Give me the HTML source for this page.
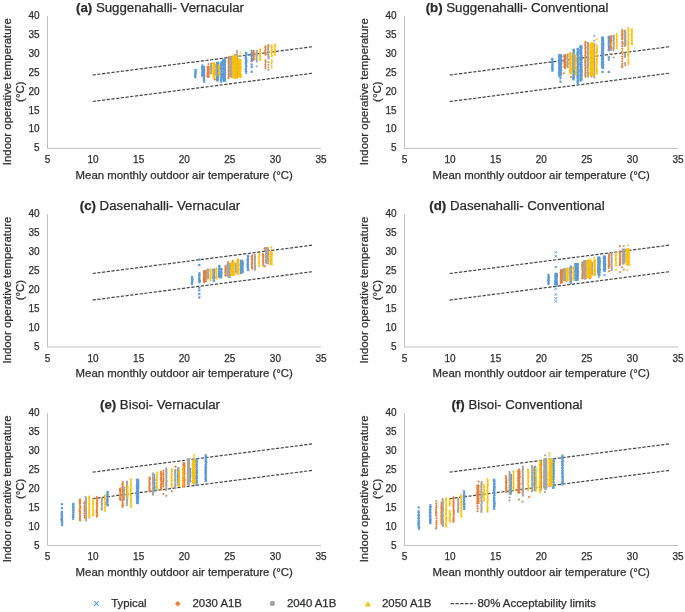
<!DOCTYPE html><html><head><meta charset="utf-8"><style>html,body{margin:0;padding:0;background:#fff;width:685px;height:612px;overflow:hidden}svg{display:block;will-change:transform}text{font-family:"Liberation Sans", sans-serif;stroke:#2e2e2e;stroke-width:0.25px}</style></head><body>
<svg width="685" height="612" viewBox="0 0 685 612">
<g>
<rect width="685" height="612" fill="#fff"/>
<text x="160" y="11.80" font-size="13.25" fill="#2a2a2a" text-anchor="middle"><tspan font-weight="bold">(a)</tspan> Suggenahalli- Vernacular</text>
<text x="39.50" y="151.40" font-size="10" fill="#2e2e2e" text-anchor="end">5</text>
<text x="39.50" y="132.47" font-size="10" fill="#2e2e2e" text-anchor="end">10</text>
<text x="39.50" y="113.54" font-size="10" fill="#2e2e2e" text-anchor="end">15</text>
<text x="39.50" y="94.61" font-size="10" fill="#2e2e2e" text-anchor="end">20</text>
<text x="39.50" y="75.69" font-size="10" fill="#2e2e2e" text-anchor="end">25</text>
<text x="39.50" y="56.76" font-size="10" fill="#2e2e2e" text-anchor="end">30</text>
<text x="39.50" y="37.83" font-size="10" fill="#2e2e2e" text-anchor="end">35</text>
<text x="39.50" y="18.90" font-size="10" fill="#2e2e2e" text-anchor="end">40</text>
<text x="47.50" y="162.90" font-size="10" fill="#2e2e2e" text-anchor="middle">5</text>
<text x="93.08" y="162.90" font-size="10" fill="#2e2e2e" text-anchor="middle">10</text>
<text x="138.67" y="162.90" font-size="10" fill="#2e2e2e" text-anchor="middle">15</text>
<text x="184.25" y="162.90" font-size="10" fill="#2e2e2e" text-anchor="middle">20</text>
<text x="229.83" y="162.90" font-size="10" fill="#2e2e2e" text-anchor="middle">25</text>
<text x="275.42" y="162.90" font-size="10" fill="#2e2e2e" text-anchor="middle">30</text>
<text x="321.00" y="162.90" font-size="10" fill="#2e2e2e" text-anchor="middle">35</text>
<path d="M47.50 15.90V148.40H321.00" fill="none" stroke="#bfbfbf" stroke-width="1"/>
<line x1="92.63" y1="75.02" x2="312.61" y2="46.70" stroke="#444" stroke-width="1.2" stroke-dasharray="3.2 1.54"/>
<line x1="92.63" y1="101.52" x2="312.61" y2="73.20" stroke="#444" stroke-width="1.2" stroke-dasharray="3.2 1.54"/>
<defs>
<path id="mb" d="M-1 -1.05L1 1.05M1 -1.05L-1 1.05" stroke="#5b9bd5" stroke-width="1.25" fill="none"/>
<path id="mo" d="M0 -1.3L1.3 0L0 1.3L-1.3 0Z" fill="#ed7d31"/>
<circle id="mg" r="1.12" fill="#a5a5a5"/>
<path id="my" d="M0 -1.3L1.25 1L-1.25 1Z" fill="#ffc000"/>
<rect id="sb" x="-1.1" y="-1.1" width="2.2" height="2.2" fill="#5b9bd5"/>
<path id="sx" d="M-1.15 -1.15L1.15 1.15M1.15 -1.15L-1.15 1.15" stroke="#5b9bd5" stroke-width="1" fill="none"/>
</defs>
<use href="#mb" x="195.5" y="70.3"/>
<use href="#mb" x="195.6" y="71.5"/>
<use href="#mb" x="195.6" y="72.6"/>
<use href="#mb" x="195.3" y="74.0"/>
<use href="#mb" x="195.3" y="75.5"/>
<use href="#mb" x="195.3" y="76.9"/>
<use href="#mb" x="202.4" y="65.7"/>
<use href="#mb" x="202.3" y="67.5"/>
<use href="#mb" x="202.5" y="68.7"/>
<use href="#mb" x="202.5" y="70.6"/>
<use href="#mb" x="202.7" y="72.1"/>
<use href="#mb" x="202.6" y="73.1"/>
<use href="#mb" x="202.3" y="74.5"/>
<use href="#mb" x="202.4" y="75.6"/>
<use href="#mb" x="203.8" y="66.9"/>
<use href="#mb" x="204.1" y="68.5"/>
<use href="#mb" x="204.0" y="69.9"/>
<use href="#mb" x="203.8" y="71.0"/>
<use href="#mb" x="204.1" y="72.2"/>
<use href="#mb" x="203.9" y="73.6"/>
<use href="#mb" x="204.0" y="75.2"/>
<use href="#mb" x="204.1" y="76.5"/>
<use href="#mb" x="203.9" y="78.2"/>
<use href="#mb" x="204.0" y="79.8"/>
<use href="#mb" x="204.1" y="81.6"/>
<use href="#mb" x="217.3" y="63.0"/>
<use href="#mb" x="217.1" y="64.2"/>
<use href="#mb" x="216.9" y="65.9"/>
<use href="#mb" x="216.9" y="67.4"/>
<use href="#mb" x="217.2" y="69.0"/>
<use href="#mb" x="217.3" y="70.6"/>
<use href="#mb" x="217.2" y="71.9"/>
<use href="#mb" x="217.1" y="73.5"/>
<use href="#mb" x="217.3" y="75.0"/>
<use href="#mb" x="217.1" y="76.9"/>
<use href="#mb" x="216.9" y="78.5"/>
<use href="#mb" x="217.2" y="80.2"/>
<use href="#mb" x="218.1" y="63.0"/>
<use href="#mb" x="217.8" y="64.3"/>
<use href="#mb" x="217.7" y="66.0"/>
<use href="#mb" x="217.7" y="67.4"/>
<use href="#mb" x="217.7" y="68.6"/>
<use href="#mb" x="217.7" y="70.3"/>
<use href="#mb" x="217.8" y="71.6"/>
<use href="#mb" x="217.7" y="73.4"/>
<use href="#mb" x="217.9" y="74.9"/>
<use href="#mb" x="218.1" y="76.7"/>
<use href="#mb" x="217.8" y="78.6"/>
<use href="#mb" x="217.8" y="80.0"/>
<use href="#mb" x="221.5" y="62.5"/>
<use href="#mb" x="221.1" y="63.7"/>
<use href="#mb" x="221.2" y="64.9"/>
<use href="#mb" x="221.3" y="66.4"/>
<use href="#mb" x="221.1" y="67.7"/>
<use href="#mb" x="221.2" y="69.1"/>
<use href="#mb" x="221.5" y="70.7"/>
<use href="#mb" x="221.3" y="72.4"/>
<use href="#mb" x="221.4" y="74.0"/>
<use href="#mb" x="221.5" y="75.1"/>
<use href="#mb" x="221.5" y="76.8"/>
<use href="#mb" x="221.2" y="78.6"/>
<use href="#mb" x="221.1" y="80.0"/>
<use href="#mb" x="221.1" y="81.6"/>
<use href="#mb" x="223.5" y="59.9"/>
<use href="#mb" x="223.5" y="61.1"/>
<use href="#mb" x="223.4" y="62.2"/>
<use href="#mb" x="223.4" y="63.4"/>
<use href="#mb" x="223.4" y="64.8"/>
<use href="#mb" x="223.7" y="66.6"/>
<use href="#mb" x="223.5" y="67.8"/>
<use href="#mb" x="223.5" y="69.1"/>
<use href="#mb" x="223.8" y="70.3"/>
<use href="#mb" x="223.6" y="72.2"/>
<use href="#mb" x="223.4" y="73.7"/>
<use href="#mb" x="223.5" y="74.9"/>
<use href="#mb" x="223.8" y="76.2"/>
<use href="#mb" x="223.4" y="77.4"/>
<use href="#mb" x="223.6" y="79.3"/>
<use href="#mb" x="223.6" y="80.4"/>
<use href="#mb" x="224.8" y="59.9"/>
<use href="#mb" x="225.0" y="61.8"/>
<use href="#mb" x="224.7" y="63.5"/>
<use href="#mb" x="224.6" y="64.9"/>
<use href="#mb" x="224.8" y="66.6"/>
<use href="#mb" x="224.7" y="68.4"/>
<use href="#mb" x="225.0" y="69.6"/>
<use href="#mb" x="225.0" y="71.6"/>
<use href="#mb" x="225.0" y="73.3"/>
<use href="#mb" x="224.7" y="75.1"/>
<use href="#mb" x="224.7" y="76.6"/>
<use href="#mb" x="224.6" y="77.7"/>
<use href="#mb" x="224.7" y="79.0"/>
<use href="#mb" x="225.0" y="80.6"/>
<use href="#mb" x="246.2" y="53.1"/>
<use href="#mb" x="246.2" y="55.0"/>
<use href="#mb" x="245.9" y="56.4"/>
<use href="#mb" x="245.8" y="57.7"/>
<use href="#mb" x="246.1" y="58.9"/>
<use href="#mb" x="246.2" y="60.8"/>
<use href="#mb" x="246.1" y="62.2"/>
<use href="#mb" x="245.8" y="64.0"/>
<use href="#mb" x="246.2" y="65.7"/>
<use href="#mb" x="246.1" y="67.4"/>
<use href="#mb" x="245.8" y="68.9"/>
<use href="#mb" x="245.9" y="70.7"/>
<use href="#mb" x="246.2" y="72.4"/>
<use href="#mb" x="251.7" y="51.3"/>
<use href="#mb" x="251.9" y="53.2"/>
<use href="#mb" x="251.6" y="54.4"/>
<use href="#mb" x="252.0" y="55.6"/>
<use href="#mb" x="251.6" y="57.4"/>
<use href="#mb" x="252.0" y="59.2"/>
<use href="#mb" x="251.7" y="60.8"/>
<use href="#sb" x="251.7" y="64.5"/>
<use href="#sb" x="251.7" y="67.0"/>
<use href="#sb" x="251.7" y="71.8"/>
<use href="#mo" x="207.4" y="66.7"/>
<use href="#mo" x="207.8" y="67.6"/>
<use href="#mo" x="207.6" y="68.9"/>
<use href="#mo" x="207.6" y="70.5"/>
<use href="#mo" x="207.8" y="72.1"/>
<use href="#mo" x="207.5" y="73.1"/>
<use href="#mo" x="207.5" y="74.2"/>
<use href="#mo" x="207.5" y="75.5"/>
<use href="#mo" x="207.4" y="76.7"/>
<use href="#mo" x="208.7" y="66.7"/>
<use href="#mo" x="208.8" y="67.9"/>
<use href="#mo" x="208.8" y="69.5"/>
<use href="#mo" x="208.8" y="71.0"/>
<use href="#mo" x="208.8" y="72.3"/>
<use href="#mo" x="208.8" y="73.2"/>
<use href="#mo" x="208.6" y="74.2"/>
<use href="#mo" x="208.6" y="75.7"/>
<use href="#mo" x="208.9" y="76.9"/>
<use href="#mo" x="228.6" y="57.3"/>
<use href="#mo" x="228.7" y="58.6"/>
<use href="#mo" x="228.5" y="60.0"/>
<use href="#mo" x="228.6" y="61.3"/>
<use href="#mo" x="228.8" y="62.4"/>
<use href="#mo" x="228.7" y="63.7"/>
<use href="#mo" x="228.9" y="65.1"/>
<use href="#mo" x="228.8" y="66.3"/>
<use href="#mo" x="228.7" y="67.6"/>
<use href="#mo" x="228.7" y="69.0"/>
<use href="#mo" x="228.7" y="70.2"/>
<use href="#mo" x="228.8" y="71.8"/>
<use href="#mo" x="228.9" y="73.4"/>
<use href="#mo" x="228.7" y="74.4"/>
<use href="#mo" x="228.9" y="76.0"/>
<use href="#mo" x="228.5" y="77.0"/>
<use href="#mo" x="228.5" y="78.2"/>
<use href="#mo" x="234.9" y="55.0"/>
<use href="#mo" x="235.2" y="56.4"/>
<use href="#mo" x="234.9" y="57.9"/>
<use href="#mo" x="235.2" y="59.3"/>
<use href="#mo" x="235.3" y="60.3"/>
<use href="#mo" x="235.0" y="61.9"/>
<use href="#mo" x="235.0" y="63.5"/>
<use href="#mo" x="235.3" y="64.7"/>
<use href="#mo" x="234.9" y="66.2"/>
<use href="#mo" x="235.1" y="67.4"/>
<use href="#mo" x="234.9" y="68.6"/>
<use href="#mo" x="235.2" y="69.7"/>
<use href="#mo" x="235.1" y="70.6"/>
<use href="#mo" x="234.9" y="71.8"/>
<use href="#mo" x="235.2" y="72.9"/>
<use href="#mo" x="234.9" y="74.2"/>
<use href="#mo" x="235.2" y="75.8"/>
<use href="#mo" x="253.7" y="50.9"/>
<use href="#mo" x="253.7" y="52.0"/>
<use href="#mo" x="253.8" y="53.4"/>
<use href="#mo" x="253.9" y="54.4"/>
<use href="#mo" x="254.1" y="56.0"/>
<use href="#mo" x="253.7" y="57.0"/>
<use href="#mo" x="253.9" y="58.6"/>
<use href="#mo" x="253.7" y="60.0"/>
<use href="#mo" x="265.6" y="46.2"/>
<use href="#mo" x="265.3" y="47.4"/>
<use href="#mo" x="265.6" y="49.0"/>
<use href="#mo" x="265.3" y="50.4"/>
<use href="#mo" x="265.3" y="52.0"/>
<use href="#mo" x="265.5" y="53.5"/>
<use href="#mo" x="265.6" y="54.6"/>
<use href="#mo" x="265.4" y="60.2"/>
<use href="#mo" x="265.6" y="62.1"/>
<use href="#mo" x="265.4" y="64.3"/>
<use href="#mo" x="265.3" y="66.2"/>
<use href="#mo" x="265.5" y="68.3"/>
<use href="#mo" x="208.5" y="64.0"/>
<use href="#mo" x="214.8" y="79.5"/>
<use href="#mo" x="268.3" y="45.1"/>
<use href="#mg" x="211.2" y="63.5"/>
<use href="#mg" x="211.1" y="64.6"/>
<use href="#mg" x="211.0" y="65.6"/>
<use href="#mg" x="211.0" y="66.5"/>
<use href="#mg" x="211.2" y="67.4"/>
<use href="#mg" x="210.9" y="68.7"/>
<use href="#mg" x="211.3" y="69.9"/>
<use href="#mg" x="211.3" y="70.9"/>
<use href="#mg" x="211.1" y="72.0"/>
<use href="#mg" x="211.0" y="73.6"/>
<use href="#mg" x="216.2" y="64.9"/>
<use href="#mg" x="216.1" y="66.5"/>
<use href="#mg" x="216.3" y="68.0"/>
<use href="#mg" x="216.1" y="69.4"/>
<use href="#mg" x="215.9" y="70.5"/>
<use href="#mg" x="215.9" y="71.5"/>
<use href="#mg" x="216.0" y="72.9"/>
<use href="#mg" x="215.9" y="73.9"/>
<use href="#mg" x="216.3" y="75.4"/>
<use href="#mg" x="230.3" y="56.9"/>
<use href="#mg" x="230.3" y="58.0"/>
<use href="#mg" x="230.2" y="59.2"/>
<use href="#mg" x="230.3" y="60.4"/>
<use href="#mg" x="230.6" y="62.0"/>
<use href="#mg" x="230.3" y="63.3"/>
<use href="#mg" x="230.3" y="64.9"/>
<use href="#mg" x="230.2" y="66.0"/>
<use href="#mg" x="230.4" y="67.2"/>
<use href="#mg" x="230.3" y="68.4"/>
<use href="#mg" x="230.2" y="69.7"/>
<use href="#mg" x="230.2" y="70.7"/>
<use href="#mg" x="230.2" y="71.9"/>
<use href="#mg" x="230.3" y="72.8"/>
<use href="#mg" x="230.4" y="73.9"/>
<use href="#mg" x="230.5" y="75.1"/>
<use href="#mg" x="230.5" y="76.5"/>
<use href="#mg" x="231.8" y="56.9"/>
<use href="#mg" x="232.1" y="58.0"/>
<use href="#mg" x="232.0" y="59.0"/>
<use href="#mg" x="231.7" y="60.4"/>
<use href="#mg" x="232.1" y="61.9"/>
<use href="#mg" x="232.0" y="63.2"/>
<use href="#mg" x="231.7" y="64.7"/>
<use href="#mg" x="231.9" y="66.0"/>
<use href="#mg" x="232.1" y="67.5"/>
<use href="#mg" x="231.9" y="69.0"/>
<use href="#mg" x="232.0" y="70.5"/>
<use href="#mg" x="231.8" y="71.9"/>
<use href="#mg" x="231.7" y="72.8"/>
<use href="#mg" x="231.7" y="73.9"/>
<use href="#mg" x="231.9" y="75.4"/>
<use href="#mg" x="232.0" y="76.8"/>
<use href="#mg" x="237.0" y="54.6"/>
<use href="#mg" x="237.1" y="55.5"/>
<use href="#mg" x="237.0" y="56.9"/>
<use href="#mg" x="237.1" y="58.2"/>
<use href="#mg" x="237.1" y="59.1"/>
<use href="#mg" x="236.8" y="60.2"/>
<use href="#mg" x="237.1" y="61.3"/>
<use href="#mg" x="237.1" y="62.3"/>
<use href="#mg" x="237.0" y="63.9"/>
<use href="#mg" x="237.0" y="65.1"/>
<use href="#mg" x="237.1" y="66.4"/>
<use href="#mg" x="237.1" y="67.8"/>
<use href="#mg" x="236.8" y="68.7"/>
<use href="#mg" x="237.1" y="69.8"/>
<use href="#mg" x="237.0" y="70.9"/>
<use href="#mg" x="236.8" y="71.8"/>
<use href="#mg" x="237.1" y="72.8"/>
<use href="#mg" x="237.1" y="74.2"/>
<use href="#mg" x="237.0" y="75.3"/>
<use href="#mg" x="237.0" y="76.5"/>
<use href="#mg" x="237.2" y="77.5"/>
<use href="#mg" x="256.9" y="50.9"/>
<use href="#mg" x="256.5" y="52.5"/>
<use href="#mg" x="256.9" y="53.7"/>
<use href="#mg" x="256.7" y="55.3"/>
<use href="#mg" x="256.6" y="56.4"/>
<use href="#mg" x="256.6" y="58.0"/>
<use href="#mg" x="256.5" y="59.3"/>
<use href="#mg" x="256.9" y="60.5"/>
<use href="#mg" x="256.9" y="61.5"/>
<use href="#mg" x="268.5" y="45.9"/>
<use href="#mg" x="268.2" y="47.3"/>
<use href="#mg" x="268.3" y="48.9"/>
<use href="#mg" x="268.1" y="49.7"/>
<use href="#mg" x="268.3" y="51.0"/>
<use href="#mg" x="268.2" y="52.1"/>
<use href="#mg" x="268.3" y="53.2"/>
<use href="#mg" x="268.1" y="54.7"/>
<use href="#mg" x="268.5" y="56.2"/>
<use href="#mg" x="268.6" y="57.1"/>
<use href="#mg" x="268.6" y="58.5"/>
<use href="#mg" x="237.0" y="51.0"/>
<use href="#mg" x="237.0" y="52.3"/>
<use href="#mg" x="256.7" y="66.3"/>
<use href="#mg" x="268.4" y="62.0"/>
<use href="#mg" x="268.4" y="64.8"/>
<use href="#mg" x="268.4" y="67.5"/>
<use href="#mg" x="268.4" y="70.0"/>
<use href="#my" x="213.1" y="63.0"/>
<use href="#my" x="213.4" y="64.2"/>
<use href="#my" x="213.1" y="65.5"/>
<use href="#my" x="213.1" y="66.7"/>
<use href="#my" x="213.0" y="67.6"/>
<use href="#my" x="213.1" y="69.1"/>
<use href="#my" x="213.1" y="70.7"/>
<use href="#my" x="213.2" y="71.7"/>
<use href="#my" x="213.1" y="72.8"/>
<use href="#my" x="213.4" y="74.4"/>
<use href="#my" x="213.3" y="75.8"/>
<use href="#my" x="213.4" y="77.4"/>
<use href="#my" x="214.5" y="63.0"/>
<use href="#my" x="214.5" y="63.9"/>
<use href="#my" x="214.5" y="65.1"/>
<use href="#my" x="214.3" y="66.5"/>
<use href="#my" x="214.6" y="67.4"/>
<use href="#my" x="214.4" y="68.4"/>
<use href="#my" x="214.3" y="69.5"/>
<use href="#my" x="214.6" y="70.9"/>
<use href="#my" x="214.5" y="72.0"/>
<use href="#my" x="214.4" y="73.1"/>
<use href="#my" x="214.2" y="74.3"/>
<use href="#my" x="214.3" y="75.3"/>
<use href="#my" x="214.4" y="76.8"/>
<use href="#my" x="214.6" y="77.9"/>
<use href="#my" x="219.2" y="65.2"/>
<use href="#my" x="219.0" y="66.2"/>
<use href="#my" x="219.1" y="67.1"/>
<use href="#my" x="219.1" y="68.1"/>
<use href="#my" x="219.2" y="69.1"/>
<use href="#my" x="219.3" y="70.7"/>
<use href="#my" x="219.2" y="71.9"/>
<use href="#my" x="219.1" y="73.1"/>
<use href="#my" x="219.0" y="74.3"/>
<use href="#my" x="219.4" y="75.3"/>
<use href="#my" x="233.0" y="56.1"/>
<use href="#my" x="233.2" y="57.4"/>
<use href="#my" x="232.9" y="58.5"/>
<use href="#my" x="232.9" y="59.5"/>
<use href="#my" x="233.2" y="60.8"/>
<use href="#my" x="233.2" y="62.3"/>
<use href="#my" x="232.8" y="63.2"/>
<use href="#my" x="233.2" y="64.6"/>
<use href="#my" x="233.0" y="65.8"/>
<use href="#my" x="232.9" y="66.7"/>
<use href="#my" x="233.2" y="68.2"/>
<use href="#my" x="233.2" y="69.8"/>
<use href="#my" x="232.8" y="70.8"/>
<use href="#my" x="233.0" y="71.8"/>
<use href="#my" x="233.2" y="73.2"/>
<use href="#my" x="233.1" y="74.6"/>
<use href="#my" x="233.0" y="76.1"/>
<use href="#my" x="232.8" y="77.3"/>
<use href="#my" x="233.9" y="56.1"/>
<use href="#my" x="234.1" y="57.7"/>
<use href="#my" x="233.8" y="58.8"/>
<use href="#my" x="234.1" y="59.8"/>
<use href="#my" x="233.8" y="61.2"/>
<use href="#my" x="234.0" y="62.2"/>
<use href="#my" x="234.0" y="63.5"/>
<use href="#my" x="234.1" y="64.5"/>
<use href="#my" x="233.9" y="65.4"/>
<use href="#my" x="234.3" y="66.6"/>
<use href="#my" x="234.2" y="68.0"/>
<use href="#my" x="233.9" y="69.2"/>
<use href="#my" x="234.3" y="70.3"/>
<use href="#my" x="233.9" y="71.7"/>
<use href="#my" x="234.0" y="72.6"/>
<use href="#my" x="234.0" y="73.9"/>
<use href="#my" x="234.1" y="75.0"/>
<use href="#my" x="233.9" y="76.6"/>
<use href="#my" x="234.0" y="77.5"/>
<use href="#my" x="235.2" y="56.1"/>
<use href="#my" x="235.2" y="57.1"/>
<use href="#my" x="235.1" y="58.6"/>
<use href="#my" x="235.3" y="59.6"/>
<use href="#my" x="235.2" y="60.7"/>
<use href="#my" x="234.9" y="61.7"/>
<use href="#my" x="235.0" y="63.2"/>
<use href="#my" x="235.1" y="64.8"/>
<use href="#my" x="234.9" y="65.8"/>
<use href="#my" x="235.1" y="67.0"/>
<use href="#my" x="234.9" y="68.6"/>
<use href="#my" x="234.9" y="69.7"/>
<use href="#my" x="234.9" y="71.3"/>
<use href="#my" x="234.8" y="72.3"/>
<use href="#my" x="235.3" y="73.4"/>
<use href="#my" x="235.2" y="75.0"/>
<use href="#my" x="235.3" y="76.6"/>
<use href="#my" x="234.9" y="77.7"/>
<use href="#my" x="236.2" y="56.1"/>
<use href="#my" x="236.2" y="57.0"/>
<use href="#my" x="236.0" y="58.2"/>
<use href="#my" x="235.9" y="59.3"/>
<use href="#my" x="236.0" y="60.2"/>
<use href="#my" x="236.3" y="61.3"/>
<use href="#my" x="236.3" y="62.3"/>
<use href="#my" x="236.0" y="63.3"/>
<use href="#my" x="236.3" y="64.8"/>
<use href="#my" x="235.9" y="66.0"/>
<use href="#my" x="236.0" y="67.2"/>
<use href="#my" x="235.9" y="68.8"/>
<use href="#my" x="236.3" y="69.9"/>
<use href="#my" x="236.1" y="70.8"/>
<use href="#my" x="236.2" y="72.3"/>
<use href="#my" x="235.9" y="73.2"/>
<use href="#my" x="236.3" y="74.1"/>
<use href="#my" x="236.2" y="75.2"/>
<use href="#my" x="236.0" y="76.8"/>
<use href="#my" x="236.3" y="77.8"/>
<use href="#my" x="238.2" y="59.5"/>
<use href="#my" x="238.2" y="60.9"/>
<use href="#my" x="238.1" y="62.0"/>
<use href="#my" x="238.5" y="63.4"/>
<use href="#my" x="238.5" y="64.8"/>
<use href="#my" x="238.2" y="65.7"/>
<use href="#my" x="238.5" y="66.9"/>
<use href="#my" x="238.2" y="68.5"/>
<use href="#my" x="238.3" y="69.6"/>
<use href="#my" x="238.5" y="70.8"/>
<use href="#my" x="238.5" y="71.8"/>
<use href="#my" x="238.5" y="73.3"/>
<use href="#my" x="238.4" y="74.7"/>
<use href="#my" x="238.2" y="75.8"/>
<use href="#my" x="239.6" y="59.5"/>
<use href="#my" x="239.3" y="60.4"/>
<use href="#my" x="239.3" y="61.9"/>
<use href="#my" x="239.2" y="62.8"/>
<use href="#my" x="239.4" y="64.1"/>
<use href="#my" x="239.6" y="65.7"/>
<use href="#my" x="239.3" y="67.3"/>
<use href="#my" x="239.2" y="68.3"/>
<use href="#my" x="239.6" y="69.5"/>
<use href="#my" x="239.3" y="70.7"/>
<use href="#my" x="239.5" y="71.9"/>
<use href="#my" x="239.6" y="73.3"/>
<use href="#my" x="239.5" y="74.8"/>
<use href="#my" x="239.6" y="75.8"/>
<use href="#my" x="239.5" y="76.8"/>
<use href="#my" x="240.7" y="59.5"/>
<use href="#my" x="240.5" y="60.5"/>
<use href="#my" x="240.4" y="61.6"/>
<use href="#my" x="240.6" y="63.1"/>
<use href="#my" x="240.5" y="64.2"/>
<use href="#my" x="240.6" y="65.9"/>
<use href="#my" x="240.8" y="66.9"/>
<use href="#my" x="240.8" y="68.3"/>
<use href="#my" x="240.6" y="69.2"/>
<use href="#my" x="240.8" y="70.7"/>
<use href="#my" x="240.4" y="72.3"/>
<use href="#my" x="240.4" y="73.4"/>
<use href="#my" x="240.8" y="74.4"/>
<use href="#my" x="240.8" y="75.7"/>
<use href="#my" x="240.8" y="76.9"/>
<use href="#my" x="260.0" y="49.3"/>
<use href="#my" x="260.3" y="50.8"/>
<use href="#my" x="260.1" y="51.7"/>
<use href="#my" x="260.0" y="53.1"/>
<use href="#my" x="259.9" y="54.2"/>
<use href="#my" x="260.0" y="55.2"/>
<use href="#my" x="260.2" y="56.6"/>
<use href="#my" x="259.9" y="57.6"/>
<use href="#my" x="260.2" y="58.7"/>
<use href="#my" x="260.0" y="59.7"/>
<use href="#my" x="271.9" y="45.0"/>
<use href="#my" x="271.5" y="46.3"/>
<use href="#my" x="271.7" y="47.2"/>
<use href="#my" x="271.8" y="48.5"/>
<use href="#my" x="271.6" y="49.5"/>
<use href="#my" x="271.7" y="50.9"/>
<use href="#my" x="271.7" y="52.0"/>
<use href="#my" x="271.7" y="53.5"/>
<use href="#my" x="271.7" y="54.8"/>
<use href="#my" x="271.9" y="56.0"/>
<use href="#my" x="271.7" y="59.6"/>
<use href="#my" x="271.9" y="61.2"/>
<use href="#my" x="271.5" y="62.9"/>
<use href="#my" x="271.7" y="65.4"/>
<use href="#my" x="271.7" y="67.7"/>
<use href="#my" x="275.0" y="44.4"/>
<use href="#my" x="274.8" y="45.4"/>
<use href="#my" x="275.1" y="46.7"/>
<use href="#my" x="274.8" y="48.2"/>
<use href="#my" x="275.0" y="49.6"/>
<use href="#my" x="274.9" y="50.8"/>
<use href="#my" x="275.1" y="51.9"/>
<use href="#my" x="274.9" y="53.5"/>
<use href="#my" x="275.2" y="54.7"/>
<use href="#my" x="240.2" y="52.6"/>
<use href="#my" x="240.2" y="55.6"/>
<text x="184.25" y="178.60" font-size="11.4" fill="#2e2e2e" text-anchor="middle">Mean monthly outdoor air temperature (°C)</text>
<text transform="translate(11.00,91.70) rotate(-90)" font-size="11.4" fill="#2e2e2e" text-anchor="middle">Indoor operative temperature</text>
<text transform="translate(23.50,91.70) rotate(-90)" font-size="11.4" fill="#2e2e2e" text-anchor="middle">(°C)</text>
<text x="517" y="11.80" font-size="13.25" fill="#2a2a2a" text-anchor="middle"><tspan font-weight="bold">(b)</tspan> Suggenahalli- Conventional</text>
<text x="396.50" y="151.40" font-size="10" fill="#2e2e2e" text-anchor="end">5</text>
<text x="396.50" y="132.47" font-size="10" fill="#2e2e2e" text-anchor="end">10</text>
<text x="396.50" y="113.54" font-size="10" fill="#2e2e2e" text-anchor="end">15</text>
<text x="396.50" y="94.61" font-size="10" fill="#2e2e2e" text-anchor="end">20</text>
<text x="396.50" y="75.69" font-size="10" fill="#2e2e2e" text-anchor="end">25</text>
<text x="396.50" y="56.76" font-size="10" fill="#2e2e2e" text-anchor="end">30</text>
<text x="396.50" y="37.83" font-size="10" fill="#2e2e2e" text-anchor="end">35</text>
<text x="396.50" y="18.90" font-size="10" fill="#2e2e2e" text-anchor="end">40</text>
<text x="404.50" y="162.90" font-size="10" fill="#2e2e2e" text-anchor="middle">5</text>
<text x="450.08" y="162.90" font-size="10" fill="#2e2e2e" text-anchor="middle">10</text>
<text x="495.67" y="162.90" font-size="10" fill="#2e2e2e" text-anchor="middle">15</text>
<text x="541.25" y="162.90" font-size="10" fill="#2e2e2e" text-anchor="middle">20</text>
<text x="586.83" y="162.90" font-size="10" fill="#2e2e2e" text-anchor="middle">25</text>
<text x="632.42" y="162.90" font-size="10" fill="#2e2e2e" text-anchor="middle">30</text>
<text x="678.00" y="162.90" font-size="10" fill="#2e2e2e" text-anchor="middle">35</text>
<path d="M404.50 15.90V148.40H678.00" fill="none" stroke="#bfbfbf" stroke-width="1"/>
<line x1="449.63" y1="75.02" x2="669.61" y2="46.70" stroke="#444" stroke-width="1.2" stroke-dasharray="3.2 1.54"/>
<line x1="449.63" y1="101.52" x2="669.61" y2="73.20" stroke="#444" stroke-width="1.2" stroke-dasharray="3.2 1.54"/>
<use href="#mb" x="552.1" y="59.1"/>
<use href="#mb" x="552.5" y="60.3"/>
<use href="#mb" x="552.3" y="62.2"/>
<use href="#mb" x="552.5" y="63.3"/>
<use href="#mb" x="552.5" y="64.7"/>
<use href="#mb" x="552.5" y="66.3"/>
<use href="#mb" x="552.4" y="67.5"/>
<use href="#mb" x="552.3" y="68.7"/>
<use href="#mb" x="552.5" y="70.6"/>
<use href="#mb" x="559.2" y="55.6"/>
<use href="#mb" x="559.3" y="57.0"/>
<use href="#mb" x="559.1" y="58.4"/>
<use href="#mb" x="559.4" y="59.7"/>
<use href="#mb" x="559.1" y="61.5"/>
<use href="#mb" x="559.4" y="63.1"/>
<use href="#mb" x="559.5" y="64.2"/>
<use href="#mb" x="559.3" y="65.3"/>
<use href="#mb" x="559.4" y="66.9"/>
<use href="#mb" x="559.3" y="68.2"/>
<use href="#mb" x="559.3" y="69.8"/>
<use href="#mb" x="559.3" y="71.4"/>
<use href="#mb" x="559.1" y="72.9"/>
<use href="#mb" x="559.3" y="74.5"/>
<use href="#mb" x="559.4" y="75.7"/>
<use href="#mb" x="560.1" y="55.6"/>
<use href="#mb" x="560.1" y="56.8"/>
<use href="#mb" x="560.0" y="58.0"/>
<use href="#mb" x="559.9" y="59.4"/>
<use href="#mb" x="560.2" y="60.8"/>
<use href="#mb" x="560.2" y="61.9"/>
<use href="#mb" x="560.3" y="63.1"/>
<use href="#mb" x="560.2" y="64.8"/>
<use href="#mb" x="560.2" y="65.9"/>
<use href="#mb" x="560.4" y="67.3"/>
<use href="#mb" x="560.3" y="68.5"/>
<use href="#mb" x="560.3" y="70.4"/>
<use href="#mb" x="560.0" y="72.2"/>
<use href="#mb" x="560.1" y="74.1"/>
<use href="#mb" x="561.2" y="55.6"/>
<use href="#mb" x="561.1" y="56.8"/>
<use href="#mb" x="560.8" y="58.7"/>
<use href="#mb" x="561.1" y="60.1"/>
<use href="#mb" x="561.2" y="61.2"/>
<use href="#mb" x="561.2" y="62.5"/>
<use href="#mb" x="561.0" y="63.7"/>
<use href="#mb" x="560.9" y="65.6"/>
<use href="#mb" x="561.0" y="66.9"/>
<use href="#mb" x="560.8" y="68.2"/>
<use href="#mb" x="560.8" y="69.4"/>
<use href="#mb" x="561.1" y="71.3"/>
<use href="#mb" x="560.8" y="73.2"/>
<use href="#mb" x="560.8" y="74.9"/>
<use href="#mb" x="573.7" y="50.1"/>
<use href="#mb" x="573.8" y="51.5"/>
<use href="#mb" x="573.7" y="53.0"/>
<use href="#mb" x="573.5" y="54.9"/>
<use href="#mb" x="573.7" y="56.8"/>
<use href="#mb" x="573.8" y="58.2"/>
<use href="#mb" x="573.9" y="59.5"/>
<use href="#mb" x="573.6" y="61.1"/>
<use href="#mb" x="573.6" y="62.8"/>
<use href="#mb" x="573.8" y="64.0"/>
<use href="#mb" x="573.8" y="65.1"/>
<use href="#mb" x="573.7" y="66.4"/>
<use href="#mb" x="573.7" y="68.3"/>
<use href="#mb" x="573.6" y="70.0"/>
<use href="#mb" x="573.4" y="71.0"/>
<use href="#mb" x="573.7" y="72.2"/>
<use href="#mb" x="573.7" y="73.7"/>
<use href="#mb" x="573.5" y="75.5"/>
<use href="#mb" x="573.7" y="76.8"/>
<use href="#mb" x="573.4" y="77.8"/>
<use href="#mb" x="573.5" y="79.2"/>
<use href="#mb" x="577.7" y="48.9"/>
<use href="#mb" x="577.8" y="50.5"/>
<use href="#mb" x="577.9" y="51.7"/>
<use href="#mb" x="577.6" y="53.2"/>
<use href="#mb" x="577.7" y="55.1"/>
<use href="#mb" x="577.6" y="56.3"/>
<use href="#mb" x="578.0" y="57.9"/>
<use href="#mb" x="577.8" y="59.6"/>
<use href="#mb" x="577.6" y="60.9"/>
<use href="#mb" x="577.8" y="62.6"/>
<use href="#mb" x="577.9" y="63.9"/>
<use href="#mb" x="578.0" y="65.4"/>
<use href="#mb" x="577.7" y="67.1"/>
<use href="#mb" x="577.6" y="68.9"/>
<use href="#mb" x="577.8" y="70.5"/>
<use href="#mb" x="577.6" y="71.7"/>
<use href="#mb" x="577.6" y="73.5"/>
<use href="#mb" x="578.0" y="75.0"/>
<use href="#mb" x="577.6" y="76.2"/>
<use href="#mb" x="577.8" y="77.8"/>
<use href="#mb" x="578.0" y="79.4"/>
<use href="#mb" x="577.7" y="80.6"/>
<use href="#mb" x="577.6" y="82.0"/>
<use href="#mb" x="577.9" y="83.8"/>
<use href="#mb" x="580.3" y="46.6"/>
<use href="#mb" x="580.6" y="48.4"/>
<use href="#mb" x="580.6" y="49.9"/>
<use href="#mb" x="580.4" y="51.3"/>
<use href="#mb" x="580.4" y="52.5"/>
<use href="#mb" x="580.4" y="53.6"/>
<use href="#mb" x="580.6" y="55.3"/>
<use href="#mb" x="580.6" y="57.1"/>
<use href="#mb" x="580.5" y="58.4"/>
<use href="#mb" x="580.6" y="59.8"/>
<use href="#mb" x="580.4" y="61.4"/>
<use href="#mb" x="580.7" y="63.0"/>
<use href="#mb" x="580.7" y="64.2"/>
<use href="#mb" x="580.4" y="65.3"/>
<use href="#mb" x="580.6" y="66.6"/>
<use href="#mb" x="580.6" y="68.5"/>
<use href="#mb" x="580.7" y="69.8"/>
<use href="#mb" x="580.4" y="71.1"/>
<use href="#mb" x="580.6" y="73.0"/>
<use href="#mb" x="580.6" y="74.7"/>
<use href="#mb" x="580.5" y="76.6"/>
<use href="#mb" x="580.6" y="78.4"/>
<use href="#mb" x="580.5" y="80.2"/>
<use href="#mb" x="581.4" y="46.6"/>
<use href="#mb" x="581.3" y="47.9"/>
<use href="#mb" x="581.2" y="49.5"/>
<use href="#mb" x="581.2" y="51.4"/>
<use href="#mb" x="581.2" y="52.5"/>
<use href="#mb" x="581.3" y="54.4"/>
<use href="#mb" x="581.2" y="55.5"/>
<use href="#mb" x="581.5" y="56.6"/>
<use href="#mb" x="581.5" y="58.3"/>
<use href="#mb" x="581.2" y="60.0"/>
<use href="#mb" x="581.3" y="61.5"/>
<use href="#mb" x="581.6" y="63.3"/>
<use href="#mb" x="581.2" y="65.2"/>
<use href="#mb" x="581.6" y="67.0"/>
<use href="#mb" x="581.2" y="68.9"/>
<use href="#mb" x="581.2" y="70.2"/>
<use href="#mb" x="581.6" y="71.2"/>
<use href="#mb" x="581.5" y="73.0"/>
<use href="#mb" x="581.5" y="74.8"/>
<use href="#mb" x="581.2" y="76.1"/>
<use href="#mb" x="581.5" y="77.3"/>
<use href="#mb" x="581.3" y="78.5"/>
<use href="#mb" x="581.2" y="79.9"/>
<use href="#mb" x="602.2" y="37.8"/>
<use href="#mb" x="602.2" y="39.5"/>
<use href="#mb" x="602.5" y="40.8"/>
<use href="#mb" x="602.5" y="42.3"/>
<use href="#mb" x="602.1" y="43.9"/>
<use href="#mb" x="602.3" y="45.4"/>
<use href="#mb" x="602.2" y="47.1"/>
<use href="#mb" x="602.3" y="48.8"/>
<use href="#mb" x="602.5" y="50.0"/>
<use href="#mb" x="602.5" y="51.2"/>
<use href="#mb" x="602.1" y="52.4"/>
<use href="#mb" x="602.4" y="53.6"/>
<use href="#mb" x="602.1" y="55.5"/>
<use href="#mb" x="602.3" y="57.0"/>
<use href="#mb" x="602.1" y="58.8"/>
<use href="#mb" x="602.2" y="60.3"/>
<use href="#mb" x="602.2" y="62.1"/>
<use href="#mb" x="602.2" y="64.0"/>
<use href="#mb" x="602.4" y="65.2"/>
<use href="#mb" x="602.1" y="66.7"/>
<use href="#mb" x="602.7" y="37.8"/>
<use href="#mb" x="603.0" y="39.6"/>
<use href="#mb" x="603.0" y="41.3"/>
<use href="#mb" x="602.9" y="42.7"/>
<use href="#mb" x="603.1" y="44.1"/>
<use href="#mb" x="603.1" y="45.2"/>
<use href="#mb" x="602.8" y="46.3"/>
<use href="#mb" x="603.1" y="47.6"/>
<use href="#mb" x="602.8" y="49.1"/>
<use href="#mb" x="602.8" y="50.9"/>
<use href="#mb" x="602.9" y="52.4"/>
<use href="#mb" x="603.0" y="54.1"/>
<use href="#mb" x="602.8" y="55.8"/>
<use href="#mb" x="602.7" y="57.1"/>
<use href="#mb" x="603.0" y="58.9"/>
<use href="#mb" x="602.7" y="60.6"/>
<use href="#mb" x="603.0" y="62.1"/>
<use href="#mb" x="602.7" y="63.6"/>
<use href="#mb" x="603.1" y="65.1"/>
<use href="#mb" x="602.7" y="66.4"/>
<use href="#mb" x="603.0" y="67.7"/>
<use href="#mb" x="608.8" y="36.9"/>
<use href="#mb" x="608.9" y="38.1"/>
<use href="#mb" x="609.0" y="39.4"/>
<use href="#mb" x="608.9" y="40.6"/>
<use href="#mb" x="609.2" y="41.8"/>
<use href="#mb" x="608.8" y="43.6"/>
<use href="#mb" x="608.8" y="45.5"/>
<use href="#mb" x="609.2" y="46.9"/>
<use href="#mb" x="609.1" y="48.6"/>
<use href="#mb" x="608.8" y="50.1"/>
<use href="#sb" x="560.5" y="78.2"/>
<use href="#sb" x="560.5" y="81.6"/>
<use href="#sb" x="602.6" y="71.9"/>
<use href="#sb" x="608.8" y="57.3"/>
<use href="#sb" x="608.8" y="59.6"/>
<use href="#sb" x="608.8" y="71.9"/>
<use href="#mo" x="564.2" y="55.2"/>
<use href="#mo" x="564.3" y="56.2"/>
<use href="#mo" x="564.3" y="57.1"/>
<use href="#mo" x="564.5" y="58.6"/>
<use href="#mo" x="564.5" y="59.8"/>
<use href="#mo" x="564.2" y="61.1"/>
<use href="#mo" x="564.4" y="62.4"/>
<use href="#mo" x="564.6" y="63.8"/>
<use href="#mo" x="564.4" y="65.0"/>
<use href="#mo" x="564.4" y="66.5"/>
<use href="#mo" x="564.5" y="67.5"/>
<use href="#mo" x="565.4" y="55.2"/>
<use href="#mo" x="565.5" y="56.6"/>
<use href="#mo" x="565.4" y="58.0"/>
<use href="#mo" x="565.2" y="59.2"/>
<use href="#mo" x="565.1" y="60.5"/>
<use href="#mo" x="565.4" y="61.7"/>
<use href="#mo" x="565.4" y="63.1"/>
<use href="#mo" x="565.3" y="64.2"/>
<use href="#mo" x="565.4" y="65.4"/>
<use href="#mo" x="565.4" y="66.6"/>
<use href="#mo" x="565.1" y="68.2"/>
<use href="#mo" x="585.6" y="41.9"/>
<use href="#mo" x="585.4" y="43.1"/>
<use href="#mo" x="585.2" y="44.7"/>
<use href="#mo" x="585.3" y="46.0"/>
<use href="#mo" x="585.7" y="47.4"/>
<use href="#mo" x="585.3" y="48.7"/>
<use href="#mo" x="585.5" y="50.0"/>
<use href="#mo" x="585.5" y="51.4"/>
<use href="#mo" x="585.6" y="52.8"/>
<use href="#mo" x="585.4" y="54.0"/>
<use href="#mo" x="585.3" y="55.6"/>
<use href="#mo" x="585.4" y="57.0"/>
<use href="#mo" x="585.3" y="58.4"/>
<use href="#mo" x="585.4" y="60.1"/>
<use href="#mo" x="585.3" y="61.0"/>
<use href="#mo" x="585.2" y="62.1"/>
<use href="#mo" x="585.4" y="63.3"/>
<use href="#mo" x="585.4" y="64.7"/>
<use href="#mo" x="585.3" y="65.8"/>
<use href="#mo" x="585.7" y="67.2"/>
<use href="#mo" x="585.3" y="68.5"/>
<use href="#mo" x="585.4" y="70.0"/>
<use href="#mo" x="585.3" y="71.0"/>
<use href="#mo" x="585.6" y="72.5"/>
<use href="#mo" x="585.4" y="73.8"/>
<use href="#mo" x="585.3" y="75.1"/>
<use href="#mo" x="585.4" y="76.7"/>
<use href="#mo" x="611.1" y="35.9"/>
<use href="#mo" x="610.9" y="37.4"/>
<use href="#mo" x="610.9" y="38.5"/>
<use href="#mo" x="611.1" y="39.5"/>
<use href="#mo" x="611.1" y="40.6"/>
<use href="#mo" x="610.8" y="41.7"/>
<use href="#mo" x="610.9" y="42.7"/>
<use href="#mo" x="610.7" y="43.7"/>
<use href="#mo" x="610.8" y="45.2"/>
<use href="#mo" x="610.8" y="46.2"/>
<use href="#mo" x="610.9" y="47.5"/>
<use href="#mo" x="611.0" y="48.8"/>
<use href="#mo" x="611.1" y="50.0"/>
<use href="#mo" x="622.0" y="30.1"/>
<use href="#mo" x="622.5" y="31.6"/>
<use href="#mo" x="622.1" y="33.1"/>
<use href="#mo" x="622.3" y="34.6"/>
<use href="#mo" x="622.0" y="35.4"/>
<use href="#mo" x="622.3" y="37.0"/>
<use href="#mo" x="622.1" y="38.1"/>
<use href="#mo" x="622.1" y="39.1"/>
<use href="#mo" x="622.2" y="41.9"/>
<use href="#mo" x="622.5" y="43.6"/>
<use href="#mo" x="622.1" y="46.1"/>
<use href="#mo" x="622.3" y="48.7"/>
<use href="#mo" x="622.3" y="51.2"/>
<use href="#mo" x="622.4" y="53.8"/>
<use href="#mo" x="622.1" y="56.4"/>
<use href="#mo" x="622.3" y="58.7"/>
<use href="#mo" x="622.2" y="61.2"/>
<use href="#mo" x="622.3" y="63.8"/>
<use href="#mo" x="622.1" y="65.6"/>
<use href="#mo" x="622.2" y="67.3"/>
<use href="#mo" x="564.0" y="73.3"/>
<use href="#mo" x="571.0" y="76.9"/>
<use href="#mo" x="591.5" y="76.5"/>
<use href="#mg" x="567.6" y="54.4"/>
<use href="#mg" x="567.6" y="55.4"/>
<use href="#mg" x="567.6" y="56.6"/>
<use href="#mg" x="567.4" y="58.2"/>
<use href="#mg" x="567.6" y="59.7"/>
<use href="#mg" x="567.7" y="61.0"/>
<use href="#mg" x="567.5" y="62.5"/>
<use href="#mg" x="567.8" y="63.7"/>
<use href="#mg" x="567.7" y="64.6"/>
<use href="#mg" x="567.4" y="65.9"/>
<use href="#mg" x="567.7" y="67.3"/>
<use href="#mg" x="572.9" y="54.0"/>
<use href="#mg" x="573.0" y="55.6"/>
<use href="#mg" x="573.2" y="56.8"/>
<use href="#mg" x="573.1" y="57.8"/>
<use href="#mg" x="572.9" y="59.1"/>
<use href="#mg" x="572.9" y="60.6"/>
<use href="#mg" x="573.0" y="61.8"/>
<use href="#mg" x="572.9" y="63.3"/>
<use href="#mg" x="573.0" y="64.5"/>
<use href="#mg" x="573.2" y="65.8"/>
<use href="#mg" x="573.2" y="66.9"/>
<use href="#mg" x="573.0" y="68.1"/>
<use href="#mg" x="573.0" y="69.1"/>
<use href="#mg" x="573.7" y="54.0"/>
<use href="#mg" x="573.5" y="55.5"/>
<use href="#mg" x="573.5" y="56.6"/>
<use href="#mg" x="573.7" y="57.9"/>
<use href="#mg" x="573.4" y="59.4"/>
<use href="#mg" x="573.8" y="60.8"/>
<use href="#mg" x="573.4" y="62.1"/>
<use href="#mg" x="573.4" y="63.2"/>
<use href="#mg" x="573.8" y="64.2"/>
<use href="#mg" x="573.7" y="65.5"/>
<use href="#mg" x="573.8" y="67.0"/>
<use href="#mg" x="573.7" y="68.3"/>
<use href="#mg" x="573.7" y="69.7"/>
<use href="#mg" x="588.0" y="42.8"/>
<use href="#mg" x="588.0" y="43.8"/>
<use href="#mg" x="588.1" y="45.1"/>
<use href="#mg" x="587.8" y="46.0"/>
<use href="#mg" x="588.1" y="46.9"/>
<use href="#mg" x="588.0" y="48.5"/>
<use href="#mg" x="588.1" y="49.6"/>
<use href="#mg" x="588.0" y="51.1"/>
<use href="#mg" x="587.9" y="52.2"/>
<use href="#mg" x="587.9" y="53.3"/>
<use href="#mg" x="588.0" y="54.5"/>
<use href="#mg" x="587.7" y="56.1"/>
<use href="#mg" x="587.7" y="57.4"/>
<use href="#mg" x="588.1" y="58.4"/>
<use href="#mg" x="588.2" y="59.7"/>
<use href="#mg" x="587.7" y="60.9"/>
<use href="#mg" x="588.0" y="62.1"/>
<use href="#mg" x="588.2" y="63.6"/>
<use href="#mg" x="587.9" y="64.9"/>
<use href="#mg" x="588.0" y="65.8"/>
<use href="#mg" x="587.8" y="66.9"/>
<use href="#mg" x="587.7" y="67.7"/>
<use href="#mg" x="587.8" y="69.1"/>
<use href="#mg" x="587.7" y="70.7"/>
<use href="#mg" x="587.8" y="72.3"/>
<use href="#mg" x="588.1" y="73.1"/>
<use href="#mg" x="588.1" y="74.2"/>
<use href="#mg" x="587.7" y="75.2"/>
<use href="#mg" x="588.1" y="76.7"/>
<use href="#mg" x="594.4" y="44.1"/>
<use href="#mg" x="594.3" y="45.0"/>
<use href="#mg" x="594.2" y="46.4"/>
<use href="#mg" x="594.1" y="48.0"/>
<use href="#mg" x="594.4" y="49.6"/>
<use href="#mg" x="594.0" y="50.5"/>
<use href="#mg" x="594.4" y="51.9"/>
<use href="#mg" x="594.2" y="52.8"/>
<use href="#mg" x="594.1" y="54.2"/>
<use href="#mg" x="594.2" y="55.7"/>
<use href="#mg" x="594.2" y="56.7"/>
<use href="#mg" x="594.2" y="58.0"/>
<use href="#mg" x="594.1" y="59.4"/>
<use href="#mg" x="594.2" y="60.8"/>
<use href="#mg" x="594.3" y="62.2"/>
<use href="#mg" x="594.2" y="63.4"/>
<use href="#mg" x="594.5" y="64.8"/>
<use href="#mg" x="594.3" y="66.3"/>
<use href="#mg" x="594.0" y="67.4"/>
<use href="#mg" x="594.4" y="69.0"/>
<use href="#mg" x="594.2" y="70.5"/>
<use href="#mg" x="594.5" y="71.8"/>
<use href="#mg" x="594.3" y="73.3"/>
<use href="#mg" x="594.2" y="74.4"/>
<use href="#mg" x="594.2" y="76.0"/>
<use href="#mg" x="594.3" y="77.4"/>
<use href="#mg" x="613.8" y="35.7"/>
<use href="#mg" x="613.4" y="36.8"/>
<use href="#mg" x="613.6" y="37.9"/>
<use href="#mg" x="613.8" y="39.2"/>
<use href="#mg" x="613.4" y="40.7"/>
<use href="#mg" x="613.8" y="42.2"/>
<use href="#mg" x="613.6" y="43.7"/>
<use href="#mg" x="613.8" y="44.8"/>
<use href="#mg" x="613.7" y="46.3"/>
<use href="#mg" x="613.5" y="47.9"/>
<use href="#mg" x="613.6" y="48.8"/>
<use href="#mg" x="613.5" y="50.3"/>
<use href="#mg" x="624.9" y="30.9"/>
<use href="#mg" x="624.8" y="32.0"/>
<use href="#mg" x="624.7" y="33.3"/>
<use href="#mg" x="624.6" y="34.4"/>
<use href="#mg" x="624.8" y="35.8"/>
<use href="#mg" x="624.5" y="37.0"/>
<use href="#mg" x="624.8" y="38.5"/>
<use href="#mg" x="624.7" y="39.6"/>
<use href="#mg" x="624.9" y="41.1"/>
<use href="#mg" x="624.7" y="42.4"/>
<use href="#mg" x="624.5" y="43.7"/>
<use href="#mg" x="624.5" y="44.7"/>
<use href="#mg" x="624.6" y="46.1"/>
<use href="#mg" x="625.3" y="30.9"/>
<use href="#mg" x="625.1" y="32.2"/>
<use href="#mg" x="625.5" y="33.1"/>
<use href="#mg" x="625.1" y="34.2"/>
<use href="#mg" x="625.4" y="35.6"/>
<use href="#mg" x="625.3" y="36.6"/>
<use href="#mg" x="625.3" y="37.7"/>
<use href="#mg" x="625.1" y="38.6"/>
<use href="#mg" x="625.5" y="40.2"/>
<use href="#mg" x="625.3" y="41.5"/>
<use href="#mg" x="625.4" y="42.5"/>
<use href="#mg" x="625.5" y="43.7"/>
<use href="#mg" x="625.5" y="45.2"/>
<use href="#mg" x="624.9" y="53.4"/>
<use href="#mg" x="624.9" y="54.6"/>
<use href="#mg" x="624.8" y="55.9"/>
<use href="#mg" x="625.0" y="57.1"/>
<use href="#mg" x="625.0" y="63.1"/>
<use href="#mg" x="625.2" y="65.2"/>
<use href="#mg" x="594.3" y="35.8"/>
<use href="#mg" x="594.3" y="40.8"/>
<use href="#mg" x="613.6" y="57.5"/>
<use href="#my" x="569.9" y="52.9"/>
<use href="#my" x="569.7" y="54.1"/>
<use href="#my" x="569.8" y="55.7"/>
<use href="#my" x="570.0" y="57.0"/>
<use href="#my" x="570.0" y="58.6"/>
<use href="#my" x="569.9" y="59.7"/>
<use href="#my" x="570.1" y="60.7"/>
<use href="#my" x="569.8" y="62.3"/>
<use href="#my" x="569.8" y="63.2"/>
<use href="#my" x="570.1" y="64.4"/>
<use href="#my" x="570.1" y="65.9"/>
<use href="#my" x="570.0" y="66.8"/>
<use href="#my" x="570.0" y="68.3"/>
<use href="#my" x="569.7" y="69.9"/>
<use href="#my" x="570.0" y="70.9"/>
<use href="#my" x="570.0" y="72.4"/>
<use href="#my" x="570.8" y="52.9"/>
<use href="#my" x="570.6" y="54.3"/>
<use href="#my" x="570.7" y="55.5"/>
<use href="#my" x="570.8" y="56.4"/>
<use href="#my" x="570.7" y="57.4"/>
<use href="#my" x="570.9" y="58.4"/>
<use href="#my" x="570.9" y="59.3"/>
<use href="#my" x="570.6" y="60.3"/>
<use href="#my" x="570.7" y="61.9"/>
<use href="#my" x="571.0" y="63.5"/>
<use href="#my" x="570.6" y="65.0"/>
<use href="#my" x="570.6" y="66.2"/>
<use href="#my" x="571.0" y="67.8"/>
<use href="#my" x="570.8" y="69.1"/>
<use href="#my" x="571.0" y="70.3"/>
<use href="#my" x="570.9" y="71.5"/>
<use href="#my" x="570.7" y="72.5"/>
<use href="#my" x="570.9" y="73.4"/>
<use href="#my" x="575.7" y="55.2"/>
<use href="#my" x="575.7" y="56.7"/>
<use href="#my" x="575.7" y="57.9"/>
<use href="#my" x="576.0" y="59.0"/>
<use href="#my" x="575.7" y="60.1"/>
<use href="#my" x="575.8" y="61.4"/>
<use href="#my" x="575.7" y="62.9"/>
<use href="#my" x="575.6" y="64.5"/>
<use href="#my" x="575.9" y="66.1"/>
<use href="#my" x="575.8" y="67.1"/>
<use href="#my" x="575.7" y="68.2"/>
<use href="#my" x="575.8" y="69.2"/>
<use href="#my" x="576.1" y="70.8"/>
<use href="#my" x="575.6" y="72.4"/>
<use href="#my" x="576.0" y="73.5"/>
<use href="#my" x="576.0" y="74.4"/>
<use href="#my" x="590.6" y="43.3"/>
<use href="#my" x="590.6" y="44.2"/>
<use href="#my" x="590.2" y="45.3"/>
<use href="#my" x="590.6" y="46.2"/>
<use href="#my" x="590.2" y="47.5"/>
<use href="#my" x="590.6" y="48.7"/>
<use href="#my" x="590.4" y="49.7"/>
<use href="#my" x="590.2" y="50.7"/>
<use href="#my" x="590.5" y="52.1"/>
<use href="#my" x="590.2" y="53.2"/>
<use href="#my" x="590.5" y="54.1"/>
<use href="#my" x="590.3" y="55.3"/>
<use href="#my" x="590.5" y="56.4"/>
<use href="#my" x="590.6" y="57.8"/>
<use href="#my" x="590.3" y="59.1"/>
<use href="#my" x="590.5" y="60.0"/>
<use href="#my" x="590.5" y="61.2"/>
<use href="#my" x="590.6" y="62.1"/>
<use href="#my" x="590.6" y="63.2"/>
<use href="#my" x="590.4" y="64.8"/>
<use href="#my" x="590.6" y="65.7"/>
<use href="#my" x="590.6" y="66.9"/>
<use href="#my" x="590.2" y="68.0"/>
<use href="#my" x="590.3" y="69.5"/>
<use href="#my" x="590.3" y="70.5"/>
<use href="#my" x="590.2" y="71.8"/>
<use href="#my" x="590.4" y="73.0"/>
<use href="#my" x="590.2" y="74.3"/>
<use href="#my" x="591.5" y="43.3"/>
<use href="#my" x="591.3" y="44.8"/>
<use href="#my" x="591.3" y="46.2"/>
<use href="#my" x="591.1" y="47.7"/>
<use href="#my" x="591.6" y="49.2"/>
<use href="#my" x="591.4" y="50.4"/>
<use href="#my" x="591.4" y="51.7"/>
<use href="#my" x="591.6" y="52.6"/>
<use href="#my" x="591.2" y="53.7"/>
<use href="#my" x="591.2" y="54.6"/>
<use href="#my" x="591.1" y="56.1"/>
<use href="#my" x="591.5" y="57.0"/>
<use href="#my" x="591.1" y="58.1"/>
<use href="#my" x="591.4" y="59.4"/>
<use href="#my" x="591.5" y="60.7"/>
<use href="#my" x="591.6" y="61.6"/>
<use href="#my" x="591.1" y="63.0"/>
<use href="#my" x="591.4" y="64.0"/>
<use href="#my" x="591.3" y="65.2"/>
<use href="#my" x="591.3" y="66.2"/>
<use href="#my" x="591.4" y="67.2"/>
<use href="#my" x="591.2" y="68.7"/>
<use href="#my" x="591.5" y="70.0"/>
<use href="#my" x="591.5" y="71.0"/>
<use href="#my" x="591.3" y="72.6"/>
<use href="#my" x="591.5" y="73.8"/>
<use href="#my" x="591.3" y="75.0"/>
<use href="#my" x="592.5" y="43.3"/>
<use href="#my" x="592.2" y="44.4"/>
<use href="#my" x="592.3" y="45.6"/>
<use href="#my" x="592.5" y="47.2"/>
<use href="#my" x="592.5" y="48.7"/>
<use href="#my" x="592.1" y="50.2"/>
<use href="#my" x="592.6" y="51.5"/>
<use href="#my" x="592.2" y="53.1"/>
<use href="#my" x="592.4" y="54.3"/>
<use href="#my" x="592.3" y="55.4"/>
<use href="#my" x="592.3" y="56.3"/>
<use href="#my" x="592.1" y="57.6"/>
<use href="#my" x="592.6" y="58.6"/>
<use href="#my" x="592.6" y="60.0"/>
<use href="#my" x="592.5" y="61.4"/>
<use href="#my" x="592.5" y="62.9"/>
<use href="#my" x="592.4" y="63.8"/>
<use href="#my" x="592.4" y="64.9"/>
<use href="#my" x="592.4" y="66.0"/>
<use href="#my" x="592.4" y="67.5"/>
<use href="#my" x="592.3" y="68.6"/>
<use href="#my" x="592.6" y="69.8"/>
<use href="#my" x="592.2" y="70.9"/>
<use href="#my" x="592.1" y="72.3"/>
<use href="#my" x="592.6" y="73.6"/>
<use href="#my" x="592.2" y="74.8"/>
<use href="#my" x="593.3" y="43.3"/>
<use href="#my" x="593.1" y="44.3"/>
<use href="#my" x="593.2" y="45.3"/>
<use href="#my" x="593.2" y="46.4"/>
<use href="#my" x="593.1" y="47.5"/>
<use href="#my" x="593.5" y="48.8"/>
<use href="#my" x="593.3" y="50.1"/>
<use href="#my" x="593.2" y="51.5"/>
<use href="#my" x="593.3" y="52.9"/>
<use href="#my" x="593.4" y="54.2"/>
<use href="#my" x="593.2" y="55.4"/>
<use href="#my" x="593.2" y="56.5"/>
<use href="#my" x="593.2" y="57.7"/>
<use href="#my" x="593.1" y="59.0"/>
<use href="#my" x="593.5" y="60.2"/>
<use href="#my" x="593.3" y="61.2"/>
<use href="#my" x="593.2" y="62.5"/>
<use href="#my" x="593.2" y="64.1"/>
<use href="#my" x="593.1" y="65.5"/>
<use href="#my" x="593.5" y="66.5"/>
<use href="#my" x="593.1" y="67.7"/>
<use href="#my" x="593.3" y="68.8"/>
<use href="#my" x="593.1" y="70.3"/>
<use href="#my" x="593.5" y="71.3"/>
<use href="#my" x="593.1" y="72.7"/>
<use href="#my" x="593.2" y="73.9"/>
<use href="#my" x="593.4" y="75.2"/>
<use href="#my" x="596.9" y="45.1"/>
<use href="#my" x="596.9" y="46.4"/>
<use href="#my" x="596.9" y="47.8"/>
<use href="#my" x="596.9" y="49.0"/>
<use href="#my" x="597.0" y="50.4"/>
<use href="#my" x="596.9" y="51.4"/>
<use href="#my" x="596.9" y="52.3"/>
<use href="#my" x="596.7" y="53.6"/>
<use href="#my" x="596.8" y="55.2"/>
<use href="#my" x="596.9" y="56.4"/>
<use href="#my" x="596.8" y="57.9"/>
<use href="#my" x="596.7" y="59.1"/>
<use href="#my" x="596.9" y="60.3"/>
<use href="#my" x="596.7" y="61.4"/>
<use href="#my" x="596.7" y="62.7"/>
<use href="#my" x="596.9" y="63.8"/>
<use href="#my" x="596.7" y="65.3"/>
<use href="#my" x="596.6" y="66.5"/>
<use href="#my" x="596.6" y="67.6"/>
<use href="#my" x="596.8" y="68.9"/>
<use href="#my" x="597.0" y="69.9"/>
<use href="#my" x="596.9" y="71.0"/>
<use href="#my" x="597.0" y="72.5"/>
<use href="#my" x="596.7" y="73.5"/>
<use href="#my" x="616.6" y="33.8"/>
<use href="#my" x="616.8" y="34.7"/>
<use href="#my" x="617.0" y="36.0"/>
<use href="#my" x="616.8" y="37.4"/>
<use href="#my" x="616.8" y="39.0"/>
<use href="#my" x="616.9" y="40.3"/>
<use href="#my" x="616.7" y="41.5"/>
<use href="#my" x="616.7" y="42.8"/>
<use href="#my" x="616.9" y="44.4"/>
<use href="#my" x="616.6" y="45.6"/>
<use href="#my" x="616.8" y="46.8"/>
<use href="#my" x="616.8" y="48.1"/>
<use href="#my" x="628.6" y="27.5"/>
<use href="#my" x="628.3" y="28.7"/>
<use href="#my" x="628.6" y="30.1"/>
<use href="#my" x="628.4" y="31.2"/>
<use href="#my" x="628.2" y="32.7"/>
<use href="#my" x="628.6" y="33.8"/>
<use href="#my" x="628.4" y="35.3"/>
<use href="#my" x="628.5" y="36.3"/>
<use href="#my" x="628.5" y="37.7"/>
<use href="#my" x="628.5" y="39.3"/>
<use href="#my" x="628.2" y="40.5"/>
<use href="#my" x="628.4" y="41.6"/>
<use href="#my" x="628.2" y="42.8"/>
<use href="#my" x="628.4" y="43.8"/>
<use href="#my" x="628.3" y="45.2"/>
<use href="#my" x="628.4" y="46.8"/>
<use href="#my" x="628.3" y="47.7"/>
<use href="#my" x="628.3" y="49.1"/>
<use href="#my" x="628.1" y="50.5"/>
<use href="#my" x="628.5" y="51.6"/>
<use href="#my" x="628.4" y="53.0"/>
<use href="#my" x="628.3" y="54.0"/>
<use href="#my" x="628.2" y="55.3"/>
<use href="#my" x="628.4" y="56.6"/>
<use href="#my" x="628.4" y="59.1"/>
<use href="#my" x="628.2" y="60.6"/>
<use href="#my" x="628.5" y="61.9"/>
<use href="#my" x="628.2" y="63.2"/>
<use href="#my" x="628.4" y="64.5"/>
<use href="#my" x="632.0" y="29.0"/>
<use href="#my" x="631.7" y="30.5"/>
<use href="#my" x="632.0" y="31.4"/>
<use href="#my" x="632.0" y="32.5"/>
<use href="#my" x="631.7" y="33.6"/>
<use href="#my" x="631.7" y="34.7"/>
<use href="#my" x="631.9" y="36.2"/>
<use href="#my" x="631.9" y="37.4"/>
<use href="#my" x="631.7" y="38.6"/>
<use href="#my" x="631.9" y="40.1"/>
<use href="#my" x="631.9" y="41.7"/>
<use href="#my" x="631.8" y="43.0"/>
<use href="#my" x="632.1" y="43.9"/>
<use href="#my" x="596.8" y="39.3"/>
<text x="541.25" y="178.60" font-size="11.4" fill="#2e2e2e" text-anchor="middle">Mean monthly outdoor air temperature (°C)</text>
<text transform="translate(368.00,91.70) rotate(-90)" font-size="11.4" fill="#2e2e2e" text-anchor="middle">Indoor operative temperature</text>
<text transform="translate(380.50,91.70) rotate(-90)" font-size="11.4" fill="#2e2e2e" text-anchor="middle">(°C)</text>
<text x="160" y="210.20" font-size="13.25" fill="#2a2a2a" text-anchor="middle"><tspan font-weight="bold">(c)</tspan> Dasenahalli- Vernacular</text>
<text x="39.50" y="350.00" font-size="10" fill="#2e2e2e" text-anchor="end">5</text>
<text x="39.50" y="331.04" font-size="10" fill="#2e2e2e" text-anchor="end">10</text>
<text x="39.50" y="312.09" font-size="10" fill="#2e2e2e" text-anchor="end">15</text>
<text x="39.50" y="293.13" font-size="10" fill="#2e2e2e" text-anchor="end">20</text>
<text x="39.50" y="274.17" font-size="10" fill="#2e2e2e" text-anchor="end">25</text>
<text x="39.50" y="255.21" font-size="10" fill="#2e2e2e" text-anchor="end">30</text>
<text x="39.50" y="236.26" font-size="10" fill="#2e2e2e" text-anchor="end">35</text>
<text x="39.50" y="217.30" font-size="10" fill="#2e2e2e" text-anchor="end">40</text>
<text x="47.50" y="361.50" font-size="10" fill="#2e2e2e" text-anchor="middle">5</text>
<text x="93.08" y="361.50" font-size="10" fill="#2e2e2e" text-anchor="middle">10</text>
<text x="138.67" y="361.50" font-size="10" fill="#2e2e2e" text-anchor="middle">15</text>
<text x="184.25" y="361.50" font-size="10" fill="#2e2e2e" text-anchor="middle">20</text>
<text x="229.83" y="361.50" font-size="10" fill="#2e2e2e" text-anchor="middle">25</text>
<text x="275.42" y="361.50" font-size="10" fill="#2e2e2e" text-anchor="middle">30</text>
<text x="321.00" y="361.50" font-size="10" fill="#2e2e2e" text-anchor="middle">35</text>
<path d="M47.50 214.30V347.00H321.00" fill="none" stroke="#bfbfbf" stroke-width="1"/>
<line x1="92.63" y1="273.51" x2="312.61" y2="245.14" stroke="#444" stroke-width="1.2" stroke-dasharray="3.2 1.54"/>
<line x1="92.63" y1="300.05" x2="312.61" y2="271.68" stroke="#444" stroke-width="1.2" stroke-dasharray="3.2 1.54"/>
<use href="#mb" x="192.0" y="277.0"/>
<use href="#mb" x="192.3" y="278.9"/>
<use href="#mb" x="192.2" y="280.2"/>
<use href="#mb" x="192.1" y="282.1"/>
<use href="#mb" x="192.0" y="284.0"/>
<use href="#mb" x="199.5" y="273.5"/>
<use href="#mb" x="199.3" y="274.7"/>
<use href="#mb" x="199.3" y="276.6"/>
<use href="#mb" x="199.2" y="278.4"/>
<use href="#mb" x="199.3" y="279.6"/>
<use href="#mb" x="199.6" y="280.8"/>
<use href="#mb" x="199.4" y="282.1"/>
<use href="#mb" x="214.1" y="270.0"/>
<use href="#mb" x="214.1" y="271.4"/>
<use href="#mb" x="213.9" y="272.5"/>
<use href="#mb" x="214.0" y="274.3"/>
<use href="#mb" x="213.9" y="275.6"/>
<use href="#mb" x="214.0" y="276.9"/>
<use href="#mb" x="214.2" y="278.0"/>
<use href="#mb" x="213.9" y="279.3"/>
<use href="#mb" x="213.9" y="281.0"/>
<use href="#mb" x="219.4" y="266.1"/>
<use href="#mb" x="219.2" y="267.3"/>
<use href="#mb" x="219.4" y="269.1"/>
<use href="#mb" x="219.1" y="270.3"/>
<use href="#mb" x="219.1" y="272.0"/>
<use href="#mb" x="219.1" y="273.9"/>
<use href="#mb" x="219.2" y="275.8"/>
<use href="#mb" x="219.2" y="277.0"/>
<use href="#mb" x="221.3" y="269.1"/>
<use href="#mb" x="221.3" y="270.4"/>
<use href="#mb" x="221.1" y="272.0"/>
<use href="#mb" x="221.2" y="273.2"/>
<use href="#mb" x="221.3" y="274.5"/>
<use href="#mb" x="221.2" y="275.6"/>
<use href="#mb" x="221.0" y="277.2"/>
<use href="#mb" x="241.0" y="261.1"/>
<use href="#mb" x="241.1" y="262.7"/>
<use href="#mb" x="241.0" y="264.1"/>
<use href="#mb" x="240.9" y="265.2"/>
<use href="#mb" x="241.0" y="267.0"/>
<use href="#mb" x="240.9" y="268.7"/>
<use href="#mb" x="241.0" y="270.2"/>
<use href="#mb" x="241.0" y="271.7"/>
<use href="#mb" x="241.0" y="272.8"/>
<use href="#mb" x="242.3" y="261.1"/>
<use href="#mb" x="242.4" y="262.8"/>
<use href="#mb" x="242.7" y="264.2"/>
<use href="#mb" x="242.7" y="266.0"/>
<use href="#mb" x="242.3" y="267.8"/>
<use href="#mb" x="242.3" y="269.1"/>
<use href="#mb" x="242.6" y="270.7"/>
<use href="#mb" x="242.5" y="272.1"/>
<use href="#mb" x="248.0" y="256.0"/>
<use href="#mb" x="248.1" y="257.3"/>
<use href="#mb" x="248.0" y="258.6"/>
<use href="#mb" x="247.7" y="259.9"/>
<use href="#mb" x="248.0" y="261.7"/>
<use href="#mb" x="247.7" y="263.4"/>
<use href="#mb" x="247.7" y="264.5"/>
<use href="#mb" x="247.8" y="265.7"/>
<use href="#mb" x="247.7" y="267.1"/>
<use href="#mb" x="248.0" y="268.5"/>
<use href="#mb" x="248.1" y="269.7"/>
<use href="#sb" x="199.3" y="259.5"/>
<use href="#sb" x="199.3" y="265.0"/>
<use href="#sb" x="199.3" y="287.7"/>
<use href="#sb" x="199.3" y="290.4"/>
<use href="#sb" x="199.3" y="294.0"/>
<use href="#sb" x="199.3" y="297.5"/>
<use href="#mo" x="204.1" y="271.1"/>
<use href="#mo" x="204.0" y="272.2"/>
<use href="#mo" x="203.9" y="273.6"/>
<use href="#mo" x="204.2" y="274.4"/>
<use href="#mo" x="203.9" y="275.9"/>
<use href="#mo" x="204.2" y="276.8"/>
<use href="#mo" x="203.8" y="278.1"/>
<use href="#mo" x="203.8" y="279.2"/>
<use href="#mo" x="203.9" y="280.7"/>
<use href="#mo" x="204.1" y="282.2"/>
<use href="#mo" x="204.9" y="271.1"/>
<use href="#mo" x="205.0" y="272.3"/>
<use href="#mo" x="204.7" y="273.8"/>
<use href="#mo" x="205.1" y="274.7"/>
<use href="#mo" x="205.1" y="275.9"/>
<use href="#mo" x="205.0" y="277.3"/>
<use href="#mo" x="204.9" y="278.8"/>
<use href="#mo" x="204.6" y="280.0"/>
<use href="#mo" x="204.8" y="281.4"/>
<use href="#mo" x="205.9" y="271.1"/>
<use href="#mo" x="205.8" y="272.1"/>
<use href="#mo" x="205.8" y="273.0"/>
<use href="#mo" x="205.6" y="274.5"/>
<use href="#mo" x="205.9" y="275.7"/>
<use href="#mo" x="205.7" y="277.1"/>
<use href="#mo" x="205.5" y="278.2"/>
<use href="#mo" x="205.7" y="279.3"/>
<use href="#mo" x="205.6" y="280.3"/>
<use href="#mo" x="205.8" y="281.3"/>
<use href="#mo" x="225.4" y="266.2"/>
<use href="#mo" x="225.5" y="267.3"/>
<use href="#mo" x="225.7" y="268.5"/>
<use href="#mo" x="225.4" y="269.6"/>
<use href="#mo" x="225.3" y="271.1"/>
<use href="#mo" x="225.4" y="272.4"/>
<use href="#mo" x="225.5" y="273.9"/>
<use href="#mo" x="225.3" y="275.4"/>
<use href="#mo" x="232.6" y="260.9"/>
<use href="#mo" x="232.7" y="262.1"/>
<use href="#mo" x="232.4" y="263.6"/>
<use href="#mo" x="232.5" y="264.7"/>
<use href="#mo" x="232.4" y="265.7"/>
<use href="#mo" x="232.4" y="266.8"/>
<use href="#mo" x="232.6" y="268.2"/>
<use href="#mo" x="232.5" y="269.2"/>
<use href="#mo" x="232.5" y="270.4"/>
<use href="#mo" x="232.4" y="271.4"/>
<use href="#mo" x="232.8" y="272.3"/>
<use href="#mo" x="232.4" y="273.7"/>
<use href="#mo" x="252.2" y="255.3"/>
<use href="#mo" x="251.8" y="256.6"/>
<use href="#mo" x="252.0" y="257.8"/>
<use href="#mo" x="252.0" y="258.9"/>
<use href="#mo" x="252.2" y="259.7"/>
<use href="#mo" x="252.1" y="261.1"/>
<use href="#mo" x="252.1" y="262.7"/>
<use href="#mo" x="251.9" y="263.7"/>
<use href="#mo" x="251.8" y="264.7"/>
<use href="#mo" x="252.2" y="266.2"/>
<use href="#mo" x="251.8" y="267.3"/>
<use href="#mo" x="252.2" y="268.6"/>
<use href="#mo" x="263.0" y="253.9"/>
<use href="#mo" x="263.4" y="255.4"/>
<use href="#mo" x="263.1" y="256.8"/>
<use href="#mo" x="263.4" y="257.8"/>
<use href="#mo" x="263.1" y="258.9"/>
<use href="#mo" x="263.1" y="260.2"/>
<use href="#mo" x="263.1" y="261.7"/>
<use href="#mo" x="263.2" y="262.6"/>
<use href="#mo" x="263.4" y="264.0"/>
<use href="#mo" x="263.4" y="265.4"/>
<use href="#mo" x="228.0" y="262.0"/>
<use href="#mo" x="264.5" y="248.4"/>
<use href="#mo" x="264.8" y="250.3"/>
<use href="#mo" x="265.0" y="266.3"/>
<use href="#mg" x="207.5" y="269.6"/>
<use href="#mg" x="207.3" y="270.8"/>
<use href="#mg" x="207.5" y="271.9"/>
<use href="#mg" x="207.6" y="272.9"/>
<use href="#mg" x="207.5" y="273.9"/>
<use href="#mg" x="207.3" y="275.5"/>
<use href="#mg" x="207.5" y="276.4"/>
<use href="#mg" x="207.6" y="277.4"/>
<use href="#mg" x="207.7" y="278.3"/>
<use href="#mg" x="208.2" y="269.6"/>
<use href="#mg" x="208.0" y="270.8"/>
<use href="#mg" x="208.1" y="272.2"/>
<use href="#mg" x="208.0" y="273.4"/>
<use href="#mg" x="208.2" y="274.6"/>
<use href="#mg" x="208.3" y="276.1"/>
<use href="#mg" x="208.0" y="277.1"/>
<use href="#mg" x="208.1" y="278.3"/>
<use href="#mg" x="212.8" y="269.6"/>
<use href="#mg" x="212.9" y="270.5"/>
<use href="#mg" x="213.2" y="271.8"/>
<use href="#mg" x="213.1" y="273.3"/>
<use href="#mg" x="213.2" y="274.9"/>
<use href="#mg" x="213.1" y="276.3"/>
<use href="#mg" x="213.0" y="277.2"/>
<use href="#mg" x="212.8" y="278.5"/>
<use href="#mg" x="227.6" y="263.9"/>
<use href="#mg" x="227.5" y="265.1"/>
<use href="#mg" x="227.3" y="266.2"/>
<use href="#mg" x="227.2" y="267.8"/>
<use href="#mg" x="227.5" y="268.8"/>
<use href="#mg" x="227.2" y="270.0"/>
<use href="#mg" x="227.3" y="271.4"/>
<use href="#mg" x="227.4" y="272.7"/>
<use href="#mg" x="227.4" y="274.0"/>
<use href="#mg" x="227.2" y="275.1"/>
<use href="#mg" x="227.6" y="276.1"/>
<use href="#mg" x="228.5" y="263.9"/>
<use href="#mg" x="228.5" y="265.4"/>
<use href="#mg" x="228.7" y="266.4"/>
<use href="#mg" x="228.6" y="267.4"/>
<use href="#mg" x="228.5" y="268.7"/>
<use href="#mg" x="228.5" y="270.0"/>
<use href="#mg" x="228.7" y="271.3"/>
<use href="#mg" x="228.6" y="272.2"/>
<use href="#mg" x="228.6" y="273.2"/>
<use href="#mg" x="228.7" y="274.7"/>
<use href="#mg" x="228.8" y="276.1"/>
<use href="#mg" x="228.9" y="277.0"/>
<use href="#mg" x="229.7" y="263.9"/>
<use href="#mg" x="229.8" y="265.4"/>
<use href="#mg" x="230.1" y="266.4"/>
<use href="#mg" x="230.0" y="267.7"/>
<use href="#mg" x="230.0" y="268.7"/>
<use href="#mg" x="229.8" y="269.6"/>
<use href="#mg" x="229.7" y="270.7"/>
<use href="#mg" x="229.8" y="272.1"/>
<use href="#mg" x="230.0" y="273.2"/>
<use href="#mg" x="230.1" y="274.4"/>
<use href="#mg" x="230.1" y="275.7"/>
<use href="#mg" x="230.1" y="277.0"/>
<use href="#mg" x="235.5" y="263.5"/>
<use href="#mg" x="235.6" y="264.9"/>
<use href="#mg" x="235.8" y="266.4"/>
<use href="#mg" x="235.5" y="267.9"/>
<use href="#mg" x="235.8" y="269.0"/>
<use href="#mg" x="235.8" y="270.6"/>
<use href="#mg" x="235.8" y="271.5"/>
<use href="#mg" x="235.7" y="272.5"/>
<use href="#mg" x="254.8" y="254.9"/>
<use href="#mg" x="255.0" y="256.5"/>
<use href="#mg" x="254.8" y="257.5"/>
<use href="#mg" x="255.1" y="258.7"/>
<use href="#mg" x="254.8" y="260.1"/>
<use href="#mg" x="254.8" y="260.9"/>
<use href="#mg" x="254.8" y="262.4"/>
<use href="#mg" x="254.8" y="263.7"/>
<use href="#mg" x="254.9" y="265.1"/>
<use href="#mg" x="255.1" y="266.1"/>
<use href="#mg" x="255.0" y="267.4"/>
<use href="#mg" x="255.2" y="268.8"/>
<use href="#mg" x="254.9" y="269.7"/>
<use href="#mg" x="266.0" y="248.0"/>
<use href="#mg" x="266.2" y="249.5"/>
<use href="#mg" x="265.8" y="250.4"/>
<use href="#mg" x="266.1" y="251.9"/>
<use href="#mg" x="266.0" y="253.1"/>
<use href="#mg" x="266.2" y="254.1"/>
<use href="#mg" x="266.2" y="255.3"/>
<use href="#mg" x="265.8" y="256.6"/>
<use href="#mg" x="265.9" y="257.7"/>
<use href="#mg" x="266.0" y="259.3"/>
<use href="#mg" x="265.8" y="260.2"/>
<use href="#mg" x="266.0" y="261.3"/>
<use href="#mg" x="265.9" y="262.6"/>
<use href="#mg" x="266.7" y="248.0"/>
<use href="#mg" x="266.9" y="249.3"/>
<use href="#mg" x="266.9" y="250.2"/>
<use href="#mg" x="266.7" y="251.8"/>
<use href="#mg" x="267.0" y="252.8"/>
<use href="#mg" x="266.8" y="253.9"/>
<use href="#mg" x="266.8" y="255.1"/>
<use href="#mg" x="267.0" y="256.4"/>
<use href="#mg" x="267.2" y="258.0"/>
<use href="#mg" x="267.0" y="258.9"/>
<use href="#mg" x="267.1" y="260.4"/>
<use href="#mg" x="267.0" y="261.8"/>
<use href="#mg" x="266.9" y="263.2"/>
<use href="#mg" x="268.0" y="248.0"/>
<use href="#mg" x="268.1" y="249.5"/>
<use href="#mg" x="267.8" y="250.9"/>
<use href="#mg" x="268.0" y="252.4"/>
<use href="#mg" x="268.0" y="253.6"/>
<use href="#mg" x="267.9" y="254.8"/>
<use href="#mg" x="267.7" y="255.9"/>
<use href="#mg" x="267.8" y="257.1"/>
<use href="#mg" x="267.9" y="258.7"/>
<use href="#mg" x="267.8" y="259.8"/>
<use href="#mg" x="267.8" y="260.9"/>
<use href="#mg" x="267.7" y="261.9"/>
<use href="#mg" x="267.9" y="263.4"/>
<use href="#my" x="210.6" y="269.1"/>
<use href="#my" x="210.4" y="270.2"/>
<use href="#my" x="210.5" y="271.1"/>
<use href="#my" x="210.7" y="272.2"/>
<use href="#my" x="210.8" y="273.5"/>
<use href="#my" x="210.8" y="274.7"/>
<use href="#my" x="210.3" y="276.0"/>
<use href="#my" x="210.6" y="277.0"/>
<use href="#my" x="210.5" y="278.6"/>
<use href="#my" x="210.5" y="280.0"/>
<use href="#my" x="216.2" y="268.0"/>
<use href="#my" x="216.6" y="269.2"/>
<use href="#my" x="216.3" y="270.3"/>
<use href="#my" x="216.3" y="271.2"/>
<use href="#my" x="216.6" y="272.3"/>
<use href="#my" x="216.4" y="273.3"/>
<use href="#my" x="216.5" y="274.4"/>
<use href="#my" x="216.5" y="275.9"/>
<use href="#my" x="216.6" y="276.9"/>
<use href="#my" x="216.5" y="278.5"/>
<use href="#my" x="231.5" y="262.6"/>
<use href="#my" x="231.2" y="264.1"/>
<use href="#my" x="231.1" y="265.1"/>
<use href="#my" x="231.5" y="266.4"/>
<use href="#my" x="231.5" y="267.7"/>
<use href="#my" x="231.2" y="268.8"/>
<use href="#my" x="231.4" y="270.2"/>
<use href="#my" x="231.4" y="271.4"/>
<use href="#my" x="231.1" y="272.5"/>
<use href="#my" x="231.1" y="273.7"/>
<use href="#my" x="231.2" y="275.1"/>
<use href="#my" x="232.6" y="262.6"/>
<use href="#my" x="232.5" y="263.7"/>
<use href="#my" x="232.8" y="264.6"/>
<use href="#my" x="232.8" y="265.9"/>
<use href="#my" x="232.6" y="266.8"/>
<use href="#my" x="232.5" y="268.2"/>
<use href="#my" x="232.4" y="269.1"/>
<use href="#my" x="232.7" y="270.1"/>
<use href="#my" x="232.7" y="271.1"/>
<use href="#my" x="232.6" y="272.2"/>
<use href="#my" x="232.6" y="273.6"/>
<use href="#my" x="232.6" y="274.9"/>
<use href="#my" x="233.9" y="262.6"/>
<use href="#my" x="233.9" y="263.7"/>
<use href="#my" x="233.9" y="265.1"/>
<use href="#my" x="233.9" y="266.2"/>
<use href="#my" x="233.8" y="267.8"/>
<use href="#my" x="233.8" y="268.9"/>
<use href="#my" x="233.6" y="270.5"/>
<use href="#my" x="233.8" y="271.4"/>
<use href="#my" x="233.9" y="272.7"/>
<use href="#my" x="234.0" y="273.9"/>
<use href="#my" x="233.9" y="274.9"/>
<use href="#my" x="237.4" y="259.2"/>
<use href="#my" x="237.4" y="260.2"/>
<use href="#my" x="237.6" y="261.4"/>
<use href="#my" x="237.8" y="262.4"/>
<use href="#my" x="237.4" y="263.6"/>
<use href="#my" x="237.7" y="264.6"/>
<use href="#my" x="237.4" y="266.2"/>
<use href="#my" x="237.7" y="267.1"/>
<use href="#my" x="237.8" y="268.1"/>
<use href="#my" x="237.7" y="269.4"/>
<use href="#my" x="237.8" y="270.5"/>
<use href="#my" x="237.5" y="271.7"/>
<use href="#my" x="237.4" y="273.3"/>
<use href="#my" x="238.3" y="259.2"/>
<use href="#my" x="238.5" y="260.6"/>
<use href="#my" x="238.3" y="262.1"/>
<use href="#my" x="238.5" y="263.4"/>
<use href="#my" x="238.7" y="264.9"/>
<use href="#my" x="238.4" y="266.3"/>
<use href="#my" x="238.4" y="267.4"/>
<use href="#my" x="238.4" y="268.6"/>
<use href="#my" x="238.6" y="269.6"/>
<use href="#my" x="238.4" y="270.9"/>
<use href="#my" x="238.4" y="272.6"/>
<use href="#my" x="238.3" y="273.9"/>
<use href="#my" x="259.2" y="253.6"/>
<use href="#my" x="259.2" y="254.7"/>
<use href="#my" x="258.9" y="256.2"/>
<use href="#my" x="259.0" y="257.3"/>
<use href="#my" x="258.9" y="258.8"/>
<use href="#my" x="259.1" y="260.2"/>
<use href="#my" x="259.1" y="261.4"/>
<use href="#my" x="258.9" y="263.0"/>
<use href="#my" x="259.0" y="264.5"/>
<use href="#my" x="259.2" y="266.0"/>
<use href="#my" x="270.6" y="251.8"/>
<use href="#my" x="270.3" y="253.4"/>
<use href="#my" x="270.2" y="254.3"/>
<use href="#my" x="270.2" y="255.9"/>
<use href="#my" x="270.2" y="257.5"/>
<use href="#my" x="270.2" y="258.9"/>
<use href="#my" x="270.5" y="259.9"/>
<use href="#my" x="270.3" y="260.9"/>
<use href="#my" x="270.5" y="262.4"/>
<use href="#my" x="270.6" y="264.0"/>
<use href="#my" x="271.8" y="251.8"/>
<use href="#my" x="272.0" y="253.3"/>
<use href="#my" x="271.9" y="254.2"/>
<use href="#my" x="271.9" y="255.2"/>
<use href="#my" x="271.7" y="256.2"/>
<use href="#my" x="271.8" y="257.8"/>
<use href="#my" x="271.7" y="259.3"/>
<use href="#my" x="271.7" y="260.6"/>
<use href="#my" x="271.7" y="261.8"/>
<use href="#my" x="271.7" y="263.2"/>
<use href="#my" x="271.9" y="264.6"/>
<use href="#my" x="271.4" y="247.1"/>
<use href="#my" x="271.7" y="249.0"/>
<text x="184.25" y="377.20" font-size="11.4" fill="#2e2e2e" text-anchor="middle">Mean monthly outdoor air temperature (°C)</text>
<text transform="translate(11.00,290.10) rotate(-90)" font-size="11.4" fill="#2e2e2e" text-anchor="middle">Indoor operative temperature</text>
<text transform="translate(23.50,290.10) rotate(-90)" font-size="11.4" fill="#2e2e2e" text-anchor="middle">(°C)</text>
<text x="517" y="210.20" font-size="13.25" fill="#2a2a2a" text-anchor="middle"><tspan font-weight="bold">(d)</tspan> Dasenahalli- Conventional</text>
<text x="396.50" y="350.00" font-size="10" fill="#2e2e2e" text-anchor="end">5</text>
<text x="396.50" y="331.04" font-size="10" fill="#2e2e2e" text-anchor="end">10</text>
<text x="396.50" y="312.09" font-size="10" fill="#2e2e2e" text-anchor="end">15</text>
<text x="396.50" y="293.13" font-size="10" fill="#2e2e2e" text-anchor="end">20</text>
<text x="396.50" y="274.17" font-size="10" fill="#2e2e2e" text-anchor="end">25</text>
<text x="396.50" y="255.21" font-size="10" fill="#2e2e2e" text-anchor="end">30</text>
<text x="396.50" y="236.26" font-size="10" fill="#2e2e2e" text-anchor="end">35</text>
<text x="396.50" y="217.30" font-size="10" fill="#2e2e2e" text-anchor="end">40</text>
<text x="404.50" y="361.50" font-size="10" fill="#2e2e2e" text-anchor="middle">5</text>
<text x="450.08" y="361.50" font-size="10" fill="#2e2e2e" text-anchor="middle">10</text>
<text x="495.67" y="361.50" font-size="10" fill="#2e2e2e" text-anchor="middle">15</text>
<text x="541.25" y="361.50" font-size="10" fill="#2e2e2e" text-anchor="middle">20</text>
<text x="586.83" y="361.50" font-size="10" fill="#2e2e2e" text-anchor="middle">25</text>
<text x="632.42" y="361.50" font-size="10" fill="#2e2e2e" text-anchor="middle">30</text>
<text x="678.00" y="361.50" font-size="10" fill="#2e2e2e" text-anchor="middle">35</text>
<path d="M404.50 214.30V347.00H678.00" fill="none" stroke="#bfbfbf" stroke-width="1"/>
<line x1="449.63" y1="273.51" x2="669.61" y2="245.14" stroke="#444" stroke-width="1.2" stroke-dasharray="3.2 1.54"/>
<line x1="449.63" y1="300.05" x2="669.61" y2="271.68" stroke="#444" stroke-width="1.2" stroke-dasharray="3.2 1.54"/>
<use href="#mb" x="548.5" y="275.0"/>
<use href="#mb" x="548.8" y="276.9"/>
<use href="#mb" x="548.5" y="278.6"/>
<use href="#mb" x="548.5" y="279.8"/>
<use href="#mb" x="548.4" y="281.0"/>
<use href="#mb" x="548.6" y="282.5"/>
<use href="#mb" x="548.5" y="284.0"/>
<use href="#mb" x="555.5" y="274.0"/>
<use href="#mb" x="555.4" y="275.6"/>
<use href="#mb" x="555.5" y="277.2"/>
<use href="#mb" x="555.6" y="279.1"/>
<use href="#mb" x="555.3" y="280.8"/>
<use href="#mb" x="555.4" y="282.1"/>
<use href="#mb" x="555.3" y="284.1"/>
<use href="#mb" x="556.6" y="274.0"/>
<use href="#mb" x="556.8" y="275.2"/>
<use href="#mb" x="556.7" y="276.2"/>
<use href="#mb" x="556.5" y="278.1"/>
<use href="#mb" x="556.5" y="279.7"/>
<use href="#mb" x="556.4" y="281.0"/>
<use href="#mb" x="556.8" y="282.1"/>
<use href="#mb" x="556.8" y="283.9"/>
<use href="#mb" x="556.7" y="285.0"/>
<use href="#mb" x="570.8" y="266.7"/>
<use href="#mb" x="570.7" y="268.2"/>
<use href="#mb" x="570.5" y="270.2"/>
<use href="#mb" x="570.9" y="271.9"/>
<use href="#mb" x="570.8" y="273.4"/>
<use href="#mb" x="570.6" y="275.3"/>
<use href="#mb" x="570.9" y="277.0"/>
<use href="#mb" x="570.9" y="278.4"/>
<use href="#mb" x="570.8" y="279.8"/>
<use href="#mb" x="570.8" y="281.4"/>
<use href="#mb" x="570.8" y="282.7"/>
<use href="#mb" x="575.4" y="264.2"/>
<use href="#mb" x="575.4" y="265.8"/>
<use href="#mb" x="575.5" y="267.7"/>
<use href="#mb" x="575.5" y="269.4"/>
<use href="#mb" x="575.4" y="270.8"/>
<use href="#mb" x="575.7" y="272.0"/>
<use href="#mb" x="575.5" y="273.6"/>
<use href="#mb" x="575.7" y="275.1"/>
<use href="#mb" x="575.3" y="276.3"/>
<use href="#mb" x="575.5" y="278.1"/>
<use href="#mb" x="575.7" y="279.8"/>
<use href="#mb" x="576.8" y="264.2"/>
<use href="#mb" x="576.5" y="265.3"/>
<use href="#mb" x="576.8" y="267.1"/>
<use href="#mb" x="576.4" y="268.2"/>
<use href="#mb" x="576.4" y="269.5"/>
<use href="#mb" x="576.8" y="270.9"/>
<use href="#mb" x="576.6" y="272.4"/>
<use href="#mb" x="576.5" y="273.5"/>
<use href="#mb" x="576.7" y="275.5"/>
<use href="#mb" x="576.6" y="276.9"/>
<use href="#mb" x="576.7" y="278.7"/>
<use href="#mb" x="576.7" y="279.9"/>
<use href="#mb" x="577.7" y="264.2"/>
<use href="#mb" x="577.6" y="265.5"/>
<use href="#mb" x="577.6" y="266.8"/>
<use href="#mb" x="577.6" y="267.9"/>
<use href="#mb" x="577.5" y="269.4"/>
<use href="#mb" x="577.8" y="270.7"/>
<use href="#mb" x="577.6" y="272.0"/>
<use href="#mb" x="577.9" y="273.2"/>
<use href="#mb" x="577.8" y="274.4"/>
<use href="#mb" x="577.6" y="276.2"/>
<use href="#mb" x="577.8" y="277.6"/>
<use href="#mb" x="577.6" y="279.2"/>
<use href="#mb" x="598.3" y="257.7"/>
<use href="#mb" x="598.4" y="259.1"/>
<use href="#mb" x="598.3" y="260.4"/>
<use href="#mb" x="598.5" y="262.0"/>
<use href="#mb" x="598.2" y="263.4"/>
<use href="#mb" x="598.5" y="265.0"/>
<use href="#mb" x="598.5" y="266.2"/>
<use href="#mb" x="598.2" y="267.9"/>
<use href="#mb" x="598.2" y="269.5"/>
<use href="#mb" x="598.4" y="270.6"/>
<use href="#mb" x="598.3" y="272.0"/>
<use href="#mb" x="598.5" y="273.5"/>
<use href="#mb" x="599.3" y="257.7"/>
<use href="#mb" x="599.5" y="259.3"/>
<use href="#mb" x="599.7" y="260.7"/>
<use href="#mb" x="599.5" y="262.2"/>
<use href="#mb" x="599.5" y="264.0"/>
<use href="#mb" x="599.5" y="265.5"/>
<use href="#mb" x="599.6" y="267.3"/>
<use href="#mb" x="599.5" y="269.0"/>
<use href="#mb" x="599.6" y="270.1"/>
<use href="#mb" x="599.6" y="271.7"/>
<use href="#mb" x="599.3" y="273.4"/>
<use href="#mb" x="599.3" y="274.7"/>
<use href="#mb" x="603.9" y="256.7"/>
<use href="#mb" x="604.2" y="257.8"/>
<use href="#mb" x="603.9" y="259.4"/>
<use href="#mb" x="604.2" y="261.1"/>
<use href="#mb" x="603.9" y="262.5"/>
<use href="#mb" x="604.1" y="264.2"/>
<use href="#mb" x="604.3" y="265.8"/>
<use href="#mb" x="604.3" y="267.6"/>
<use href="#mb" x="604.0" y="268.7"/>
<use href="#mb" x="603.9" y="270.3"/>
<use href="#mb" x="604.8" y="256.7"/>
<use href="#mb" x="604.8" y="258.0"/>
<use href="#mb" x="605.1" y="259.3"/>
<use href="#mb" x="604.9" y="260.8"/>
<use href="#mb" x="604.7" y="262.2"/>
<use href="#mb" x="605.1" y="263.6"/>
<use href="#mb" x="605.1" y="265.3"/>
<use href="#mb" x="604.8" y="266.6"/>
<use href="#mb" x="604.9" y="267.7"/>
<use href="#mb" x="604.9" y="269.1"/>
<use href="#mb" x="604.9" y="270.6"/>
<use href="#sx" x="555.8" y="252.4"/>
<use href="#sx" x="555.8" y="256.3"/>
<use href="#sx" x="555.8" y="267.1"/>
<use href="#sx" x="555.8" y="288.6"/>
<use href="#sx" x="555.8" y="294.5"/>
<use href="#sx" x="555.8" y="298.4"/>
<use href="#sx" x="555.8" y="301.4"/>
<use href="#sx" x="598.9" y="276.7"/>
<use href="#sx" x="604.5" y="275.2"/>
<use href="#mo" x="561.0" y="270.1"/>
<use href="#mo" x="561.0" y="271.1"/>
<use href="#mo" x="560.6" y="272.4"/>
<use href="#mo" x="560.8" y="273.5"/>
<use href="#mo" x="560.8" y="274.7"/>
<use href="#mo" x="560.7" y="275.8"/>
<use href="#mo" x="560.7" y="277.3"/>
<use href="#mo" x="561.0" y="278.7"/>
<use href="#mo" x="560.8" y="280.0"/>
<use href="#mo" x="560.8" y="281.6"/>
<use href="#mo" x="560.6" y="283.1"/>
<use href="#mo" x="562.1" y="270.1"/>
<use href="#mo" x="562.2" y="271.0"/>
<use href="#mo" x="562.0" y="271.9"/>
<use href="#mo" x="562.2" y="273.0"/>
<use href="#mo" x="562.2" y="274.2"/>
<use href="#mo" x="562.1" y="275.5"/>
<use href="#mo" x="561.9" y="276.9"/>
<use href="#mo" x="562.2" y="277.9"/>
<use href="#mo" x="562.2" y="278.9"/>
<use href="#mo" x="561.8" y="279.9"/>
<use href="#mo" x="562.1" y="280.9"/>
<use href="#mo" x="562.0" y="282.5"/>
<use href="#mo" x="582.3" y="262.6"/>
<use href="#mo" x="582.5" y="264.2"/>
<use href="#mo" x="582.2" y="265.1"/>
<use href="#mo" x="582.2" y="266.5"/>
<use href="#mo" x="582.3" y="268.0"/>
<use href="#mo" x="582.5" y="269.1"/>
<use href="#mo" x="582.5" y="270.2"/>
<use href="#mo" x="582.7" y="271.2"/>
<use href="#mo" x="582.6" y="272.3"/>
<use href="#mo" x="582.6" y="273.3"/>
<use href="#mo" x="582.4" y="274.9"/>
<use href="#mo" x="582.4" y="275.8"/>
<use href="#mo" x="582.3" y="277.2"/>
<use href="#mo" x="582.2" y="278.5"/>
<use href="#mo" x="589.9" y="261.6"/>
<use href="#mo" x="589.9" y="262.8"/>
<use href="#mo" x="590.0" y="263.8"/>
<use href="#mo" x="590.0" y="264.7"/>
<use href="#mo" x="590.0" y="266.3"/>
<use href="#mo" x="589.7" y="267.6"/>
<use href="#mo" x="589.9" y="268.8"/>
<use href="#mo" x="590.0" y="270.0"/>
<use href="#mo" x="589.8" y="270.9"/>
<use href="#mo" x="589.8" y="272.5"/>
<use href="#mo" x="589.6" y="273.7"/>
<use href="#mo" x="589.7" y="274.7"/>
<use href="#mo" x="590.0" y="276.3"/>
<use href="#mo" x="590.0" y="277.3"/>
<use href="#mo" x="589.8" y="278.2"/>
<use href="#mo" x="608.9" y="254.2"/>
<use href="#mo" x="609.1" y="255.8"/>
<use href="#mo" x="608.9" y="256.7"/>
<use href="#mo" x="608.9" y="257.9"/>
<use href="#mo" x="608.8" y="259.3"/>
<use href="#mo" x="608.9" y="260.8"/>
<use href="#mo" x="609.0" y="261.7"/>
<use href="#mo" x="609.0" y="262.7"/>
<use href="#mo" x="609.0" y="264.1"/>
<use href="#mo" x="608.8" y="265.4"/>
<use href="#mo" x="608.8" y="266.6"/>
<use href="#mo" x="608.8" y="268.0"/>
<use href="#mo" x="620.0" y="251.6"/>
<use href="#mo" x="620.2" y="252.8"/>
<use href="#mo" x="619.9" y="253.8"/>
<use href="#mo" x="620.0" y="255.3"/>
<use href="#mo" x="620.3" y="256.8"/>
<use href="#mo" x="619.9" y="258.1"/>
<use href="#mo" x="620.3" y="259.0"/>
<use href="#mo" x="620.1" y="260.0"/>
<use href="#mo" x="619.9" y="261.3"/>
<use href="#mo" x="619.9" y="262.5"/>
<use href="#mo" x="620.1" y="263.8"/>
<use href="#mo" x="619.9" y="264.9"/>
<use href="#mo" x="609.0" y="271.3"/>
<use href="#mo" x="620.0" y="246.1"/>
<use href="#mo" x="620.0" y="272.0"/>
<use href="#mo" x="622.0" y="267.2"/>
<use href="#mg" x="563.6" y="269.1"/>
<use href="#mg" x="563.6" y="270.1"/>
<use href="#mg" x="563.7" y="271.6"/>
<use href="#mg" x="563.5" y="273.1"/>
<use href="#mg" x="563.7" y="274.7"/>
<use href="#mg" x="563.7" y="276.2"/>
<use href="#mg" x="563.6" y="277.6"/>
<use href="#mg" x="563.5" y="279.0"/>
<use href="#mg" x="563.5" y="280.1"/>
<use href="#mg" x="565.0" y="269.1"/>
<use href="#mg" x="565.2" y="270.2"/>
<use href="#mg" x="565.0" y="271.1"/>
<use href="#mg" x="565.0" y="272.2"/>
<use href="#mg" x="565.1" y="273.6"/>
<use href="#mg" x="564.9" y="274.6"/>
<use href="#mg" x="565.2" y="275.9"/>
<use href="#mg" x="565.1" y="276.8"/>
<use href="#mg" x="565.2" y="278.2"/>
<use href="#mg" x="565.2" y="279.3"/>
<use href="#mg" x="565.2" y="280.5"/>
<use href="#mg" x="570.5" y="268.6"/>
<use href="#mg" x="570.2" y="269.8"/>
<use href="#mg" x="570.1" y="270.7"/>
<use href="#mg" x="570.3" y="272.2"/>
<use href="#mg" x="570.2" y="273.1"/>
<use href="#mg" x="570.1" y="274.1"/>
<use href="#mg" x="570.2" y="275.2"/>
<use href="#mg" x="570.5" y="276.8"/>
<use href="#mg" x="570.2" y="278.2"/>
<use href="#mg" x="570.4" y="279.5"/>
<use href="#mg" x="570.4" y="281.0"/>
<use href="#mg" x="583.8" y="261.1"/>
<use href="#mg" x="584.2" y="262.4"/>
<use href="#mg" x="583.8" y="263.9"/>
<use href="#mg" x="583.9" y="265.3"/>
<use href="#mg" x="584.2" y="266.3"/>
<use href="#mg" x="584.1" y="267.7"/>
<use href="#mg" x="584.2" y="268.7"/>
<use href="#mg" x="584.2" y="270.3"/>
<use href="#mg" x="584.2" y="271.7"/>
<use href="#mg" x="584.0" y="273.2"/>
<use href="#mg" x="584.2" y="274.4"/>
<use href="#mg" x="584.2" y="275.8"/>
<use href="#mg" x="584.2" y="276.9"/>
<use href="#mg" x="584.2" y="278.2"/>
<use href="#mg" x="585.1" y="261.1"/>
<use href="#mg" x="584.8" y="262.6"/>
<use href="#mg" x="584.8" y="264.1"/>
<use href="#mg" x="584.9" y="265.1"/>
<use href="#mg" x="584.9" y="266.1"/>
<use href="#mg" x="585.0" y="267.7"/>
<use href="#mg" x="584.8" y="269.1"/>
<use href="#mg" x="585.0" y="270.6"/>
<use href="#mg" x="585.1" y="272.0"/>
<use href="#mg" x="584.9" y="273.5"/>
<use href="#mg" x="585.0" y="274.4"/>
<use href="#mg" x="584.8" y="275.9"/>
<use href="#mg" x="585.1" y="277.2"/>
<use href="#mg" x="584.7" y="278.7"/>
<use href="#mg" x="585.6" y="261.1"/>
<use href="#mg" x="586.0" y="262.1"/>
<use href="#mg" x="585.9" y="263.2"/>
<use href="#mg" x="585.7" y="264.5"/>
<use href="#mg" x="585.7" y="265.5"/>
<use href="#mg" x="585.9" y="267.0"/>
<use href="#mg" x="585.6" y="268.1"/>
<use href="#mg" x="585.9" y="269.2"/>
<use href="#mg" x="585.9" y="270.4"/>
<use href="#mg" x="585.6" y="271.9"/>
<use href="#mg" x="585.6" y="273.3"/>
<use href="#mg" x="585.6" y="274.7"/>
<use href="#mg" x="586.0" y="275.8"/>
<use href="#mg" x="585.7" y="277.0"/>
<use href="#mg" x="585.9" y="278.5"/>
<use href="#mg" x="591.9" y="262.6"/>
<use href="#mg" x="592.2" y="263.8"/>
<use href="#mg" x="592.2" y="265.1"/>
<use href="#mg" x="592.2" y="266.1"/>
<use href="#mg" x="592.0" y="267.1"/>
<use href="#mg" x="591.8" y="268.0"/>
<use href="#mg" x="592.0" y="269.6"/>
<use href="#mg" x="591.9" y="271.1"/>
<use href="#mg" x="591.8" y="272.2"/>
<use href="#mg" x="592.2" y="273.5"/>
<use href="#mg" x="591.9" y="274.7"/>
<use href="#mg" x="611.8" y="253.3"/>
<use href="#mg" x="611.4" y="254.7"/>
<use href="#mg" x="611.6" y="256.0"/>
<use href="#mg" x="611.5" y="257.6"/>
<use href="#mg" x="611.7" y="259.0"/>
<use href="#mg" x="611.6" y="260.1"/>
<use href="#mg" x="611.8" y="261.5"/>
<use href="#mg" x="611.5" y="262.8"/>
<use href="#mg" x="611.4" y="264.4"/>
<use href="#mg" x="611.7" y="265.9"/>
<use href="#mg" x="611.6" y="267.2"/>
<use href="#mg" x="611.8" y="268.6"/>
<use href="#mg" x="611.7" y="270.0"/>
<use href="#mg" x="622.8" y="249.6"/>
<use href="#mg" x="623.1" y="250.6"/>
<use href="#mg" x="622.7" y="252.1"/>
<use href="#mg" x="622.9" y="253.4"/>
<use href="#mg" x="622.8" y="254.3"/>
<use href="#mg" x="623.0" y="255.8"/>
<use href="#mg" x="623.0" y="256.9"/>
<use href="#mg" x="622.9" y="258.0"/>
<use href="#mg" x="623.1" y="259.2"/>
<use href="#mg" x="623.1" y="260.5"/>
<use href="#mg" x="622.8" y="261.9"/>
<use href="#mg" x="623.0" y="263.5"/>
<use href="#mg" x="623.6" y="249.6"/>
<use href="#mg" x="623.8" y="250.6"/>
<use href="#mg" x="623.9" y="252.1"/>
<use href="#mg" x="623.6" y="253.2"/>
<use href="#mg" x="623.9" y="254.5"/>
<use href="#mg" x="623.9" y="255.5"/>
<use href="#mg" x="623.7" y="256.5"/>
<use href="#mg" x="623.6" y="257.4"/>
<use href="#mg" x="624.0" y="258.6"/>
<use href="#mg" x="623.6" y="260.2"/>
<use href="#mg" x="624.0" y="261.3"/>
<use href="#mg" x="623.7" y="262.3"/>
<use href="#mg" x="623.6" y="263.5"/>
<use href="#mg" x="624.5" y="249.6"/>
<use href="#mg" x="624.8" y="250.8"/>
<use href="#mg" x="624.5" y="251.8"/>
<use href="#mg" x="624.6" y="253.4"/>
<use href="#mg" x="624.7" y="254.9"/>
<use href="#mg" x="624.5" y="256.4"/>
<use href="#mg" x="624.7" y="257.3"/>
<use href="#mg" x="624.6" y="258.6"/>
<use href="#mg" x="624.7" y="260.0"/>
<use href="#mg" x="624.5" y="261.0"/>
<use href="#mg" x="624.6" y="262.6"/>
<use href="#mg" x="623.7" y="246.1"/>
<use href="#mg" x="623.7" y="269.6"/>
<use href="#my" x="566.8" y="268.2"/>
<use href="#my" x="566.8" y="269.3"/>
<use href="#my" x="566.9" y="270.2"/>
<use href="#my" x="566.6" y="271.5"/>
<use href="#my" x="566.6" y="273.1"/>
<use href="#my" x="566.5" y="274.1"/>
<use href="#my" x="566.8" y="275.4"/>
<use href="#my" x="566.7" y="276.8"/>
<use href="#my" x="566.5" y="278.3"/>
<use href="#my" x="566.8" y="279.4"/>
<use href="#my" x="566.8" y="281.0"/>
<use href="#my" x="568.0" y="268.2"/>
<use href="#my" x="568.1" y="269.4"/>
<use href="#my" x="567.8" y="270.8"/>
<use href="#my" x="568.1" y="272.0"/>
<use href="#my" x="567.7" y="273.1"/>
<use href="#my" x="567.9" y="274.6"/>
<use href="#my" x="568.0" y="275.9"/>
<use href="#my" x="567.7" y="277.5"/>
<use href="#my" x="567.7" y="278.6"/>
<use href="#my" x="567.9" y="279.8"/>
<use href="#my" x="573.3" y="266.7"/>
<use href="#my" x="573.2" y="268.0"/>
<use href="#my" x="573.1" y="269.3"/>
<use href="#my" x="573.3" y="270.8"/>
<use href="#my" x="573.0" y="272.3"/>
<use href="#my" x="573.3" y="273.7"/>
<use href="#my" x="573.4" y="275.0"/>
<use href="#my" x="573.3" y="276.5"/>
<use href="#my" x="573.3" y="278.0"/>
<use href="#my" x="573.0" y="279.5"/>
<use href="#my" x="587.6" y="260.1"/>
<use href="#my" x="587.4" y="261.4"/>
<use href="#my" x="587.6" y="262.4"/>
<use href="#my" x="587.4" y="263.9"/>
<use href="#my" x="587.4" y="264.9"/>
<use href="#my" x="587.6" y="265.8"/>
<use href="#my" x="587.7" y="267.4"/>
<use href="#my" x="587.6" y="268.6"/>
<use href="#my" x="587.7" y="269.5"/>
<use href="#my" x="587.3" y="270.6"/>
<use href="#my" x="587.3" y="272.0"/>
<use href="#my" x="587.3" y="273.1"/>
<use href="#my" x="587.5" y="274.3"/>
<use href="#my" x="587.3" y="275.8"/>
<use href="#my" x="587.3" y="277.2"/>
<use href="#my" x="588.6" y="260.1"/>
<use href="#my" x="588.5" y="261.2"/>
<use href="#my" x="588.4" y="262.5"/>
<use href="#my" x="588.4" y="264.0"/>
<use href="#my" x="588.7" y="265.5"/>
<use href="#my" x="588.3" y="266.8"/>
<use href="#my" x="588.3" y="268.2"/>
<use href="#my" x="588.5" y="269.5"/>
<use href="#my" x="588.6" y="270.4"/>
<use href="#my" x="588.6" y="271.8"/>
<use href="#my" x="588.6" y="273.0"/>
<use href="#my" x="588.4" y="274.3"/>
<use href="#my" x="588.8" y="275.9"/>
<use href="#my" x="588.8" y="277.3"/>
<use href="#my" x="589.9" y="260.1"/>
<use href="#my" x="589.6" y="261.0"/>
<use href="#my" x="589.6" y="262.0"/>
<use href="#my" x="589.7" y="263.4"/>
<use href="#my" x="589.6" y="264.6"/>
<use href="#my" x="589.6" y="265.6"/>
<use href="#my" x="589.5" y="266.7"/>
<use href="#my" x="589.6" y="268.1"/>
<use href="#my" x="589.5" y="269.3"/>
<use href="#my" x="589.5" y="270.7"/>
<use href="#my" x="589.7" y="271.8"/>
<use href="#my" x="589.9" y="273.2"/>
<use href="#my" x="589.9" y="274.7"/>
<use href="#my" x="589.7" y="276.2"/>
<use href="#my" x="590.5" y="260.1"/>
<use href="#my" x="590.5" y="261.1"/>
<use href="#my" x="590.8" y="262.7"/>
<use href="#my" x="590.6" y="264.0"/>
<use href="#my" x="590.5" y="265.1"/>
<use href="#my" x="590.9" y="266.5"/>
<use href="#my" x="590.5" y="267.6"/>
<use href="#my" x="590.6" y="268.6"/>
<use href="#my" x="590.9" y="270.2"/>
<use href="#my" x="590.5" y="271.4"/>
<use href="#my" x="590.5" y="272.3"/>
<use href="#my" x="590.7" y="273.8"/>
<use href="#my" x="590.9" y="275.4"/>
<use href="#my" x="590.7" y="276.9"/>
<use href="#my" x="594.1" y="260.1"/>
<use href="#my" x="594.3" y="261.1"/>
<use href="#my" x="594.2" y="262.3"/>
<use href="#my" x="594.1" y="263.4"/>
<use href="#my" x="594.4" y="264.9"/>
<use href="#my" x="594.5" y="266.5"/>
<use href="#my" x="594.4" y="267.7"/>
<use href="#my" x="594.5" y="268.9"/>
<use href="#my" x="594.1" y="270.4"/>
<use href="#my" x="594.2" y="271.3"/>
<use href="#my" x="594.2" y="272.6"/>
<use href="#my" x="594.5" y="273.5"/>
<use href="#my" x="594.3" y="274.9"/>
<use href="#my" x="595.3" y="260.1"/>
<use href="#my" x="594.9" y="261.4"/>
<use href="#my" x="595.2" y="262.5"/>
<use href="#my" x="595.1" y="264.0"/>
<use href="#my" x="595.0" y="265.4"/>
<use href="#my" x="595.3" y="266.4"/>
<use href="#my" x="594.9" y="267.6"/>
<use href="#my" x="594.9" y="268.9"/>
<use href="#my" x="595.1" y="269.9"/>
<use href="#my" x="595.2" y="271.3"/>
<use href="#my" x="595.1" y="272.7"/>
<use href="#my" x="595.2" y="273.6"/>
<use href="#my" x="595.1" y="274.5"/>
<use href="#my" x="616.0" y="252.3"/>
<use href="#my" x="615.8" y="253.7"/>
<use href="#my" x="616.0" y="255.1"/>
<use href="#my" x="615.8" y="256.3"/>
<use href="#my" x="616.0" y="257.9"/>
<use href="#my" x="615.8" y="258.8"/>
<use href="#my" x="615.8" y="260.4"/>
<use href="#my" x="616.1" y="261.6"/>
<use href="#my" x="616.0" y="263.1"/>
<use href="#my" x="615.7" y="264.5"/>
<use href="#my" x="616.2" y="265.4"/>
<use href="#my" x="626.6" y="249.1"/>
<use href="#my" x="626.7" y="250.0"/>
<use href="#my" x="626.7" y="251.6"/>
<use href="#my" x="627.0" y="253.0"/>
<use href="#my" x="627.0" y="254.3"/>
<use href="#my" x="626.6" y="255.4"/>
<use href="#my" x="626.9" y="256.3"/>
<use href="#my" x="627.0" y="257.2"/>
<use href="#my" x="626.6" y="258.6"/>
<use href="#my" x="626.6" y="260.1"/>
<use href="#my" x="626.6" y="261.4"/>
<use href="#my" x="627.0" y="262.8"/>
<use href="#my" x="626.6" y="264.4"/>
<use href="#my" x="627.9" y="249.1"/>
<use href="#my" x="627.9" y="250.6"/>
<use href="#my" x="627.9" y="251.9"/>
<use href="#my" x="627.7" y="253.4"/>
<use href="#my" x="627.9" y="254.3"/>
<use href="#my" x="627.8" y="255.4"/>
<use href="#my" x="628.0" y="256.3"/>
<use href="#my" x="628.1" y="257.2"/>
<use href="#my" x="627.9" y="258.7"/>
<use href="#my" x="628.0" y="259.6"/>
<use href="#my" x="627.9" y="260.7"/>
<use href="#my" x="628.1" y="261.6"/>
<use href="#my" x="627.8" y="262.9"/>
<use href="#my" x="628.0" y="263.9"/>
<use href="#my" x="629.2" y="249.1"/>
<use href="#my" x="628.9" y="250.1"/>
<use href="#my" x="629.1" y="251.2"/>
<use href="#my" x="629.1" y="252.1"/>
<use href="#my" x="629.1" y="253.7"/>
<use href="#my" x="628.8" y="254.6"/>
<use href="#my" x="629.1" y="255.6"/>
<use href="#my" x="629.0" y="256.9"/>
<use href="#my" x="629.0" y="258.1"/>
<use href="#my" x="629.1" y="259.5"/>
<use href="#my" x="629.1" y="261.0"/>
<use href="#my" x="629.2" y="262.5"/>
<use href="#my" x="629.1" y="264.0"/>
<use href="#my" x="629.1" y="264.9"/>
<use href="#my" x="594.2" y="257.5"/>
<use href="#my" x="616.0" y="269.5"/>
<use href="#my" x="628.0" y="245.1"/>
<use href="#my" x="627.0" y="270.1"/>
<text x="541.25" y="377.20" font-size="11.4" fill="#2e2e2e" text-anchor="middle">Mean monthly outdoor air temperature (°C)</text>
<text transform="translate(368.00,290.10) rotate(-90)" font-size="11.4" fill="#2e2e2e" text-anchor="middle">Indoor operative temperature</text>
<text transform="translate(380.50,290.10) rotate(-90)" font-size="11.4" fill="#2e2e2e" text-anchor="middle">(°C)</text>
<text x="160" y="409.00" font-size="13.25" fill="#2a2a2a" text-anchor="middle"><tspan font-weight="bold">(e)</tspan> Bisoi- Vernacular</text>
<text x="39.50" y="548.50" font-size="10" fill="#2e2e2e" text-anchor="end">5</text>
<text x="39.50" y="529.59" font-size="10" fill="#2e2e2e" text-anchor="end">10</text>
<text x="39.50" y="510.67" font-size="10" fill="#2e2e2e" text-anchor="end">15</text>
<text x="39.50" y="491.76" font-size="10" fill="#2e2e2e" text-anchor="end">20</text>
<text x="39.50" y="472.84" font-size="10" fill="#2e2e2e" text-anchor="end">25</text>
<text x="39.50" y="453.93" font-size="10" fill="#2e2e2e" text-anchor="end">30</text>
<text x="39.50" y="435.01" font-size="10" fill="#2e2e2e" text-anchor="end">35</text>
<text x="39.50" y="416.10" font-size="10" fill="#2e2e2e" text-anchor="end">40</text>
<text x="47.50" y="560.00" font-size="10" fill="#2e2e2e" text-anchor="middle">5</text>
<text x="93.08" y="560.00" font-size="10" fill="#2e2e2e" text-anchor="middle">10</text>
<text x="138.67" y="560.00" font-size="10" fill="#2e2e2e" text-anchor="middle">15</text>
<text x="184.25" y="560.00" font-size="10" fill="#2e2e2e" text-anchor="middle">20</text>
<text x="229.83" y="560.00" font-size="10" fill="#2e2e2e" text-anchor="middle">25</text>
<text x="275.42" y="560.00" font-size="10" fill="#2e2e2e" text-anchor="middle">30</text>
<text x="321.00" y="560.00" font-size="10" fill="#2e2e2e" text-anchor="middle">35</text>
<path d="M47.50 413.10V545.50H321.00" fill="none" stroke="#bfbfbf" stroke-width="1"/>
<line x1="92.63" y1="472.17" x2="312.61" y2="443.87" stroke="#444" stroke-width="1.2" stroke-dasharray="3.2 1.54"/>
<line x1="92.63" y1="498.65" x2="312.61" y2="470.35" stroke="#444" stroke-width="1.2" stroke-dasharray="3.2 1.54"/>
<use href="#mb" x="61.9" y="512.1"/>
<use href="#mb" x="61.7" y="513.9"/>
<use href="#mb" x="61.9" y="515.8"/>
<use href="#mb" x="61.8" y="517.5"/>
<use href="#mb" x="61.8" y="518.8"/>
<use href="#mb" x="61.7" y="520.2"/>
<use href="#mb" x="62.1" y="521.6"/>
<use href="#mb" x="62.1" y="523.3"/>
<use href="#mb" x="62.1" y="525.0"/>
<use href="#mb" x="73.4" y="504.0"/>
<use href="#mb" x="73.2" y="505.3"/>
<use href="#mb" x="73.1" y="506.7"/>
<use href="#mb" x="73.5" y="508.0"/>
<use href="#mb" x="73.2" y="509.9"/>
<use href="#mb" x="73.4" y="511.6"/>
<use href="#mb" x="73.4" y="513.4"/>
<use href="#mb" x="73.1" y="515.0"/>
<use href="#mb" x="73.2" y="516.8"/>
<use href="#mb" x="73.2" y="518.4"/>
<use href="#mb" x="107.7" y="492.3"/>
<use href="#mb" x="107.5" y="493.5"/>
<use href="#mb" x="107.5" y="495.1"/>
<use href="#mb" x="107.4" y="497.0"/>
<use href="#mb" x="107.5" y="498.9"/>
<use href="#mb" x="107.2" y="500.8"/>
<use href="#mb" x="107.3" y="502.1"/>
<use href="#mb" x="107.2" y="503.9"/>
<use href="#mb" x="107.6" y="505.2"/>
<use href="#mb" x="137.0" y="480.1"/>
<use href="#mb" x="137.3" y="481.5"/>
<use href="#mb" x="137.3" y="483.2"/>
<use href="#mb" x="137.1" y="484.9"/>
<use href="#mb" x="137.0" y="486.2"/>
<use href="#mb" x="137.1" y="487.9"/>
<use href="#mb" x="137.4" y="489.2"/>
<use href="#mb" x="137.2" y="490.8"/>
<use href="#mb" x="137.2" y="492.5"/>
<use href="#mb" x="137.1" y="494.1"/>
<use href="#mb" x="137.0" y="495.2"/>
<use href="#mb" x="137.1" y="496.3"/>
<use href="#mb" x="137.0" y="497.5"/>
<use href="#mb" x="137.4" y="499.0"/>
<use href="#mb" x="137.1" y="500.6"/>
<use href="#mb" x="137.0" y="502.4"/>
<use href="#mb" x="137.8" y="480.1"/>
<use href="#mb" x="138.0" y="481.5"/>
<use href="#mb" x="138.0" y="483.0"/>
<use href="#mb" x="138.1" y="484.1"/>
<use href="#mb" x="138.1" y="485.5"/>
<use href="#mb" x="138.1" y="486.5"/>
<use href="#mb" x="138.1" y="487.8"/>
<use href="#mb" x="138.0" y="489.6"/>
<use href="#mb" x="137.7" y="490.9"/>
<use href="#mb" x="138.1" y="492.1"/>
<use href="#mb" x="138.0" y="493.3"/>
<use href="#mb" x="138.0" y="494.9"/>
<use href="#mb" x="137.7" y="496.1"/>
<use href="#mb" x="138.1" y="497.2"/>
<use href="#mb" x="138.0" y="498.6"/>
<use href="#mb" x="137.8" y="500.2"/>
<use href="#mb" x="137.7" y="501.3"/>
<use href="#mb" x="137.7" y="503.1"/>
<use href="#mb" x="154.1" y="475.3"/>
<use href="#mb" x="154.0" y="477.0"/>
<use href="#mb" x="154.1" y="478.8"/>
<use href="#mb" x="154.2" y="480.1"/>
<use href="#mb" x="154.1" y="481.3"/>
<use href="#mb" x="154.1" y="483.1"/>
<use href="#mb" x="154.3" y="484.4"/>
<use href="#mb" x="154.0" y="485.7"/>
<use href="#mb" x="154.1" y="486.9"/>
<use href="#mb" x="154.3" y="488.3"/>
<use href="#mb" x="154.4" y="489.8"/>
<use href="#mb" x="154.3" y="490.9"/>
<use href="#mb" x="178.2" y="468.4"/>
<use href="#mb" x="178.3" y="469.5"/>
<use href="#mb" x="178.3" y="470.6"/>
<use href="#mb" x="178.1" y="472.3"/>
<use href="#mb" x="178.3" y="473.5"/>
<use href="#mb" x="178.2" y="474.7"/>
<use href="#mb" x="178.1" y="476.1"/>
<use href="#mb" x="178.2" y="477.2"/>
<use href="#mb" x="178.5" y="478.7"/>
<use href="#mb" x="178.1" y="480.3"/>
<use href="#mb" x="178.4" y="481.5"/>
<use href="#mb" x="178.5" y="483.1"/>
<use href="#mb" x="178.5" y="485.0"/>
<use href="#mb" x="190.1" y="468.9"/>
<use href="#mb" x="189.8" y="470.4"/>
<use href="#mb" x="190.1" y="471.6"/>
<use href="#mb" x="189.7" y="472.9"/>
<use href="#mb" x="190.1" y="474.2"/>
<use href="#mb" x="190.0" y="475.6"/>
<use href="#mb" x="189.9" y="476.7"/>
<use href="#mb" x="189.8" y="478.1"/>
<use href="#mb" x="189.8" y="479.7"/>
<use href="#mb" x="190.1" y="480.9"/>
<use href="#mb" x="196.5" y="459.6"/>
<use href="#mb" x="196.7" y="460.7"/>
<use href="#mb" x="196.4" y="462.2"/>
<use href="#mb" x="196.8" y="463.6"/>
<use href="#mb" x="196.5" y="465.2"/>
<use href="#mb" x="196.7" y="466.7"/>
<use href="#mb" x="196.5" y="468.3"/>
<use href="#mb" x="196.9" y="470.1"/>
<use href="#mb" x="196.8" y="471.8"/>
<use href="#mb" x="196.9" y="473.2"/>
<use href="#mb" x="196.5" y="474.4"/>
<use href="#mb" x="196.9" y="476.0"/>
<use href="#mb" x="196.5" y="477.1"/>
<use href="#mb" x="196.6" y="478.2"/>
<use href="#mb" x="196.5" y="479.4"/>
<use href="#mb" x="196.7" y="481.1"/>
<use href="#mb" x="196.6" y="483.0"/>
<use href="#mb" x="196.4" y="484.7"/>
<use href="#mb" x="205.7" y="455.5"/>
<use href="#mb" x="205.9" y="457.0"/>
<use href="#mb" x="205.8" y="458.9"/>
<use href="#mb" x="205.9" y="460.8"/>
<use href="#mb" x="206.0" y="462.1"/>
<use href="#mb" x="206.1" y="463.3"/>
<use href="#mb" x="205.7" y="464.8"/>
<use href="#mb" x="205.8" y="466.7"/>
<use href="#mb" x="205.8" y="468.1"/>
<use href="#mb" x="205.6" y="469.7"/>
<use href="#mb" x="205.7" y="471.1"/>
<use href="#mb" x="205.6" y="472.9"/>
<use href="#mb" x="205.7" y="474.5"/>
<use href="#mb" x="205.9" y="476.0"/>
<use href="#mb" x="205.7" y="477.7"/>
<use href="#mb" x="205.7" y="478.9"/>
<use href="#mb" x="205.7" y="480.9"/>
<use href="#sb" x="61.9" y="504.3"/>
<use href="#sb" x="61.9" y="508.2"/>
<use href="#mo" x="80.0" y="499.2"/>
<use href="#mo" x="80.1" y="500.5"/>
<use href="#mo" x="79.8" y="501.4"/>
<use href="#mo" x="80.0" y="502.4"/>
<use href="#mo" x="79.9" y="503.6"/>
<use href="#mo" x="80.0" y="505.2"/>
<use href="#mo" x="80.2" y="506.7"/>
<use href="#mo" x="80.2" y="507.8"/>
<use href="#mo" x="79.7" y="509.0"/>
<use href="#mo" x="79.8" y="510.5"/>
<use href="#mo" x="79.8" y="511.4"/>
<use href="#mo" x="80.2" y="512.5"/>
<use href="#mo" x="79.9" y="514.0"/>
<use href="#mo" x="80.1" y="515.3"/>
<use href="#mo" x="80.0" y="516.8"/>
<use href="#mo" x="79.8" y="518.0"/>
<use href="#mo" x="80.0" y="519.1"/>
<use href="#mo" x="80.1" y="520.4"/>
<use href="#mo" x="84.7" y="501.9"/>
<use href="#mo" x="84.3" y="503.5"/>
<use href="#mo" x="84.5" y="506.0"/>
<use href="#mo" x="84.6" y="507.6"/>
<use href="#mo" x="84.4" y="509.3"/>
<use href="#mo" x="84.5" y="511.2"/>
<use href="#mo" x="84.3" y="513.4"/>
<use href="#mo" x="84.6" y="515.7"/>
<use href="#mo" x="84.6" y="517.6"/>
<use href="#mo" x="96.7" y="497.1"/>
<use href="#mo" x="97.0" y="498.3"/>
<use href="#mo" x="97.0" y="499.7"/>
<use href="#mo" x="97.2" y="500.7"/>
<use href="#mo" x="96.8" y="502.2"/>
<use href="#mo" x="97.2" y="503.4"/>
<use href="#mo" x="96.9" y="504.4"/>
<use href="#mo" x="97.2" y="506.0"/>
<use href="#mo" x="97.1" y="507.1"/>
<use href="#mo" x="97.0" y="508.2"/>
<use href="#mo" x="96.8" y="509.7"/>
<use href="#mo" x="96.8" y="510.7"/>
<use href="#mo" x="96.7" y="511.8"/>
<use href="#mo" x="96.9" y="512.8"/>
<use href="#mo" x="96.7" y="514.0"/>
<use href="#mo" x="97.2" y="515.3"/>
<use href="#mo" x="96.9" y="516.6"/>
<use href="#mo" x="120.1" y="488.5"/>
<use href="#mo" x="120.1" y="489.5"/>
<use href="#mo" x="120.2" y="490.4"/>
<use href="#mo" x="120.1" y="491.4"/>
<use href="#mo" x="120.3" y="493.0"/>
<use href="#mo" x="120.2" y="494.5"/>
<use href="#mo" x="120.3" y="495.8"/>
<use href="#mo" x="120.0" y="497.4"/>
<use href="#mo" x="120.1" y="498.9"/>
<use href="#mo" x="120.3" y="500.0"/>
<use href="#mo" x="122.8" y="482.1"/>
<use href="#mo" x="122.6" y="483.6"/>
<use href="#mo" x="122.4" y="484.7"/>
<use href="#mo" x="122.7" y="485.9"/>
<use href="#mo" x="122.4" y="487.0"/>
<use href="#mo" x="122.4" y="487.9"/>
<use href="#mo" x="122.4" y="489.3"/>
<use href="#mo" x="122.5" y="490.3"/>
<use href="#mo" x="122.8" y="491.7"/>
<use href="#mo" x="122.4" y="492.6"/>
<use href="#mo" x="122.8" y="494.2"/>
<use href="#mo" x="122.5" y="495.2"/>
<use href="#mo" x="122.5" y="496.5"/>
<use href="#mo" x="122.6" y="497.6"/>
<use href="#mo" x="122.4" y="498.7"/>
<use href="#mo" x="122.4" y="499.7"/>
<use href="#mo" x="122.7" y="500.6"/>
<use href="#mo" x="122.5" y="502.0"/>
<use href="#mo" x="122.7" y="503.5"/>
<use href="#mo" x="122.6" y="504.6"/>
<use href="#mo" x="122.8" y="505.6"/>
<use href="#mo" x="122.4" y="506.9"/>
<use href="#mo" x="149.6" y="477.2"/>
<use href="#mo" x="149.7" y="478.4"/>
<use href="#mo" x="149.7" y="479.4"/>
<use href="#mo" x="149.3" y="480.9"/>
<use href="#mo" x="149.4" y="482.2"/>
<use href="#mo" x="149.7" y="483.6"/>
<use href="#mo" x="149.4" y="485.1"/>
<use href="#mo" x="149.6" y="486.0"/>
<use href="#mo" x="149.4" y="487.3"/>
<use href="#mo" x="149.6" y="488.3"/>
<use href="#mo" x="149.6" y="489.3"/>
<use href="#mo" x="149.4" y="490.4"/>
<use href="#mo" x="149.6" y="491.5"/>
<use href="#mo" x="160.9" y="471.7"/>
<use href="#mo" x="161.0" y="473.1"/>
<use href="#mo" x="161.2" y="474.2"/>
<use href="#mo" x="161.2" y="475.6"/>
<use href="#mo" x="161.0" y="477.2"/>
<use href="#mo" x="161.2" y="478.3"/>
<use href="#mo" x="161.0" y="479.3"/>
<use href="#mo" x="161.3" y="480.4"/>
<use href="#mo" x="161.3" y="481.9"/>
<use href="#mo" x="161.3" y="483.5"/>
<use href="#mo" x="161.1" y="484.6"/>
<use href="#mo" x="160.9" y="486.0"/>
<use href="#mo" x="160.9" y="487.3"/>
<use href="#mo" x="161.2" y="488.2"/>
<use href="#mo" x="161.4" y="489.2"/>
<use href="#mo" x="163.3" y="473.1"/>
<use href="#mo" x="163.2" y="474.6"/>
<use href="#mo" x="163.4" y="476.5"/>
<use href="#mo" x="163.5" y="478.2"/>
<use href="#mo" x="163.5" y="480.1"/>
<use href="#mo" x="163.1" y="481.6"/>
<use href="#mo" x="163.3" y="483.3"/>
<use href="#mo" x="163.4" y="484.9"/>
<use href="#mo" x="163.3" y="486.5"/>
<use href="#mo" x="183.5" y="463.2"/>
<use href="#mo" x="183.3" y="464.7"/>
<use href="#mo" x="183.6" y="465.9"/>
<use href="#mo" x="183.5" y="467.4"/>
<use href="#mo" x="183.4" y="468.4"/>
<use href="#mo" x="183.3" y="469.7"/>
<use href="#mo" x="183.6" y="470.6"/>
<use href="#mo" x="183.2" y="472.2"/>
<use href="#mo" x="183.5" y="473.4"/>
<use href="#mo" x="183.2" y="474.5"/>
<use href="#mo" x="183.5" y="476.0"/>
<use href="#mo" x="183.2" y="477.2"/>
<use href="#mo" x="183.2" y="478.3"/>
<use href="#mo" x="183.2" y="479.9"/>
<use href="#mo" x="183.5" y="481.0"/>
<use href="#mo" x="183.2" y="482.0"/>
<use href="#mo" x="183.2" y="482.9"/>
<use href="#mo" x="183.6" y="484.2"/>
<use href="#mo" x="183.2" y="485.2"/>
<use href="#mo" x="184.3" y="463.2"/>
<use href="#mo" x="184.1" y="464.3"/>
<use href="#mo" x="184.5" y="465.4"/>
<use href="#mo" x="184.2" y="466.3"/>
<use href="#mo" x="184.5" y="467.8"/>
<use href="#mo" x="184.3" y="469.3"/>
<use href="#mo" x="184.4" y="470.9"/>
<use href="#mo" x="184.3" y="472.0"/>
<use href="#mo" x="184.4" y="473.4"/>
<use href="#mo" x="184.1" y="474.4"/>
<use href="#mo" x="184.1" y="476.0"/>
<use href="#mo" x="184.2" y="477.5"/>
<use href="#mo" x="184.2" y="478.5"/>
<use href="#mo" x="184.5" y="479.8"/>
<use href="#mo" x="184.5" y="480.8"/>
<use href="#mo" x="184.1" y="481.9"/>
<use href="#mo" x="184.2" y="483.3"/>
<use href="#mo" x="184.3" y="484.3"/>
<use href="#mo" x="184.5" y="485.8"/>
<use href="#mo" x="163.4" y="470.6"/>
<use href="#mo" x="163.4" y="494.0"/>
<use href="#mo" x="175.5" y="466.6"/>
<use href="#mo" x="171.9" y="491.3"/>
<use href="#mg" x="85.7" y="497.1"/>
<use href="#mg" x="86.0" y="498.5"/>
<use href="#mg" x="86.1" y="500.1"/>
<use href="#mg" x="86.1" y="501.2"/>
<use href="#mg" x="85.8" y="502.7"/>
<use href="#mg" x="85.8" y="503.9"/>
<use href="#mg" x="85.8" y="505.0"/>
<use href="#mg" x="85.8" y="506.0"/>
<use href="#mg" x="85.9" y="507.5"/>
<use href="#mg" x="86.1" y="508.9"/>
<use href="#mg" x="85.8" y="510.3"/>
<use href="#mg" x="86.1" y="511.9"/>
<use href="#mg" x="86.0" y="513.5"/>
<use href="#mg" x="86.1" y="514.9"/>
<use href="#mg" x="86.0" y="516.0"/>
<use href="#mg" x="86.1" y="517.2"/>
<use href="#mg" x="85.9" y="518.1"/>
<use href="#mg" x="86.1" y="519.3"/>
<use href="#mg" x="86.1" y="520.4"/>
<use href="#mg" x="102.0" y="498.1"/>
<use href="#mg" x="102.1" y="499.1"/>
<use href="#mg" x="101.9" y="500.5"/>
<use href="#mg" x="101.6" y="501.9"/>
<use href="#mg" x="101.9" y="503.4"/>
<use href="#mg" x="101.8" y="504.6"/>
<use href="#mg" x="102.0" y="506.1"/>
<use href="#mg" x="101.7" y="507.6"/>
<use href="#mg" x="101.7" y="508.7"/>
<use href="#mg" x="101.8" y="509.7"/>
<use href="#mg" x="124.2" y="487.5"/>
<use href="#mg" x="123.8" y="488.5"/>
<use href="#mg" x="124.2" y="489.5"/>
<use href="#mg" x="124.0" y="490.5"/>
<use href="#mg" x="124.2" y="491.7"/>
<use href="#mg" x="124.0" y="493.3"/>
<use href="#mg" x="124.2" y="494.6"/>
<use href="#mg" x="124.2" y="495.8"/>
<use href="#mg" x="124.0" y="497.3"/>
<use href="#mg" x="124.1" y="498.8"/>
<use href="#mg" x="124.1" y="499.7"/>
<use href="#mg" x="127.0" y="481.6"/>
<use href="#mg" x="127.0" y="482.8"/>
<use href="#mg" x="127.1" y="484.4"/>
<use href="#mg" x="126.9" y="485.4"/>
<use href="#mg" x="127.2" y="486.6"/>
<use href="#mg" x="126.8" y="487.9"/>
<use href="#mg" x="126.8" y="489.5"/>
<use href="#mg" x="127.0" y="490.8"/>
<use href="#mg" x="127.0" y="492.2"/>
<use href="#mg" x="127.0" y="493.2"/>
<use href="#mg" x="127.1" y="494.7"/>
<use href="#mg" x="126.9" y="495.8"/>
<use href="#mg" x="127.2" y="497.3"/>
<use href="#mg" x="127.2" y="498.3"/>
<use href="#mg" x="127.0" y="499.9"/>
<use href="#mg" x="127.1" y="501.1"/>
<use href="#mg" x="126.9" y="502.6"/>
<use href="#mg" x="126.9" y="503.7"/>
<use href="#mg" x="126.8" y="505.2"/>
<use href="#mg" x="153.0" y="473.3"/>
<use href="#mg" x="152.8" y="474.7"/>
<use href="#mg" x="153.2" y="476.3"/>
<use href="#mg" x="153.1" y="477.6"/>
<use href="#mg" x="153.2" y="478.6"/>
<use href="#mg" x="153.1" y="479.9"/>
<use href="#mg" x="152.9" y="481.4"/>
<use href="#mg" x="152.9" y="483.0"/>
<use href="#mg" x="153.0" y="483.9"/>
<use href="#mg" x="153.2" y="485.4"/>
<use href="#mg" x="153.0" y="487.0"/>
<use href="#mg" x="153.0" y="488.6"/>
<use href="#mg" x="153.1" y="489.6"/>
<use href="#mg" x="153.0" y="491.0"/>
<use href="#mg" x="152.9" y="492.4"/>
<use href="#mg" x="153.0" y="493.4"/>
<use href="#mg" x="153.0" y="494.7"/>
<use href="#mg" x="166.1" y="468.6"/>
<use href="#mg" x="166.4" y="469.7"/>
<use href="#mg" x="166.2" y="471.2"/>
<use href="#mg" x="166.3" y="472.2"/>
<use href="#mg" x="166.4" y="473.2"/>
<use href="#mg" x="166.2" y="474.8"/>
<use href="#mg" x="166.4" y="476.1"/>
<use href="#mg" x="166.4" y="477.5"/>
<use href="#mg" x="166.2" y="479.0"/>
<use href="#mg" x="166.5" y="480.5"/>
<use href="#mg" x="166.5" y="481.4"/>
<use href="#mg" x="166.1" y="482.6"/>
<use href="#mg" x="166.4" y="483.5"/>
<use href="#mg" x="166.1" y="484.9"/>
<use href="#mg" x="166.4" y="486.1"/>
<use href="#mg" x="166.2" y="487.7"/>
<use href="#mg" x="166.2" y="489.2"/>
<use href="#mg" x="166.1" y="490.2"/>
<use href="#mg" x="175.4" y="469.9"/>
<use href="#mg" x="175.1" y="471.0"/>
<use href="#mg" x="175.1" y="472.0"/>
<use href="#mg" x="175.2" y="473.1"/>
<use href="#mg" x="175.1" y="474.3"/>
<use href="#mg" x="175.3" y="475.5"/>
<use href="#mg" x="175.3" y="477.2"/>
<use href="#mg" x="175.3" y="478.7"/>
<use href="#mg" x="175.3" y="479.8"/>
<use href="#mg" x="175.1" y="480.7"/>
<use href="#mg" x="175.4" y="481.7"/>
<use href="#mg" x="175.3" y="483.3"/>
<use href="#mg" x="175.3" y="484.4"/>
<use href="#mg" x="175.4" y="485.6"/>
<use href="#mg" x="175.1" y="486.7"/>
<use href="#mg" x="175.3" y="488.2"/>
<use href="#mg" x="188.1" y="459.1"/>
<use href="#mg" x="187.8" y="460.5"/>
<use href="#mg" x="188.1" y="461.9"/>
<use href="#mg" x="187.9" y="463.0"/>
<use href="#mg" x="187.9" y="464.1"/>
<use href="#mg" x="188.0" y="465.5"/>
<use href="#mg" x="187.7" y="467.1"/>
<use href="#mg" x="188.1" y="468.3"/>
<use href="#mg" x="187.9" y="469.7"/>
<use href="#mg" x="187.8" y="471.1"/>
<use href="#mg" x="187.9" y="472.7"/>
<use href="#mg" x="187.7" y="473.9"/>
<use href="#mg" x="188.1" y="474.8"/>
<use href="#mg" x="187.7" y="476.3"/>
<use href="#mg" x="187.9" y="477.4"/>
<use href="#mg" x="187.8" y="478.7"/>
<use href="#mg" x="187.8" y="480.2"/>
<use href="#mg" x="188.1" y="481.5"/>
<use href="#mg" x="187.9" y="482.8"/>
<use href="#mg" x="187.8" y="484.0"/>
<use href="#mg" x="189.3" y="459.1"/>
<use href="#mg" x="189.1" y="460.2"/>
<use href="#mg" x="189.1" y="461.3"/>
<use href="#mg" x="189.2" y="462.9"/>
<use href="#mg" x="189.1" y="464.0"/>
<use href="#mg" x="189.0" y="465.5"/>
<use href="#mg" x="189.0" y="466.9"/>
<use href="#mg" x="189.0" y="467.9"/>
<use href="#mg" x="189.0" y="469.4"/>
<use href="#mg" x="189.0" y="470.4"/>
<use href="#mg" x="189.3" y="471.5"/>
<use href="#mg" x="189.4" y="472.9"/>
<use href="#mg" x="189.2" y="474.5"/>
<use href="#mg" x="189.0" y="476.0"/>
<use href="#mg" x="189.2" y="477.6"/>
<use href="#mg" x="189.3" y="478.6"/>
<use href="#mg" x="189.1" y="480.2"/>
<use href="#mg" x="189.4" y="481.1"/>
<use href="#mg" x="189.2" y="482.5"/>
<use href="#mg" x="189.0" y="484.1"/>
<use href="#mg" x="189.0" y="485.1"/>
<use href="#mg" x="166.3" y="495.8"/>
<use href="#my" x="89.4" y="496.1"/>
<use href="#my" x="89.1" y="497.4"/>
<use href="#my" x="89.1" y="498.4"/>
<use href="#my" x="89.3" y="499.8"/>
<use href="#my" x="89.2" y="501.4"/>
<use href="#my" x="89.2" y="503.0"/>
<use href="#my" x="89.1" y="504.2"/>
<use href="#my" x="89.5" y="505.2"/>
<use href="#my" x="89.4" y="506.8"/>
<use href="#my" x="89.1" y="507.8"/>
<use href="#my" x="89.2" y="508.8"/>
<use href="#my" x="89.0" y="510.2"/>
<use href="#my" x="89.3" y="511.5"/>
<use href="#my" x="89.2" y="512.4"/>
<use href="#my" x="89.3" y="513.9"/>
<use href="#my" x="89.4" y="515.1"/>
<use href="#my" x="89.2" y="516.4"/>
<use href="#my" x="89.5" y="517.6"/>
<use href="#my" x="93.3" y="499.2"/>
<use href="#my" x="92.9" y="500.5"/>
<use href="#my" x="93.0" y="501.5"/>
<use href="#my" x="92.8" y="502.9"/>
<use href="#my" x="93.2" y="504.4"/>
<use href="#my" x="92.8" y="505.6"/>
<use href="#my" x="93.0" y="507.1"/>
<use href="#my" x="93.1" y="508.5"/>
<use href="#my" x="93.0" y="509.9"/>
<use href="#my" x="93.3" y="511.5"/>
<use href="#my" x="93.1" y="513.1"/>
<use href="#my" x="93.0" y="514.2"/>
<use href="#my" x="93.3" y="515.3"/>
<use href="#my" x="105.0" y="495.0"/>
<use href="#my" x="105.1" y="496.5"/>
<use href="#my" x="104.8" y="497.9"/>
<use href="#my" x="104.8" y="499.3"/>
<use href="#my" x="104.7" y="500.7"/>
<use href="#my" x="104.9" y="502.2"/>
<use href="#my" x="105.1" y="503.3"/>
<use href="#my" x="105.1" y="504.2"/>
<use href="#my" x="104.7" y="505.6"/>
<use href="#my" x="104.9" y="507.1"/>
<use href="#my" x="104.9" y="508.6"/>
<use href="#my" x="105.1" y="509.8"/>
<use href="#my" x="105.0" y="510.8"/>
<use href="#my" x="127.4" y="486.0"/>
<use href="#my" x="127.7" y="487.0"/>
<use href="#my" x="127.6" y="488.2"/>
<use href="#my" x="127.6" y="489.2"/>
<use href="#my" x="127.3" y="490.6"/>
<use href="#my" x="127.6" y="491.8"/>
<use href="#my" x="127.6" y="492.9"/>
<use href="#my" x="127.4" y="494.0"/>
<use href="#my" x="127.7" y="495.5"/>
<use href="#my" x="127.5" y="497.1"/>
<use href="#my" x="131.1" y="479.1"/>
<use href="#my" x="130.9" y="480.5"/>
<use href="#my" x="130.9" y="482.1"/>
<use href="#my" x="130.9" y="483.7"/>
<use href="#my" x="131.1" y="484.6"/>
<use href="#my" x="131.0" y="485.6"/>
<use href="#my" x="131.2" y="486.5"/>
<use href="#my" x="131.1" y="487.8"/>
<use href="#my" x="131.0" y="488.8"/>
<use href="#my" x="130.8" y="489.9"/>
<use href="#my" x="130.7" y="491.4"/>
<use href="#my" x="130.7" y="492.6"/>
<use href="#my" x="131.1" y="494.2"/>
<use href="#my" x="130.9" y="495.1"/>
<use href="#my" x="131.1" y="496.3"/>
<use href="#my" x="130.9" y="497.7"/>
<use href="#my" x="130.8" y="499.3"/>
<use href="#my" x="131.1" y="500.3"/>
<use href="#my" x="130.8" y="501.2"/>
<use href="#my" x="130.9" y="502.5"/>
<use href="#my" x="131.2" y="503.5"/>
<use href="#my" x="131.1" y="504.7"/>
<use href="#my" x="131.2" y="505.8"/>
<use href="#my" x="131.2" y="506.8"/>
<use href="#my" x="157.1" y="472.3"/>
<use href="#my" x="157.0" y="473.8"/>
<use href="#my" x="157.1" y="475.0"/>
<use href="#my" x="156.7" y="476.2"/>
<use href="#my" x="157.1" y="477.8"/>
<use href="#my" x="157.0" y="479.2"/>
<use href="#my" x="156.9" y="480.2"/>
<use href="#my" x="157.1" y="481.7"/>
<use href="#my" x="156.7" y="483.3"/>
<use href="#my" x="156.9" y="484.7"/>
<use href="#my" x="156.7" y="485.9"/>
<use href="#my" x="156.9" y="486.8"/>
<use href="#my" x="156.8" y="488.1"/>
<use href="#my" x="156.9" y="489.2"/>
<use href="#my" x="171.7" y="469.0"/>
<use href="#my" x="171.9" y="470.0"/>
<use href="#my" x="171.9" y="471.1"/>
<use href="#my" x="171.5" y="472.8"/>
<use href="#my" x="171.9" y="474.1"/>
<use href="#my" x="171.7" y="475.2"/>
<use href="#my" x="171.5" y="476.3"/>
<use href="#my" x="171.5" y="477.4"/>
<use href="#my" x="171.8" y="478.5"/>
<use href="#my" x="171.9" y="479.8"/>
<use href="#my" x="171.6" y="481.1"/>
<use href="#my" x="171.8" y="482.7"/>
<use href="#my" x="171.9" y="484.0"/>
<use href="#my" x="171.6" y="485.4"/>
<use href="#my" x="171.6" y="486.7"/>
<use href="#my" x="179.0" y="469.0"/>
<use href="#my" x="178.9" y="470.6"/>
<use href="#my" x="179.2" y="471.5"/>
<use href="#my" x="179.2" y="472.5"/>
<use href="#my" x="179.3" y="473.5"/>
<use href="#my" x="179.2" y="474.9"/>
<use href="#my" x="179.4" y="476.4"/>
<use href="#my" x="179.3" y="477.8"/>
<use href="#my" x="178.9" y="478.7"/>
<use href="#my" x="179.4" y="479.9"/>
<use href="#my" x="179.2" y="481.0"/>
<use href="#my" x="179.1" y="481.9"/>
<use href="#my" x="179.2" y="483.4"/>
<use href="#my" x="178.9" y="484.9"/>
<use href="#my" x="179.0" y="485.9"/>
<use href="#my" x="183.0" y="467.1"/>
<use href="#my" x="183.1" y="469.5"/>
<use href="#my" x="183.2" y="471.8"/>
<use href="#my" x="183.4" y="473.4"/>
<use href="#my" x="183.3" y="475.2"/>
<use href="#my" x="183.4" y="476.6"/>
<use href="#my" x="183.0" y="479.0"/>
<use href="#my" x="183.1" y="481.2"/>
<use href="#my" x="183.1" y="482.6"/>
<use href="#my" x="183.4" y="484.7"/>
<use href="#my" x="183.4" y="487.1"/>
<use href="#my" x="192.9" y="460.1"/>
<use href="#my" x="192.9" y="461.1"/>
<use href="#my" x="192.7" y="462.4"/>
<use href="#my" x="192.7" y="463.9"/>
<use href="#my" x="192.6" y="464.9"/>
<use href="#my" x="192.8" y="465.9"/>
<use href="#my" x="192.6" y="467.4"/>
<use href="#my" x="192.8" y="468.6"/>
<use href="#my" x="192.8" y="469.9"/>
<use href="#my" x="192.6" y="471.2"/>
<use href="#my" x="192.8" y="472.1"/>
<use href="#my" x="192.9" y="473.2"/>
<use href="#my" x="193.0" y="474.2"/>
<use href="#my" x="192.6" y="475.3"/>
<use href="#my" x="192.7" y="476.5"/>
<use href="#my" x="192.9" y="477.7"/>
<use href="#my" x="192.9" y="478.7"/>
<use href="#my" x="192.8" y="480.2"/>
<use href="#my" x="193.0" y="481.4"/>
<use href="#my" x="192.6" y="482.8"/>
<use href="#my" x="193.5" y="460.1"/>
<use href="#my" x="193.5" y="461.2"/>
<use href="#my" x="193.7" y="462.6"/>
<use href="#my" x="193.7" y="463.7"/>
<use href="#my" x="193.6" y="465.3"/>
<use href="#my" x="193.6" y="466.3"/>
<use href="#my" x="193.9" y="467.4"/>
<use href="#my" x="193.7" y="468.8"/>
<use href="#my" x="193.5" y="469.8"/>
<use href="#my" x="193.9" y="470.7"/>
<use href="#my" x="193.5" y="472.1"/>
<use href="#my" x="193.5" y="473.5"/>
<use href="#my" x="193.6" y="474.7"/>
<use href="#my" x="193.8" y="475.7"/>
<use href="#my" x="193.7" y="477.1"/>
<use href="#my" x="193.8" y="478.1"/>
<use href="#my" x="193.8" y="479.3"/>
<use href="#my" x="193.9" y="480.2"/>
<use href="#my" x="193.6" y="481.1"/>
<use href="#my" x="193.5" y="482.3"/>
<use href="#my" x="193.8" y="483.2"/>
<use href="#my" x="194.5" y="460.1"/>
<use href="#my" x="194.7" y="461.2"/>
<use href="#my" x="194.6" y="462.2"/>
<use href="#my" x="194.6" y="463.6"/>
<use href="#my" x="194.4" y="464.6"/>
<use href="#my" x="194.8" y="465.9"/>
<use href="#my" x="194.4" y="467.4"/>
<use href="#my" x="194.6" y="468.7"/>
<use href="#my" x="194.7" y="469.7"/>
<use href="#my" x="194.8" y="471.0"/>
<use href="#my" x="194.8" y="472.1"/>
<use href="#my" x="194.6" y="473.5"/>
<use href="#my" x="194.6" y="474.5"/>
<use href="#my" x="194.7" y="475.5"/>
<use href="#my" x="194.6" y="476.9"/>
<use href="#my" x="194.4" y="478.5"/>
<use href="#my" x="194.8" y="479.9"/>
<use href="#my" x="194.5" y="480.9"/>
<use href="#my" x="194.6" y="481.8"/>
<use href="#my" x="194.5" y="483.2"/>
<use href="#my" x="194.0" y="454.5"/>
<use href="#my" x="194.0" y="456.8"/>
<text x="184.25" y="575.70" font-size="11.4" fill="#2e2e2e" text-anchor="middle">Mean monthly outdoor air temperature (°C)</text>
<text transform="translate(11.00,488.90) rotate(-90)" font-size="11.4" fill="#2e2e2e" text-anchor="middle">Indoor operative temperature</text>
<text transform="translate(23.50,488.90) rotate(-90)" font-size="11.4" fill="#2e2e2e" text-anchor="middle">(°C)</text>
<text x="517" y="409.00" font-size="13.25" fill="#2a2a2a" text-anchor="middle"><tspan font-weight="bold">(f)</tspan> Bisoi- Conventional</text>
<text x="396.50" y="548.50" font-size="10" fill="#2e2e2e" text-anchor="end">5</text>
<text x="396.50" y="529.59" font-size="10" fill="#2e2e2e" text-anchor="end">10</text>
<text x="396.50" y="510.67" font-size="10" fill="#2e2e2e" text-anchor="end">15</text>
<text x="396.50" y="491.76" font-size="10" fill="#2e2e2e" text-anchor="end">20</text>
<text x="396.50" y="472.84" font-size="10" fill="#2e2e2e" text-anchor="end">25</text>
<text x="396.50" y="453.93" font-size="10" fill="#2e2e2e" text-anchor="end">30</text>
<text x="396.50" y="435.01" font-size="10" fill="#2e2e2e" text-anchor="end">35</text>
<text x="396.50" y="416.10" font-size="10" fill="#2e2e2e" text-anchor="end">40</text>
<text x="404.50" y="560.00" font-size="10" fill="#2e2e2e" text-anchor="middle">5</text>
<text x="450.08" y="560.00" font-size="10" fill="#2e2e2e" text-anchor="middle">10</text>
<text x="495.67" y="560.00" font-size="10" fill="#2e2e2e" text-anchor="middle">15</text>
<text x="541.25" y="560.00" font-size="10" fill="#2e2e2e" text-anchor="middle">20</text>
<text x="586.83" y="560.00" font-size="10" fill="#2e2e2e" text-anchor="middle">25</text>
<text x="632.42" y="560.00" font-size="10" fill="#2e2e2e" text-anchor="middle">30</text>
<text x="678.00" y="560.00" font-size="10" fill="#2e2e2e" text-anchor="middle">35</text>
<path d="M404.50 413.10V545.50H678.00" fill="none" stroke="#bfbfbf" stroke-width="1"/>
<line x1="449.63" y1="472.17" x2="669.61" y2="443.87" stroke="#444" stroke-width="1.2" stroke-dasharray="3.2 1.54"/>
<line x1="449.63" y1="498.65" x2="669.61" y2="470.35" stroke="#444" stroke-width="1.2" stroke-dasharray="3.2 1.54"/>
<use href="#mb" x="418.7" y="511.6"/>
<use href="#mb" x="418.6" y="513.3"/>
<use href="#mb" x="418.7" y="515.2"/>
<use href="#mb" x="418.5" y="516.3"/>
<use href="#mb" x="418.9" y="518.0"/>
<use href="#mb" x="418.6" y="519.6"/>
<use href="#mb" x="418.9" y="521.4"/>
<use href="#mb" x="418.7" y="522.6"/>
<use href="#mb" x="418.5" y="524.2"/>
<use href="#mb" x="418.7" y="525.3"/>
<use href="#mb" x="419.0" y="527.2"/>
<use href="#mb" x="419.0" y="528.5"/>
<use href="#mb" x="430.4" y="505.4"/>
<use href="#mb" x="430.4" y="507.0"/>
<use href="#mb" x="430.4" y="508.6"/>
<use href="#mb" x="430.0" y="510.2"/>
<use href="#mb" x="430.2" y="511.7"/>
<use href="#mb" x="430.1" y="513.0"/>
<use href="#mb" x="430.2" y="514.5"/>
<use href="#mb" x="430.1" y="515.8"/>
<use href="#mb" x="430.2" y="517.3"/>
<use href="#mb" x="430.3" y="518.7"/>
<use href="#mb" x="430.2" y="519.9"/>
<use href="#mb" x="430.3" y="521.2"/>
<use href="#mb" x="430.3" y="522.9"/>
<use href="#mb" x="464.0" y="491.4"/>
<use href="#mb" x="464.2" y="493.3"/>
<use href="#mb" x="464.0" y="494.7"/>
<use href="#mb" x="464.3" y="496.1"/>
<use href="#mb" x="464.1" y="497.9"/>
<use href="#mb" x="464.0" y="499.6"/>
<use href="#mb" x="464.1" y="501.0"/>
<use href="#mb" x="464.1" y="502.4"/>
<use href="#mb" x="464.3" y="504.1"/>
<use href="#mb" x="464.0" y="505.3"/>
<use href="#mb" x="464.2" y="507.1"/>
<use href="#mb" x="464.2" y="508.7"/>
<use href="#mb" x="494.1" y="480.1"/>
<use href="#mb" x="494.1" y="481.2"/>
<use href="#mb" x="494.4" y="482.3"/>
<use href="#mb" x="494.3" y="483.8"/>
<use href="#mb" x="494.4" y="485.7"/>
<use href="#mb" x="494.1" y="487.0"/>
<use href="#mb" x="494.3" y="488.1"/>
<use href="#mb" x="494.2" y="489.8"/>
<use href="#mb" x="494.1" y="491.2"/>
<use href="#mb" x="494.3" y="492.7"/>
<use href="#mb" x="494.4" y="494.6"/>
<use href="#mb" x="494.2" y="496.4"/>
<use href="#mb" x="494.1" y="497.8"/>
<use href="#mb" x="494.0" y="499.8"/>
<use href="#mb" x="494.1" y="500.9"/>
<use href="#mb" x="494.4" y="502.8"/>
<use href="#mb" x="494.4" y="504.2"/>
<use href="#mb" x="494.2" y="506.0"/>
<use href="#mb" x="494.3" y="507.3"/>
<use href="#mb" x="494.0" y="508.6"/>
<use href="#mb" x="510.8" y="474.9"/>
<use href="#mb" x="510.8" y="476.3"/>
<use href="#mb" x="510.6" y="477.6"/>
<use href="#mb" x="510.7" y="479.0"/>
<use href="#mb" x="510.7" y="480.0"/>
<use href="#mb" x="510.7" y="481.8"/>
<use href="#mb" x="510.9" y="483.4"/>
<use href="#mb" x="510.6" y="484.7"/>
<use href="#mb" x="510.9" y="486.3"/>
<use href="#mb" x="510.7" y="487.6"/>
<use href="#mb" x="511.0" y="489.5"/>
<use href="#mb" x="510.8" y="490.7"/>
<use href="#mb" x="510.7" y="492.3"/>
<use href="#mb" x="510.7" y="493.4"/>
<use href="#mb" x="534.9" y="467.1"/>
<use href="#mb" x="534.6" y="468.6"/>
<use href="#mb" x="534.7" y="469.9"/>
<use href="#mb" x="534.7" y="471.3"/>
<use href="#mb" x="534.6" y="473.1"/>
<use href="#mb" x="534.7" y="475.1"/>
<use href="#mb" x="534.7" y="476.9"/>
<use href="#mb" x="534.7" y="478.5"/>
<use href="#mb" x="534.9" y="479.6"/>
<use href="#mb" x="534.7" y="481.3"/>
<use href="#mb" x="534.8" y="483.1"/>
<use href="#mb" x="534.6" y="485.0"/>
<use href="#mb" x="534.7" y="486.4"/>
<use href="#mb" x="534.9" y="488.0"/>
<use href="#mb" x="534.8" y="489.8"/>
<use href="#mb" x="545.9" y="471.1"/>
<use href="#mb" x="545.6" y="472.2"/>
<use href="#mb" x="545.7" y="474.0"/>
<use href="#mb" x="545.5" y="475.9"/>
<use href="#mb" x="545.6" y="477.4"/>
<use href="#mb" x="545.5" y="478.4"/>
<use href="#mb" x="545.7" y="479.6"/>
<use href="#mb" x="545.8" y="481.0"/>
<use href="#mb" x="545.9" y="482.3"/>
<use href="#mb" x="546.0" y="483.8"/>
<use href="#mb" x="545.8" y="485.0"/>
<use href="#mb" x="545.7" y="486.5"/>
<use href="#mb" x="545.6" y="488.4"/>
<use href="#mb" x="553.4" y="459.5"/>
<use href="#mb" x="553.6" y="460.9"/>
<use href="#mb" x="553.4" y="462.4"/>
<use href="#mb" x="553.7" y="463.5"/>
<use href="#mb" x="553.3" y="464.9"/>
<use href="#mb" x="553.5" y="466.6"/>
<use href="#mb" x="553.4" y="467.9"/>
<use href="#mb" x="553.4" y="469.7"/>
<use href="#mb" x="553.7" y="471.1"/>
<use href="#mb" x="553.5" y="472.5"/>
<use href="#mb" x="553.6" y="473.7"/>
<use href="#mb" x="553.5" y="475.4"/>
<use href="#mb" x="553.4" y="476.8"/>
<use href="#mb" x="553.5" y="478.5"/>
<use href="#mb" x="553.4" y="480.3"/>
<use href="#mb" x="553.3" y="482.0"/>
<use href="#mb" x="553.7" y="483.3"/>
<use href="#mb" x="553.6" y="485.0"/>
<use href="#mb" x="553.5" y="486.5"/>
<use href="#mb" x="553.3" y="487.7"/>
<use href="#mb" x="562.5" y="455.7"/>
<use href="#mb" x="562.5" y="457.0"/>
<use href="#mb" x="562.5" y="458.2"/>
<use href="#mb" x="562.5" y="459.4"/>
<use href="#mb" x="562.5" y="460.7"/>
<use href="#mb" x="562.4" y="461.9"/>
<use href="#mb" x="562.3" y="463.5"/>
<use href="#mb" x="562.5" y="464.8"/>
<use href="#mb" x="562.5" y="466.3"/>
<use href="#mb" x="562.5" y="468.1"/>
<use href="#mb" x="562.4" y="469.3"/>
<use href="#mb" x="562.5" y="471.1"/>
<use href="#mb" x="562.4" y="472.9"/>
<use href="#mb" x="562.7" y="474.3"/>
<use href="#mb" x="562.5" y="476.1"/>
<use href="#mb" x="562.5" y="477.3"/>
<use href="#mb" x="562.7" y="478.3"/>
<use href="#mb" x="562.6" y="480.3"/>
<use href="#mb" x="562.6" y="481.5"/>
<use href="#mb" x="562.6" y="482.8"/>
<use href="#mb" x="562.2" y="484.3"/>
<use href="#sb" x="418.7" y="507.5"/>
<use href="#mo" x="436.2" y="501.3"/>
<use href="#mo" x="436.3" y="503.7"/>
<use href="#mo" x="436.4" y="505.7"/>
<use href="#mo" x="436.4" y="507.4"/>
<use href="#mo" x="436.0" y="509.2"/>
<use href="#mo" x="436.0" y="511.0"/>
<use href="#mo" x="436.3" y="512.5"/>
<use href="#mo" x="436.1" y="514.0"/>
<use href="#mo" x="436.1" y="515.8"/>
<use href="#mo" x="436.5" y="518.3"/>
<use href="#mo" x="436.5" y="520.7"/>
<use href="#mo" x="436.4" y="522.6"/>
<use href="#mo" x="436.5" y="524.4"/>
<use href="#mo" x="436.4" y="526.8"/>
<use href="#mo" x="436.0" y="528.4"/>
<use href="#mo" x="441.5" y="502.7"/>
<use href="#mo" x="441.6" y="504.0"/>
<use href="#mo" x="441.5" y="505.0"/>
<use href="#mo" x="441.6" y="506.2"/>
<use href="#mo" x="441.3" y="507.5"/>
<use href="#mo" x="441.3" y="509.0"/>
<use href="#mo" x="441.6" y="510.5"/>
<use href="#mo" x="441.5" y="511.5"/>
<use href="#mo" x="441.3" y="512.7"/>
<use href="#mo" x="441.7" y="513.8"/>
<use href="#mo" x="441.5" y="514.9"/>
<use href="#mo" x="441.2" y="516.2"/>
<use href="#mo" x="441.6" y="517.6"/>
<use href="#mo" x="441.4" y="519.1"/>
<use href="#mo" x="441.4" y="520.2"/>
<use href="#mo" x="441.5" y="521.6"/>
<use href="#mo" x="441.5" y="522.8"/>
<use href="#mo" x="441.7" y="523.8"/>
<use href="#mo" x="453.6" y="497.3"/>
<use href="#mo" x="453.4" y="498.8"/>
<use href="#mo" x="453.5" y="500.2"/>
<use href="#mo" x="453.4" y="501.7"/>
<use href="#mo" x="453.7" y="502.7"/>
<use href="#mo" x="453.5" y="504.0"/>
<use href="#mo" x="453.5" y="505.3"/>
<use href="#mo" x="453.4" y="506.5"/>
<use href="#mo" x="453.5" y="508.0"/>
<use href="#mo" x="453.6" y="509.5"/>
<use href="#mo" x="453.7" y="510.8"/>
<use href="#mo" x="453.7" y="511.8"/>
<use href="#mo" x="453.8" y="512.9"/>
<use href="#mo" x="453.7" y="514.3"/>
<use href="#mo" x="453.6" y="515.8"/>
<use href="#mo" x="453.8" y="517.2"/>
<use href="#mo" x="453.4" y="518.2"/>
<use href="#mo" x="453.6" y="519.4"/>
<use href="#mo" x="453.5" y="520.4"/>
<use href="#mo" x="453.5" y="521.9"/>
<use href="#mo" x="477.2" y="485.6"/>
<use href="#mo" x="477.2" y="487.2"/>
<use href="#mo" x="477.4" y="488.6"/>
<use href="#mo" x="477.4" y="490.1"/>
<use href="#mo" x="477.2" y="491.9"/>
<use href="#mo" x="477.2" y="493.8"/>
<use href="#mo" x="477.5" y="494.9"/>
<use href="#mo" x="477.4" y="496.4"/>
<use href="#mo" x="477.5" y="497.7"/>
<use href="#mo" x="477.5" y="499.0"/>
<use href="#mo" x="477.4" y="500.3"/>
<use href="#mo" x="477.3" y="501.9"/>
<use href="#mo" x="477.2" y="503.4"/>
<use href="#mo" x="478.6" y="485.6"/>
<use href="#mo" x="478.5" y="486.8"/>
<use href="#mo" x="478.3" y="488.5"/>
<use href="#mo" x="478.7" y="490.3"/>
<use href="#mo" x="478.4" y="491.4"/>
<use href="#mo" x="478.4" y="492.5"/>
<use href="#mo" x="478.5" y="493.7"/>
<use href="#mo" x="478.4" y="494.9"/>
<use href="#mo" x="478.4" y="496.4"/>
<use href="#mo" x="478.6" y="498.2"/>
<use href="#mo" x="478.4" y="499.3"/>
<use href="#mo" x="478.4" y="500.4"/>
<use href="#mo" x="478.6" y="501.5"/>
<use href="#mo" x="478.7" y="503.3"/>
<use href="#mo" x="477.5" y="506.1"/>
<use href="#mo" x="477.7" y="508.6"/>
<use href="#mo" x="477.6" y="511.2"/>
<use href="#mo" x="505.9" y="475.9"/>
<use href="#mo" x="506.2" y="477.5"/>
<use href="#mo" x="506.1" y="478.7"/>
<use href="#mo" x="506.3" y="480.1"/>
<use href="#mo" x="506.0" y="481.4"/>
<use href="#mo" x="506.3" y="482.6"/>
<use href="#mo" x="506.2" y="483.7"/>
<use href="#mo" x="506.1" y="485.0"/>
<use href="#mo" x="506.0" y="486.3"/>
<use href="#mo" x="506.3" y="487.6"/>
<use href="#mo" x="506.1" y="488.6"/>
<use href="#mo" x="506.4" y="490.1"/>
<use href="#mo" x="506.2" y="491.0"/>
<use href="#mo" x="506.3" y="492.3"/>
<use href="#mo" x="518.1" y="471.1"/>
<use href="#mo" x="518.4" y="472.4"/>
<use href="#mo" x="518.2" y="474.1"/>
<use href="#mo" x="518.4" y="475.8"/>
<use href="#mo" x="518.1" y="477.4"/>
<use href="#mo" x="518.2" y="478.8"/>
<use href="#mo" x="518.2" y="480.4"/>
<use href="#mo" x="518.4" y="481.6"/>
<use href="#mo" x="518.4" y="482.9"/>
<use href="#mo" x="518.3" y="484.2"/>
<use href="#mo" x="518.1" y="486.0"/>
<use href="#mo" x="518.1" y="487.7"/>
<use href="#mo" x="518.1" y="489.6"/>
<use href="#mo" x="518.2" y="491.3"/>
<use href="#mo" x="518.2" y="492.5"/>
<use href="#mo" x="519.5" y="471.1"/>
<use href="#mo" x="519.5" y="472.3"/>
<use href="#mo" x="519.7" y="473.6"/>
<use href="#mo" x="519.5" y="475.0"/>
<use href="#mo" x="519.7" y="476.2"/>
<use href="#mo" x="519.6" y="477.6"/>
<use href="#mo" x="519.4" y="479.4"/>
<use href="#mo" x="519.4" y="481.1"/>
<use href="#mo" x="519.3" y="482.2"/>
<use href="#mo" x="519.7" y="483.7"/>
<use href="#mo" x="519.5" y="484.9"/>
<use href="#mo" x="519.4" y="486.7"/>
<use href="#mo" x="519.5" y="487.9"/>
<use href="#mo" x="519.7" y="489.3"/>
<use href="#mo" x="519.4" y="491.1"/>
<use href="#mo" x="519.5" y="492.7"/>
<use href="#mo" x="540.9" y="461.2"/>
<use href="#mo" x="540.9" y="462.8"/>
<use href="#mo" x="541.1" y="464.1"/>
<use href="#mo" x="541.2" y="465.0"/>
<use href="#mo" x="540.9" y="466.0"/>
<use href="#mo" x="540.7" y="467.4"/>
<use href="#mo" x="540.8" y="468.5"/>
<use href="#mo" x="540.7" y="469.8"/>
<use href="#mo" x="540.8" y="470.7"/>
<use href="#mo" x="540.7" y="471.7"/>
<use href="#mo" x="541.0" y="472.7"/>
<use href="#mo" x="541.1" y="473.7"/>
<use href="#mo" x="540.8" y="474.9"/>
<use href="#mo" x="541.1" y="475.9"/>
<use href="#mo" x="541.1" y="476.8"/>
<use href="#mo" x="541.2" y="477.8"/>
<use href="#mo" x="541.0" y="479.0"/>
<use href="#mo" x="540.8" y="480.5"/>
<use href="#mo" x="541.0" y="481.4"/>
<use href="#mo" x="541.1" y="482.7"/>
<use href="#mo" x="540.9" y="483.8"/>
<use href="#mo" x="540.9" y="484.8"/>
<use href="#mo" x="541.0" y="485.9"/>
<use href="#mo" x="540.8" y="487.0"/>
<use href="#mo" x="540.7" y="488.4"/>
<use href="#mo" x="540.9" y="489.8"/>
<use href="#mo" x="478.5" y="481.5"/>
<use href="#mo" x="519.0" y="469.4"/>
<use href="#mo" x="519.0" y="499.5"/>
<use href="#mo" x="532.0" y="466.0"/>
<use href="#mo" x="529.0" y="496.9"/>
<use href="#mg" x="442.6" y="499.1"/>
<use href="#mg" x="442.8" y="500.4"/>
<use href="#mg" x="442.7" y="501.8"/>
<use href="#mg" x="443.0" y="503.0"/>
<use href="#mg" x="443.0" y="504.0"/>
<use href="#mg" x="443.0" y="505.6"/>
<use href="#mg" x="442.7" y="507.2"/>
<use href="#mg" x="442.9" y="508.6"/>
<use href="#mg" x="443.0" y="509.7"/>
<use href="#mg" x="443.0" y="511.0"/>
<use href="#mg" x="442.6" y="512.3"/>
<use href="#mg" x="442.6" y="513.9"/>
<use href="#mg" x="442.9" y="514.9"/>
<use href="#mg" x="442.8" y="515.9"/>
<use href="#mg" x="442.6" y="517.4"/>
<use href="#mg" x="442.6" y="518.7"/>
<use href="#mg" x="442.9" y="520.0"/>
<use href="#mg" x="442.6" y="521.3"/>
<use href="#mg" x="443.0" y="522.4"/>
<use href="#mg" x="442.8" y="523.5"/>
<use href="#mg" x="442.9" y="524.7"/>
<use href="#mg" x="442.9" y="526.1"/>
<use href="#mg" x="458.1" y="499.1"/>
<use href="#mg" x="457.9" y="500.4"/>
<use href="#mg" x="458.3" y="501.9"/>
<use href="#mg" x="458.3" y="503.4"/>
<use href="#mg" x="458.3" y="504.6"/>
<use href="#mg" x="458.2" y="505.7"/>
<use href="#mg" x="458.3" y="507.1"/>
<use href="#mg" x="458.3" y="508.6"/>
<use href="#mg" x="458.2" y="509.7"/>
<use href="#mg" x="458.0" y="510.9"/>
<use href="#mg" x="458.2" y="512.1"/>
<use href="#mg" x="481.7" y="482.1"/>
<use href="#mg" x="481.3" y="483.5"/>
<use href="#mg" x="481.5" y="484.5"/>
<use href="#mg" x="481.4" y="485.5"/>
<use href="#mg" x="481.3" y="486.5"/>
<use href="#mg" x="481.4" y="487.9"/>
<use href="#mg" x="481.4" y="489.4"/>
<use href="#mg" x="481.4" y="490.9"/>
<use href="#mg" x="481.4" y="492.0"/>
<use href="#mg" x="481.5" y="492.8"/>
<use href="#mg" x="481.3" y="494.0"/>
<use href="#mg" x="481.4" y="495.5"/>
<use href="#mg" x="481.7" y="496.4"/>
<use href="#mg" x="481.4" y="497.5"/>
<use href="#mg" x="481.3" y="498.3"/>
<use href="#mg" x="481.5" y="499.8"/>
<use href="#mg" x="481.4" y="501.0"/>
<use href="#mg" x="481.7" y="502.1"/>
<use href="#mg" x="481.7" y="503.3"/>
<use href="#mg" x="481.3" y="504.8"/>
<use href="#mg" x="481.3" y="506.3"/>
<use href="#mg" x="481.7" y="507.7"/>
<use href="#mg" x="481.5" y="509.1"/>
<use href="#mg" x="481.3" y="510.6"/>
<use href="#mg" x="481.4" y="511.9"/>
<use href="#mg" x="509.4" y="472.0"/>
<use href="#mg" x="509.6" y="473.4"/>
<use href="#mg" x="509.6" y="474.9"/>
<use href="#mg" x="509.8" y="476.2"/>
<use href="#mg" x="509.6" y="477.7"/>
<use href="#mg" x="509.8" y="478.8"/>
<use href="#mg" x="509.4" y="479.9"/>
<use href="#mg" x="509.7" y="481.1"/>
<use href="#mg" x="509.6" y="482.6"/>
<use href="#mg" x="509.8" y="484.0"/>
<use href="#mg" x="509.5" y="485.5"/>
<use href="#mg" x="509.7" y="486.7"/>
<use href="#mg" x="509.4" y="487.8"/>
<use href="#mg" x="509.7" y="489.2"/>
<use href="#mg" x="509.6" y="490.2"/>
<use href="#mg" x="509.4" y="491.8"/>
<use href="#mg" x="509.5" y="492.7"/>
<use href="#mg" x="509.8" y="493.9"/>
<use href="#mg" x="522.8" y="466.6"/>
<use href="#mg" x="522.9" y="468.1"/>
<use href="#mg" x="523.0" y="469.1"/>
<use href="#mg" x="522.6" y="470.1"/>
<use href="#mg" x="522.6" y="471.3"/>
<use href="#mg" x="522.8" y="472.5"/>
<use href="#mg" x="522.8" y="474.1"/>
<use href="#mg" x="522.9" y="475.6"/>
<use href="#mg" x="522.7" y="476.9"/>
<use href="#mg" x="522.8" y="478.1"/>
<use href="#mg" x="522.9" y="479.2"/>
<use href="#mg" x="522.7" y="480.5"/>
<use href="#mg" x="523.0" y="481.8"/>
<use href="#mg" x="522.7" y="482.8"/>
<use href="#mg" x="522.6" y="483.7"/>
<use href="#mg" x="522.8" y="484.6"/>
<use href="#mg" x="522.9" y="486.1"/>
<use href="#mg" x="523.0" y="487.7"/>
<use href="#mg" x="522.8" y="489.1"/>
<use href="#mg" x="522.7" y="489.9"/>
<use href="#mg" x="522.9" y="491.0"/>
<use href="#mg" x="522.8" y="491.9"/>
<use href="#mg" x="522.8" y="493.1"/>
<use href="#mg" x="522.6" y="494.3"/>
<use href="#mg" x="523.0" y="495.7"/>
<use href="#mg" x="531.9" y="467.6"/>
<use href="#mg" x="532.3" y="468.9"/>
<use href="#mg" x="532.2" y="470.5"/>
<use href="#mg" x="532.3" y="471.4"/>
<use href="#mg" x="532.0" y="472.8"/>
<use href="#mg" x="532.3" y="474.4"/>
<use href="#mg" x="532.0" y="475.9"/>
<use href="#mg" x="532.0" y="477.2"/>
<use href="#mg" x="532.2" y="478.3"/>
<use href="#mg" x="532.0" y="479.7"/>
<use href="#mg" x="532.3" y="481.0"/>
<use href="#mg" x="532.3" y="482.3"/>
<use href="#mg" x="532.3" y="483.6"/>
<use href="#mg" x="532.1" y="484.5"/>
<use href="#mg" x="532.2" y="485.7"/>
<use href="#mg" x="532.2" y="487.3"/>
<use href="#mg" x="532.2" y="488.6"/>
<use href="#mg" x="532.2" y="489.9"/>
<use href="#mg" x="531.9" y="491.4"/>
<use href="#mg" x="544.4" y="459.1"/>
<use href="#mg" x="544.3" y="460.0"/>
<use href="#mg" x="544.3" y="460.9"/>
<use href="#mg" x="544.1" y="462.4"/>
<use href="#mg" x="544.1" y="463.6"/>
<use href="#mg" x="544.2" y="465.0"/>
<use href="#mg" x="544.1" y="466.3"/>
<use href="#mg" x="544.4" y="467.6"/>
<use href="#mg" x="544.4" y="469.1"/>
<use href="#mg" x="544.2" y="470.1"/>
<use href="#mg" x="544.1" y="471.3"/>
<use href="#mg" x="544.0" y="472.8"/>
<use href="#mg" x="544.3" y="474.1"/>
<use href="#mg" x="544.0" y="475.6"/>
<use href="#mg" x="544.2" y="476.7"/>
<use href="#mg" x="544.0" y="478.3"/>
<use href="#mg" x="544.1" y="479.8"/>
<use href="#mg" x="544.4" y="481.1"/>
<use href="#mg" x="544.1" y="482.0"/>
<use href="#mg" x="544.0" y="483.0"/>
<use href="#mg" x="544.3" y="484.1"/>
<use href="#mg" x="544.0" y="485.4"/>
<use href="#mg" x="544.2" y="486.9"/>
<use href="#mg" x="544.4" y="487.9"/>
<use href="#mg" x="545.2" y="459.1"/>
<use href="#mg" x="545.5" y="460.7"/>
<use href="#mg" x="545.1" y="461.7"/>
<use href="#mg" x="545.5" y="463.3"/>
<use href="#mg" x="545.4" y="464.2"/>
<use href="#mg" x="545.4" y="465.7"/>
<use href="#mg" x="545.5" y="467.2"/>
<use href="#mg" x="545.5" y="468.3"/>
<use href="#mg" x="545.2" y="469.8"/>
<use href="#mg" x="545.4" y="471.2"/>
<use href="#mg" x="545.3" y="472.7"/>
<use href="#mg" x="545.2" y="473.8"/>
<use href="#mg" x="545.1" y="475.1"/>
<use href="#mg" x="545.5" y="476.6"/>
<use href="#mg" x="545.4" y="477.7"/>
<use href="#mg" x="545.1" y="479.1"/>
<use href="#mg" x="545.4" y="480.5"/>
<use href="#mg" x="545.1" y="481.6"/>
<use href="#mg" x="545.4" y="482.7"/>
<use href="#mg" x="545.5" y="483.9"/>
<use href="#mg" x="545.1" y="484.9"/>
<use href="#mg" x="545.5" y="486.1"/>
<use href="#mg" x="545.1" y="487.1"/>
<use href="#mg" x="546.2" y="459.1"/>
<use href="#mg" x="546.2" y="460.5"/>
<use href="#mg" x="546.5" y="461.5"/>
<use href="#mg" x="546.4" y="463.1"/>
<use href="#mg" x="546.2" y="464.3"/>
<use href="#mg" x="546.3" y="465.4"/>
<use href="#mg" x="546.5" y="466.9"/>
<use href="#mg" x="546.4" y="468.3"/>
<use href="#mg" x="546.2" y="469.7"/>
<use href="#mg" x="546.3" y="470.9"/>
<use href="#mg" x="546.5" y="472.0"/>
<use href="#mg" x="546.3" y="473.0"/>
<use href="#mg" x="546.6" y="474.1"/>
<use href="#mg" x="546.4" y="475.5"/>
<use href="#mg" x="546.6" y="476.6"/>
<use href="#mg" x="546.4" y="478.2"/>
<use href="#mg" x="546.6" y="479.5"/>
<use href="#mg" x="546.3" y="480.6"/>
<use href="#mg" x="546.4" y="481.5"/>
<use href="#mg" x="546.2" y="483.0"/>
<use href="#mg" x="546.6" y="484.2"/>
<use href="#mg" x="546.3" y="485.4"/>
<use href="#mg" x="546.6" y="486.9"/>
<use href="#mg" x="546.2" y="488.1"/>
<use href="#mg" x="509.5" y="497.5"/>
<use href="#mg" x="509.5" y="500.4"/>
<use href="#mg" x="522.5" y="501.7"/>
<use href="#mg" x="545.0" y="455.3"/>
<use href="#mg" x="545.0" y="492.0"/>
<use href="#my" x="446.1" y="497.7"/>
<use href="#my" x="446.0" y="499.3"/>
<use href="#my" x="446.0" y="500.4"/>
<use href="#my" x="445.9" y="501.5"/>
<use href="#my" x="446.2" y="502.7"/>
<use href="#my" x="446.2" y="504.2"/>
<use href="#my" x="446.2" y="505.5"/>
<use href="#my" x="446.2" y="506.5"/>
<use href="#my" x="446.1" y="507.8"/>
<use href="#my" x="446.2" y="509.0"/>
<use href="#my" x="446.1" y="509.9"/>
<use href="#my" x="445.9" y="511.4"/>
<use href="#my" x="445.8" y="512.9"/>
<use href="#my" x="445.9" y="514.3"/>
<use href="#my" x="445.8" y="515.5"/>
<use href="#my" x="446.1" y="517.0"/>
<use href="#my" x="446.2" y="517.9"/>
<use href="#my" x="445.9" y="519.0"/>
<use href="#my" x="446.0" y="520.1"/>
<use href="#my" x="446.2" y="521.7"/>
<use href="#my" x="445.9" y="523.0"/>
<use href="#my" x="445.7" y="524.0"/>
<use href="#my" x="446.0" y="525.3"/>
<use href="#my" x="446.2" y="526.5"/>
<use href="#my" x="449.7" y="499.1"/>
<use href="#my" x="449.6" y="500.3"/>
<use href="#my" x="449.8" y="501.9"/>
<use href="#my" x="449.8" y="503.1"/>
<use href="#my" x="449.7" y="504.2"/>
<use href="#my" x="449.8" y="505.5"/>
<use href="#my" x="449.8" y="510.6"/>
<use href="#my" x="449.6" y="511.6"/>
<use href="#my" x="449.7" y="512.6"/>
<use href="#my" x="450.0" y="514.1"/>
<use href="#my" x="449.9" y="515.1"/>
<use href="#my" x="449.8" y="516.3"/>
<use href="#my" x="449.6" y="517.6"/>
<use href="#my" x="449.9" y="518.5"/>
<use href="#my" x="449.7" y="519.9"/>
<use href="#my" x="450.0" y="521.5"/>
<use href="#my" x="461.0" y="494.6"/>
<use href="#my" x="461.3" y="495.9"/>
<use href="#my" x="461.0" y="496.9"/>
<use href="#my" x="461.0" y="498.2"/>
<use href="#my" x="461.3" y="499.6"/>
<use href="#my" x="461.2" y="500.7"/>
<use href="#my" x="461.1" y="501.7"/>
<use href="#my" x="461.4" y="502.7"/>
<use href="#my" x="461.4" y="504.0"/>
<use href="#my" x="461.4" y="505.1"/>
<use href="#my" x="461.3" y="506.4"/>
<use href="#my" x="461.3" y="507.6"/>
<use href="#my" x="461.5" y="508.6"/>
<use href="#my" x="461.3" y="510.0"/>
<use href="#my" x="461.1" y="511.3"/>
<use href="#my" x="461.1" y="512.5"/>
<use href="#my" x="461.0" y="514.0"/>
<use href="#my" x="461.4" y="515.2"/>
<use href="#my" x="461.4" y="516.6"/>
<use href="#my" x="483.8" y="484.5"/>
<use href="#my" x="483.8" y="485.9"/>
<use href="#my" x="483.9" y="487.3"/>
<use href="#my" x="484.0" y="488.8"/>
<use href="#my" x="484.2" y="490.3"/>
<use href="#my" x="484.2" y="491.4"/>
<use href="#my" x="484.1" y="492.3"/>
<use href="#my" x="484.0" y="493.2"/>
<use href="#my" x="484.1" y="494.4"/>
<use href="#my" x="483.8" y="495.5"/>
<use href="#my" x="484.0" y="496.9"/>
<use href="#my" x="483.9" y="498.4"/>
<use href="#my" x="484.1" y="499.3"/>
<use href="#my" x="483.9" y="500.3"/>
<use href="#my" x="487.5" y="478.6"/>
<use href="#my" x="487.7" y="480.0"/>
<use href="#my" x="487.6" y="481.3"/>
<use href="#my" x="487.7" y="482.8"/>
<use href="#my" x="487.6" y="483.8"/>
<use href="#my" x="487.7" y="485.1"/>
<use href="#my" x="487.5" y="486.1"/>
<use href="#my" x="487.4" y="487.3"/>
<use href="#my" x="487.7" y="488.4"/>
<use href="#my" x="487.4" y="489.7"/>
<use href="#my" x="487.4" y="491.1"/>
<use href="#my" x="487.4" y="492.6"/>
<use href="#my" x="487.5" y="493.5"/>
<use href="#my" x="487.5" y="494.8"/>
<use href="#my" x="487.8" y="496.3"/>
<use href="#my" x="487.7" y="497.4"/>
<use href="#my" x="487.6" y="498.8"/>
<use href="#my" x="487.8" y="499.9"/>
<use href="#my" x="487.4" y="501.5"/>
<use href="#my" x="487.5" y="502.6"/>
<use href="#my" x="487.6" y="503.6"/>
<use href="#my" x="487.4" y="505.2"/>
<use href="#my" x="487.5" y="506.7"/>
<use href="#my" x="487.8" y="507.5"/>
<use href="#my" x="487.5" y="508.6"/>
<use href="#my" x="487.5" y="509.6"/>
<use href="#my" x="487.4" y="510.5"/>
<use href="#my" x="487.6" y="511.6"/>
<use href="#my" x="513.4" y="471.0"/>
<use href="#my" x="513.6" y="472.3"/>
<use href="#my" x="513.4" y="473.7"/>
<use href="#my" x="513.6" y="475.3"/>
<use href="#my" x="513.5" y="476.5"/>
<use href="#my" x="513.3" y="477.7"/>
<use href="#my" x="513.6" y="479.2"/>
<use href="#my" x="513.7" y="480.2"/>
<use href="#my" x="513.3" y="481.7"/>
<use href="#my" x="513.4" y="483.1"/>
<use href="#my" x="513.7" y="484.4"/>
<use href="#my" x="513.5" y="485.5"/>
<use href="#my" x="513.3" y="486.9"/>
<use href="#my" x="513.5" y="488.2"/>
<use href="#my" x="513.3" y="489.8"/>
<use href="#my" x="528.0" y="469.0"/>
<use href="#my" x="528.0" y="470.1"/>
<use href="#my" x="528.2" y="471.1"/>
<use href="#my" x="528.3" y="472.1"/>
<use href="#my" x="528.3" y="473.0"/>
<use href="#my" x="528.0" y="474.5"/>
<use href="#my" x="528.3" y="475.6"/>
<use href="#my" x="528.4" y="476.8"/>
<use href="#my" x="528.1" y="477.9"/>
<use href="#my" x="528.1" y="479.5"/>
<use href="#my" x="528.4" y="481.1"/>
<use href="#my" x="528.2" y="482.2"/>
<use href="#my" x="528.0" y="483.7"/>
<use href="#my" x="528.3" y="485.2"/>
<use href="#my" x="528.3" y="486.7"/>
<use href="#my" x="528.4" y="487.6"/>
<use href="#my" x="528.3" y="488.6"/>
<use href="#my" x="528.1" y="490.0"/>
<use href="#my" x="536.0" y="467.6"/>
<use href="#my" x="535.8" y="469.0"/>
<use href="#my" x="536.0" y="470.6"/>
<use href="#my" x="536.0" y="472.1"/>
<use href="#my" x="536.0" y="473.6"/>
<use href="#my" x="535.8" y="474.9"/>
<use href="#my" x="535.8" y="476.1"/>
<use href="#my" x="536.1" y="477.6"/>
<use href="#my" x="536.3" y="478.8"/>
<use href="#my" x="536.3" y="480.4"/>
<use href="#my" x="536.2" y="481.3"/>
<use href="#my" x="536.1" y="482.8"/>
<use href="#my" x="536.3" y="483.6"/>
<use href="#my" x="536.1" y="484.8"/>
<use href="#my" x="535.9" y="486.3"/>
<use href="#my" x="536.3" y="487.2"/>
<use href="#my" x="535.8" y="488.3"/>
<use href="#my" x="536.3" y="489.3"/>
<use href="#my" x="535.9" y="490.7"/>
<use href="#my" x="540.1" y="460.2"/>
<use href="#my" x="540.0" y="461.6"/>
<use href="#my" x="539.9" y="462.5"/>
<use href="#my" x="539.7" y="464.1"/>
<use href="#my" x="539.7" y="465.3"/>
<use href="#my" x="539.8" y="466.9"/>
<use href="#my" x="540.1" y="468.5"/>
<use href="#my" x="539.7" y="470.0"/>
<use href="#my" x="539.9" y="471.4"/>
<use href="#my" x="539.8" y="472.6"/>
<use href="#my" x="540.1" y="473.9"/>
<use href="#my" x="540.1" y="474.8"/>
<use href="#my" x="539.8" y="476.0"/>
<use href="#my" x="539.9" y="477.1"/>
<use href="#my" x="540.0" y="478.4"/>
<use href="#my" x="540.0" y="480.0"/>
<use href="#my" x="540.2" y="481.2"/>
<use href="#my" x="539.7" y="482.3"/>
<use href="#my" x="539.9" y="483.4"/>
<use href="#my" x="539.9" y="484.4"/>
<use href="#my" x="540.2" y="485.3"/>
<use href="#my" x="540.1" y="486.5"/>
<use href="#my" x="540.1" y="487.9"/>
<use href="#my" x="539.9" y="489.3"/>
<use href="#my" x="539.8" y="490.8"/>
<use href="#my" x="540.0" y="492.1"/>
<use href="#my" x="549.2" y="459.1"/>
<use href="#my" x="549.6" y="460.2"/>
<use href="#my" x="549.6" y="461.7"/>
<use href="#my" x="549.3" y="462.7"/>
<use href="#my" x="549.5" y="463.6"/>
<use href="#my" x="549.5" y="465.1"/>
<use href="#my" x="549.4" y="466.5"/>
<use href="#my" x="549.6" y="467.8"/>
<use href="#my" x="549.5" y="469.2"/>
<use href="#my" x="549.4" y="470.5"/>
<use href="#my" x="549.4" y="471.9"/>
<use href="#my" x="549.4" y="472.9"/>
<use href="#my" x="549.4" y="474.1"/>
<use href="#my" x="549.3" y="475.4"/>
<use href="#my" x="549.4" y="476.6"/>
<use href="#my" x="549.6" y="477.7"/>
<use href="#my" x="549.2" y="478.7"/>
<use href="#my" x="549.3" y="480.1"/>
<use href="#my" x="549.4" y="481.3"/>
<use href="#my" x="549.3" y="482.4"/>
<use href="#my" x="549.6" y="483.3"/>
<use href="#my" x="549.3" y="484.9"/>
<use href="#my" x="549.3" y="486.1"/>
<use href="#my" x="550.7" y="459.1"/>
<use href="#my" x="550.4" y="460.6"/>
<use href="#my" x="550.6" y="461.7"/>
<use href="#my" x="550.5" y="463.1"/>
<use href="#my" x="550.4" y="464.3"/>
<use href="#my" x="550.7" y="465.8"/>
<use href="#my" x="550.3" y="467.3"/>
<use href="#my" x="550.7" y="468.6"/>
<use href="#my" x="550.5" y="470.0"/>
<use href="#my" x="550.3" y="471.0"/>
<use href="#my" x="550.3" y="472.4"/>
<use href="#my" x="550.6" y="473.9"/>
<use href="#my" x="550.7" y="475.1"/>
<use href="#my" x="550.6" y="476.7"/>
<use href="#my" x="550.5" y="477.7"/>
<use href="#my" x="550.4" y="478.9"/>
<use href="#my" x="550.6" y="480.4"/>
<use href="#my" x="550.4" y="481.4"/>
<use href="#my" x="550.5" y="482.5"/>
<use href="#my" x="550.5" y="483.7"/>
<use href="#my" x="550.3" y="485.1"/>
<use href="#my" x="551.5" y="459.1"/>
<use href="#my" x="551.8" y="460.7"/>
<use href="#my" x="551.7" y="461.8"/>
<use href="#my" x="551.6" y="462.8"/>
<use href="#my" x="551.7" y="464.1"/>
<use href="#my" x="551.4" y="465.2"/>
<use href="#my" x="551.6" y="466.2"/>
<use href="#my" x="551.5" y="467.2"/>
<use href="#my" x="551.8" y="468.5"/>
<use href="#my" x="551.5" y="469.8"/>
<use href="#my" x="551.5" y="471.1"/>
<use href="#my" x="551.4" y="472.6"/>
<use href="#my" x="551.6" y="473.7"/>
<use href="#my" x="551.4" y="475.2"/>
<use href="#my" x="551.4" y="476.2"/>
<use href="#my" x="551.5" y="477.3"/>
<use href="#my" x="551.7" y="478.4"/>
<use href="#my" x="551.6" y="479.6"/>
<use href="#my" x="551.7" y="480.8"/>
<use href="#my" x="551.6" y="482.3"/>
<use href="#my" x="551.5" y="483.9"/>
<use href="#my" x="551.6" y="485.5"/>
<use href="#my" x="549.5" y="453.0"/>
<use href="#my" x="549.5" y="455.5"/>
<text x="541.25" y="575.70" font-size="11.4" fill="#2e2e2e" text-anchor="middle">Mean monthly outdoor air temperature (°C)</text>
<text transform="translate(368.00,488.90) rotate(-90)" font-size="11.4" fill="#2e2e2e" text-anchor="middle">Indoor operative temperature</text>
<text transform="translate(380.50,488.90) rotate(-90)" font-size="11.4" fill="#2e2e2e" text-anchor="middle">(°C)</text>
<path d="M94.1 601.1L98.8 605.8M98.8 601.1L94.1 605.8" stroke="#5b9bd5" stroke-width="1.1"/>
<text x="111.2" y="607.1" font-size="11.4" fill="#2e2e2e">Typical</text>
<path d="M177.8 601.1L180.6 603.8L177.8 606.5L175 603.8Z" fill="#ed7d31"/>
<text x="192.5" y="607.1" font-size="11.4" fill="#2e2e2e">2030 A1B</text>
<circle cx="272.4" cy="603.4" r="2.6" fill="#a5a5a5"/>
<text x="286.9" y="607.1" font-size="11.4" fill="#2e2e2e">2040 A1B</text>
<path d="M367.9 600.9L370.9 606.6L364.9 606.6Z" fill="#ffc000"/>
<text x="382" y="607.1" font-size="11.4" fill="#2e2e2e">2050 A1B</text>
<line x1="450.6" y1="603.55" x2="475.6" y2="603.55" stroke="#4a4a4a" stroke-width="1.2" stroke-dasharray="3.4 1.4"/>
<text x="477.5" y="607.1" font-size="11.4" fill="#2e2e2e">80% Acceptability limits</text>
</g></svg></body></html>
